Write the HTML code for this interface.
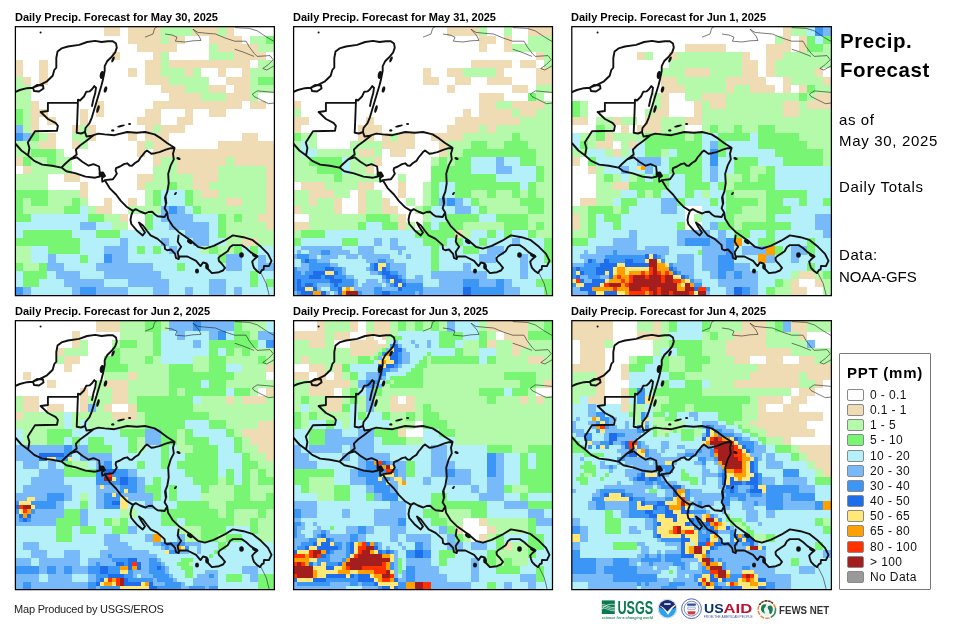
<!DOCTYPE html>
<html><head><meta charset="utf-8"><title>Precip. Forecast</title>
<style>
html,body{margin:0;padding:0;background:#fff}
body{width:970px;height:624px;position:relative;overflow:hidden;font-family:"Liberation Sans",sans-serif;color:#000}
.t{position:absolute;white-space:nowrap;line-height:1;will-change:transform;transform:translateZ(0);-webkit-font-smoothing:antialiased}
.pt{font-weight:bold;font-size:11px}
.sb{font-size:15px;left:839.2px}
.hd{font-weight:bold;font-size:20.5px;left:839.6px}
.lg{font-size:12px;left:870px;color:#111}
.sw{position:absolute;left:847px;width:15px;height:10px;border:1px solid #8a8a8a;border-radius:2px}
</style></head><body>
<svg width="970" height="624" viewBox="0 0 970 624" style="position:absolute;left:0;top:0" shape-rendering="crispEdges">
<defs><clipPath id="cp"><rect x="0" y="0" width="260" height="270"/></clipPath>
<g id="bd" shape-rendering="geometricPrecision"><path d="M0.0 66.0 L4.8 64.0 L12.0 62.2 L17.6 61.7 L24.0 59.3 L32.0 55.3 L37.7 49.7 L39.3 44.0 L41.3 41.7 L41.3 32.0 L42.5 25.6 L46.5 22.4 L52.9 20.5 L64.1 18.9 L72.1 16.0 L80.1 14.9 L86.5 16.0 L92.9 15.2 L97.8 15.2 L101.0 17.6 L101.8 21.6 L100.2 26.4 L96.2 31.3 L92.1 35.3 L89.7 40.1 L89.7 44.9 L88.1 52.9 L86.5 59.3 L84.1 67.3 L81.7 75.3 L79.3 83.3 L76.9 91.3 L74.5 97.2 L70.5 102.0 L70.0 106.0 L71.5 110.5 L76.9 109.6 M18.0 61.5 L22.0 59.0 L28.0 59.5 L28.5 62.5 L24.0 65.5 L19.0 65.0Z M63.0 73.7 L65.0 74.5 L69.0 70.5 L71.3 65.7 L74.5 65.4 L77.0 63.3 L79.3 60.1 L81.0 61.7 L80.2 67.3 L78.5 73.0 L77.0 80.0 M63.0 73.7 L62.4 90.0 L61.7 106.8 L66.0 107.5 L70.0 106.0 M63.0 76.9 L32.9 76.9 L32.9 85.0 L25.6 86.0 L33.0 93.0 L40.9 97.2 L42.9 99.9 L42.0 104.7 L20.0 105.2 L12.8 116.4 L14.4 122.0 L13.1 129.3 M0.0 117.2 L6.4 124.5 L12.8 129.3 L19.2 134.9 L27.2 138.6 L36.9 139.7 L46.5 141.6 L51.3 145.3 L60.9 147.4 L70.5 150.6 L80.1 151.7 L84.9 150.5 L84.5 147.0 L88.0 146.5 L90.0 150.0 L87.0 152.0 L87.3 155.7 L90.0 154.5 L94.6 162.1 L101.0 168.5 L105.8 174.9 L112.2 181.3 L118.0 184.9 L116.3 189.3 L115.5 194.0 L116.3 198.0 L121.5 204.2 L127.7 209.4 L130.0 206.5 L126.0 200.5 L124.0 196.5 L128.0 199.5 L132.1 205.0 L135.6 209.4 L142.6 212.9 L149.6 219.1 L150.0 223.0 L152.2 224.3 L156.0 223.5 L160.1 227.8 L161.0 232.0 L163.6 233.1 L164.5 230.5 L172.4 230.5 L181.1 234.8 L185.5 240.1 L188.0 236.5 L191.6 237.5 L193.0 243.0 L196.9 247.1 L203.9 246.2 L208.0 244.5 L210.0 241.9 L207.0 238.0 L203.9 234.8 L203.5 232.0 L204.8 230.5 L212.7 225.2 L215.0 221.0 L217.9 219.1 L226.7 219.1 L231.0 222.0 L235.5 226.1 L242.5 230.5 L239.5 233.0 L237.2 235.7 L238.0 239.0 L239.0 241.9 L242.0 245.0 L245.1 247.1 L247.0 244.0 L248.6 243.6 L249.0 240.0 L253.9 240.1 L256.5 234.8 L253.0 227.8 L246.0 220.8 L237.2 213.8 L228.5 211.2 L217.9 209.4 L209.2 214.7 L198.7 219.9 L189.9 222.6 L182.9 220.8 L175.9 214.7 L169.7 210.3 L163.6 205.9 L157.5 199.8 L153.1 192.8 L152.2 186.6 L149.6 182.3 L151.3 177.0 L150.5 170.0 M76.9 109.6 L83.3 107.6 L89.7 108.4 L99.4 109.2 L112.2 106.0 L121.8 106.8 L130.0 106.0 L139.6 108.4 L146.0 112.4 L152.4 117.2 L158.8 121.3 L159.6 122.0 L158.0 127.7 L158.8 133.3 L155.6 139.7 L153.2 147.7 L153.7 157.3 L152.4 165.3 L150.0 171.7 L150.8 177.3 M46.5 141.6 L50.0 138.0 L55.3 133.3 L58.5 131.0 L61.7 128.5 L60.9 123.7 L65.0 119.5 L70.5 115.6 L78.5 109.2 M55.3 133.3 L61.7 131.3 L67.3 135.7 L73.7 139.7 L78.5 138.1 L84.1 140.5 L84.9 147.7 M89.7 154.1 L97.8 153.3 L100.0 150.5 L101.8 147.7 L100.6 144.5 L101.0 142.1 L105.0 140.5 L109.0 138.1 L112.2 137.3 L114.5 139.5 L117.0 139.7 L120.0 137.0 L123.4 134.9 L125.5 131.5 L127.4 129.3 L130.0 126.1 L132.0 124.5 L136.4 127.7 L140.0 127.2 L144.4 126.1 L150.8 123.7 L155.0 122.3 L158.8 122.0 M118.0 184.9 L120.7 183.1 L125.0 185.5 L130.3 187.5 L133.5 186.0 L137.3 185.8 L140.0 188.5 L142.6 190.2 L149.6 191.0 L151.0 188.5 L152.2 186.6 M163.6 209.4 L162.7 215.6 L164.5 218.5 L166.2 220.8 L164.0 224.0 L162.7 226.1 L163.6 231.3" fill="none" stroke="#111" stroke-width="1.9" stroke-linejoin="round" stroke-linecap="round"/><g fill="#111"><ellipse cx="98" cy="33.5" rx="1.3" ry="3.2" transform="rotate(25 98 33.5)"/><ellipse cx="87" cy="49" rx="2.2" ry="4" transform="rotate(10 87 49)"/><ellipse cx="90.5" cy="63.5" rx="1.6" ry="3.2" transform="rotate(15 90.5 63.5)"/><ellipse cx="83" cy="83" rx="1.4" ry="4" transform="rotate(15 83 83)"/><ellipse cx="97.8" cy="104.4" rx="1.6" ry="1.2" transform="rotate(0 97.8 104.4)"/><ellipse cx="106" cy="100" rx="4" ry="1" transform="rotate(-15 106 100)"/><ellipse cx="114.6" cy="98" rx="1.6" ry="1.1" transform="rotate(0 114.6 98)"/><ellipse cx="163.5" cy="132.5" rx="2.2" ry="1.4" transform="rotate(20 163.5 132.5)"/><ellipse cx="160.5" cy="167.5" rx="1.8" ry="1" transform="rotate(-50 160.5 167.5)"/><ellipse cx="226.5" cy="229" rx="2.3" ry="2.7" transform="rotate(0 226.5 229)"/><ellipse cx="175" cy="215.5" rx="3.2" ry="2.2" transform="rotate(35 175 215.5)"/><ellipse cx="192" cy="240.5" rx="1.8" ry="3" transform="rotate(0 192 240.5)"/><ellipse cx="182" cy="245" rx="2" ry="2.6" transform="rotate(0 182 245)"/><ellipse cx="240" cy="229.5" rx="3.2" ry="1.6" transform="rotate(25 240 229.5)"/><ellipse cx="86.5" cy="149" rx="2.6" ry="2.2" transform="rotate(0 86.5 149)"/><ellipse cx="25.6" cy="6.6" rx="1" ry="1" transform="rotate(0 25.6 6.6)"/></g><path d="M130.0 11.2 L138.0 8.0 L139.6 2.4 L143.0 0.0 M150.0 8.0 L157.0 9.0 L162.0 11.2 L160.4 15.2 L170.0 16.0 L178.0 14.8 L186.0 14.4 L184.0 10.0 L178.0 3.2 L182.9 6.4 L190.9 7.2 L200.5 8.0 L210.1 12.0 L219.7 15.2 L231.0 15.2 L234.2 20.8 L239.0 27.2 L242.2 30.4 L255.0 29.6 L258.2 33.7 L253.4 38.5 L247.8 42.5 L251.8 44.0 L260.0 39.3 M219.7 23.2 L228.0 26.0 L239.0 30.4 M219.7 1.6 L234.2 2.4 L242.2 4.8 L251.8 11.2 L260.0 16.0 M237.4 68.1 L242.2 64.9 L251.8 65.7 L260.0 66.5 M237.4 68.1 L239.0 70.5 L245.4 73.7 L253.4 77.7 L260.0 76.9 M246.0 247.1 L251.2 257.6 L253.9 268.0 L254.0 270.0" fill="none" stroke="#222" stroke-width="0.6"/></g></defs>
<g transform="translate(15,26)"><g clip-path="url(#cp)">
<path fill="#f0dcb4" d="M89.14 0.00H105.38V2.05H89.14zM113.43 0.00H145.87V2.05H113.43zM178.22 0.00H202.56V2.05H178.22zM210.61 0.00H218.76V2.05H210.61zM89.14 2.00H105.38V6.09H89.14zM113.43 2.00H145.87V6.09H113.43zM178.22 2.00H202.56V6.09H178.22zM210.61 2.00H218.76V6.09H210.61zM89.14 6.04H105.38V10.14H89.14zM113.43 6.04H145.87V10.14H113.43zM178.22 6.04H202.56V10.14H178.22zM210.61 6.04H218.76V10.14H210.61zM113.43 10.09H145.87V14.18H113.43zM153.92 10.09H170.17V14.18H153.92zM194.41 10.09H226.85V14.18H194.41zM113.43 14.13H145.87V18.23H113.43zM153.92 14.13H170.17V18.23H153.92zM194.41 14.13H226.85V18.23H194.41zM121.53 18.18H162.07V22.27H121.53zM202.51 18.18H243.05V22.27H202.51zM121.53 22.22H162.07V26.31H121.53zM202.51 22.22H243.05V26.31H202.51zM97.24 26.26H105.38V30.36H97.24zM137.73 26.26H145.87V30.36H137.73zM218.71 26.26H251.15V30.36H218.71zM97.24 30.31H105.38V34.40H97.24zM137.73 30.31H145.87V34.40H137.73zM218.71 30.31H251.15V34.40H218.71zM0.00 34.35H8.21V38.45H0.00zM24.35 34.35H32.50V38.45H24.35zM129.63 34.35H145.87V38.45H129.63zM153.92 34.35H234.95V38.45H153.92zM0.00 38.40H8.21V42.49H0.00zM24.35 38.40H32.50V42.49H24.35zM129.63 38.40H145.87V42.49H129.63zM153.92 38.40H234.95V42.49H153.92zM0.00 42.44H8.21V46.53H0.00zM24.35 42.44H32.50V46.53H24.35zM113.43 42.44H121.58V46.53H113.43zM129.63 42.44H145.87V46.53H129.63zM170.12 42.44H178.27V46.53H170.12zM202.51 42.44H210.66V46.53H202.51zM226.80 42.44H234.95V46.53H226.80zM0.00 46.48H8.21V50.58H0.00zM24.35 46.48H32.50V50.58H24.35zM113.43 46.48H121.58V50.58H113.43zM129.63 46.48H145.87V50.58H129.63zM170.12 46.48H178.27V50.58H170.12zM202.51 46.48H210.66V50.58H202.51zM226.80 46.48H234.95V50.58H226.80zM8.16 50.53H16.31V54.62H8.16zM24.35 50.53H32.50V54.62H24.35zM129.63 50.53H153.97V54.62H129.63zM210.61 50.53H234.95V54.62H210.61zM8.16 54.57H16.31V58.67H8.16zM24.35 54.57H32.50V58.67H24.35zM129.63 54.57H153.97V58.67H129.63zM210.61 54.57H234.95V58.67H210.61zM145.82 58.62H170.17V62.71H145.82zM194.41 58.62H210.66V62.71H194.41zM218.71 58.62H234.95V62.71H218.71zM145.82 62.66H170.17V66.75H145.82zM194.41 62.66H210.66V66.75H194.41zM218.71 62.66H234.95V66.75H218.71zM153.92 66.70H186.36V70.80H153.92zM210.61 66.70H234.95V70.80H210.61zM153.92 70.75H186.36V74.84H153.92zM210.61 70.75H234.95V74.84H210.61zM16.26 74.79H24.40V78.89H16.26zM81.04 74.79H89.19V78.89H81.04zM137.73 74.79H226.85V78.89H137.73zM234.90 74.79H251.15V78.89H234.90zM16.26 78.84H24.40V82.93H16.26zM81.04 78.84H89.19V82.93H81.04zM137.73 78.84H226.85V82.93H137.73zM234.90 78.84H251.15V82.93H234.90zM16.26 82.88H32.50V86.97H16.26zM64.84 82.88H72.99V86.97H64.84zM81.04 82.88H89.19V86.97H81.04zM129.63 82.88H145.87V86.97H129.63zM170.12 82.88H178.27V86.97H170.12zM194.41 82.88H210.66V86.97H194.41zM16.26 86.92H32.50V91.02H16.26zM64.84 86.92H72.99V91.02H64.84zM81.04 86.92H89.19V91.02H81.04zM129.63 86.92H145.87V91.02H129.63zM170.12 86.92H178.27V91.02H170.12zM194.41 86.92H210.66V91.02H194.41zM16.26 90.97H24.40V95.06H16.26zM32.45 90.97H40.60V95.06H32.45zM64.84 90.97H72.99V95.06H64.84zM121.53 90.97H145.87V95.06H121.53zM162.02 90.97H178.27V95.06H162.02zM16.26 95.01H24.40V99.11H16.26zM32.45 95.01H40.60V99.11H32.45zM64.84 95.01H72.99V99.11H64.84zM121.53 95.01H145.87V99.11H121.53zM162.02 95.01H178.27V99.11H162.02zM16.26 99.06H24.40V103.15H16.26zM56.75 99.06H64.89V103.15H56.75zM72.94 99.06H81.09V103.15H72.94zM129.63 99.06H137.78V103.15H129.63zM145.82 99.06H170.17V103.15H145.82zM16.26 103.10H24.40V107.19H16.26zM56.75 103.10H64.89V107.19H56.75zM72.94 103.10H81.09V107.19H72.94zM129.63 103.10H137.78V107.19H129.63zM145.82 103.10H170.17V107.19H145.82zM32.45 107.14H40.60V111.24H32.45zM72.94 107.14H81.09V111.24H72.94zM113.43 107.14H121.58V111.24H113.43zM129.63 107.14H153.97V111.24H129.63zM226.80 107.14H243.05V111.24H226.80zM32.45 111.19H40.60V115.28H32.45zM72.94 111.19H81.09V115.28H72.94zM113.43 111.19H121.58V115.28H113.43zM129.63 111.19H153.97V115.28H129.63zM226.80 111.19H243.05V115.28H226.80zM24.35 115.23H40.60V119.33H24.35zM56.75 115.23H64.89V119.33H56.75zM121.53 115.23H129.68V119.33H121.53zM137.73 115.23H153.97V119.33H137.73zM202.51 115.23H260.05V119.33H202.51zM24.35 119.28H40.60V123.37H24.35zM56.75 119.28H64.89V123.37H56.75zM121.53 119.28H129.68V123.37H121.53zM137.73 119.28H153.97V123.37H137.73zM202.51 119.28H260.05V123.37H202.51zM121.53 123.32H129.68V127.41H121.53zM137.73 123.32H260.05V127.41H137.73zM121.53 127.36H129.68V131.46H121.53zM137.73 127.36H260.05V131.46H137.73zM0.00 131.41H8.21V135.50H0.00zM137.73 131.41H145.87V135.50H137.73zM162.02 131.41H210.66V135.50H162.02zM218.71 131.41H260.05V135.50H218.71zM0.00 135.45H8.21V139.55H0.00zM137.73 135.45H145.87V139.55H137.73zM162.02 135.45H210.66V139.55H162.02zM218.71 135.45H260.05V139.55H218.71zM8.16 139.50H16.31V143.59H8.16zM162.02 139.50H202.56V143.59H162.02zM251.10 139.50H260.05V143.59H251.10zM8.16 143.54H16.31V147.63H8.16zM162.02 143.54H202.56V147.63H162.02zM251.10 143.54H260.05V147.63H251.10zM48.65 147.58H64.89V151.68H48.65zM121.53 147.58H137.78V151.68H121.53zM178.22 147.58H202.56V151.68H178.22zM251.10 147.58H260.05V151.68H251.10zM48.65 151.63H64.89V155.72H48.65zM121.53 151.63H137.78V155.72H121.53zM178.22 151.63H202.56V155.72H178.22zM251.10 151.63H260.05V155.72H251.10zM64.84 155.67H72.99V159.77H64.84zM121.53 155.67H129.68V159.77H121.53zM178.22 155.67H194.46V159.77H178.22zM251.10 155.67H260.05V159.77H251.10zM64.84 159.72H72.99V163.81H64.84zM121.53 159.72H129.68V163.81H121.53zM178.22 159.72H194.46V163.81H178.22zM251.10 159.72H260.05V163.81H251.10zM64.84 163.76H72.99V167.85H64.84zM186.31 163.76H202.56V167.85H186.31zM251.10 163.76H260.05V167.85H251.10zM64.84 167.80H72.99V171.90H64.84zM186.31 167.80H202.56V171.90H186.31zM251.10 167.80H260.05V171.90H251.10zM89.14 171.85H97.29V175.94H89.14zM113.43 171.85H121.58V175.94H113.43zM210.61 171.85H226.85V175.94H210.61zM251.10 171.85H260.05V175.94H251.10zM89.14 175.89H97.29V179.99H89.14zM113.43 175.89H121.58V179.99H113.43zM210.61 175.89H226.85V179.99H210.61zM251.10 175.89H260.05V179.99H251.10zM81.04 179.94H97.29V184.03H81.04zM251.10 179.94H260.05V184.03H251.10zM81.04 183.98H97.29V188.07H81.04zM251.10 183.98H260.05V188.07H251.10zM105.33 188.02H113.48V192.12H105.33zM243.00 188.02H260.05V192.12H243.00zM105.33 192.07H113.48V196.16H105.33zM243.00 192.07H260.05V196.16H243.00zM251.10 196.11H260.05V200.21H251.10zM251.10 200.16H260.05V204.25H251.10zM226.80 212.29H243.05V216.38H226.80zM226.80 216.33H243.05V220.43H226.80z"/>
<path fill="#b4faaa" d="M145.82 0.00H178.27V2.05H145.82zM202.51 0.00H210.66V2.05H202.51zM145.82 2.00H178.27V6.09H145.82zM202.51 2.00H210.66V6.09H202.51zM145.82 6.04H178.27V10.14H145.82zM202.51 6.04H210.66V10.14H202.51zM145.82 10.09H153.97V14.18H145.82zM234.90 10.09H251.15V14.18H234.90zM145.82 14.13H153.97V18.23H145.82zM234.90 14.13H251.15V18.23H234.90zM194.41 18.18H202.56V22.27H194.41zM243.00 18.18H260.05V22.27H243.00zM194.41 22.22H202.56V26.31H194.41zM243.00 22.22H260.05V26.31H243.00zM145.82 26.26H153.97V30.36H145.82zM194.41 26.26H218.76V30.36H194.41zM145.82 30.31H153.97V34.40H145.82zM194.41 30.31H218.76V34.40H194.41zM145.82 34.35H153.97V38.45H145.82zM243.00 34.35H260.05V38.45H243.00zM145.82 38.40H153.97V42.49H145.82zM243.00 38.40H260.05V42.49H243.00zM145.82 42.44H170.17V46.53H145.82zM178.22 42.44H186.36V46.53H178.22zM234.90 42.44H260.05V46.53H234.90zM145.82 46.48H170.17V50.58H145.82zM178.22 46.48H186.36V50.58H178.22zM234.90 46.48H260.05V50.58H234.90zM0.00 50.53H8.21V54.62H0.00zM153.92 50.53H194.46V54.62H153.92zM234.90 50.53H243.05V54.62H234.90zM0.00 54.57H8.21V58.67H0.00zM153.92 54.57H194.46V58.67H153.92zM234.90 54.57H243.05V58.67H234.90zM0.00 58.62H16.31V62.71H0.00zM170.12 58.62H194.46V62.71H170.12zM234.90 58.62H260.05V62.71H234.90zM0.00 62.66H16.31V66.75H0.00zM170.12 62.66H194.46V66.75H170.12zM234.90 62.66H260.05V66.75H234.90zM0.00 66.70H16.31V70.80H0.00zM186.31 66.70H210.66V70.80H186.31zM234.90 66.70H243.05V70.80H234.90zM0.00 70.75H16.31V74.84H0.00zM186.31 70.75H210.66V74.84H186.31zM234.90 70.75H243.05V74.84H234.90zM0.00 74.79H16.31V78.89H0.00zM0.00 78.84H16.31V82.93H0.00zM8.16 82.88H16.31V86.97H8.16zM8.16 86.92H16.31V91.02H8.16zM8.16 90.97H16.31V95.06H8.16zM8.16 95.01H16.31V99.11H8.16zM8.16 99.06H16.31V103.15H8.16zM64.84 99.06H72.99V103.15H64.84zM137.73 99.06H145.87V103.15H137.73zM8.16 103.10H16.31V107.19H8.16zM64.84 103.10H72.99V107.19H64.84zM137.73 103.10H145.87V107.19H137.73zM24.35 107.14H32.50V111.24H24.35zM56.75 107.14H72.99V111.24H56.75zM24.35 111.19H32.50V115.28H24.35zM56.75 111.19H72.99V115.28H56.75zM0.00 115.23H24.40V119.33H0.00zM64.84 115.23H72.99V119.33H64.84zM129.63 115.23H137.78V119.33H129.63zM0.00 119.28H24.40V123.37H0.00zM64.84 119.28H72.99V123.37H64.84zM129.63 119.28H137.78V123.37H129.63zM0.00 123.32H16.31V127.41H0.00zM40.55 123.32H48.70V127.41H40.55zM0.00 127.36H16.31V131.46H0.00zM40.55 127.36H48.70V131.46H40.55zM16.26 131.41H32.50V135.50H16.26zM40.55 131.41H56.80V135.50H40.55zM145.82 131.41H162.07V135.50H145.82zM210.61 131.41H218.76V135.50H210.61zM16.26 135.45H32.50V139.55H16.26zM40.55 135.45H56.80V139.55H40.55zM145.82 135.45H162.07V139.55H145.82zM210.61 135.45H218.76V139.55H210.61zM16.26 139.50H56.80V143.59H16.26zM137.73 139.50H162.07V143.59H137.73zM202.51 139.50H251.15V143.59H202.51zM16.26 143.54H56.80V147.63H16.26zM137.73 143.54H162.07V147.63H137.73zM202.51 143.54H251.15V147.63H202.51zM0.00 147.58H32.50V151.68H0.00zM137.73 147.58H178.27V151.68H137.73zM202.51 147.58H251.15V151.68H202.51zM0.00 151.63H32.50V155.72H0.00zM137.73 151.63H178.27V155.72H137.73zM202.51 151.63H251.15V155.72H202.51zM0.00 155.67H32.50V159.77H0.00zM129.63 155.67H153.97V159.77H129.63zM162.02 155.67H178.27V159.77H162.02zM194.41 155.67H251.15V159.77H194.41zM0.00 159.72H32.50V163.81H0.00zM129.63 159.72H153.97V163.81H129.63zM162.02 159.72H178.27V163.81H162.02zM194.41 159.72H251.15V163.81H194.41zM32.45 163.76H64.89V167.85H32.45zM129.63 163.76H137.78V167.85H129.63zM178.22 163.76H186.36V167.85H178.22zM202.51 163.76H251.15V167.85H202.51zM32.45 167.80H64.89V171.90H32.45zM129.63 167.80H137.78V171.90H129.63zM178.22 167.80H186.36V171.90H178.22zM202.51 167.80H251.15V171.90H202.51zM8.16 171.85H16.31V175.94H8.16zM32.45 171.85H56.80V175.94H32.45zM64.84 171.85H72.99V175.94H64.84zM129.63 171.85H137.78V175.94H129.63zM178.22 171.85H210.66V175.94H178.22zM226.80 171.85H251.15V175.94H226.80zM8.16 175.89H16.31V179.99H8.16zM32.45 175.89H56.80V179.99H32.45zM64.84 175.89H72.99V179.99H64.84zM129.63 175.89H137.78V179.99H129.63zM178.22 175.89H210.66V179.99H178.22zM226.80 175.89H251.15V179.99H226.80zM8.16 179.94H48.70V184.03H8.16zM72.94 179.94H81.09V184.03H72.94zM113.43 179.94H145.87V184.03H113.43zM186.31 179.94H251.15V184.03H186.31zM8.16 183.98H48.70V188.07H8.16zM72.94 183.98H81.09V188.07H72.94zM113.43 183.98H145.87V188.07H113.43zM186.31 183.98H251.15V188.07H186.31zM89.14 188.02H105.38V192.12H89.14zM210.61 188.02H218.76V192.12H210.61zM226.80 188.02H243.05V192.12H226.80zM89.14 192.07H105.38V196.16H89.14zM210.61 192.07H218.76V196.16H210.61zM226.80 192.07H243.05V196.16H226.80zM97.24 196.11H113.48V200.21H97.24zM210.61 196.11H251.15V200.21H210.61zM97.24 200.16H113.48V204.25H97.24zM210.61 200.16H251.15V204.25H210.61zM210.61 204.20H260.05V208.29H210.61zM210.61 208.24H260.05V212.34H210.61zM210.61 212.29H226.85V216.38H210.61zM243.00 212.29H260.05V216.38H243.00zM210.61 216.33H226.85V220.43H210.61zM243.00 216.33H260.05V220.43H243.00zM0.00 220.38H16.31V224.47H0.00zM186.31 220.38H194.46V224.47H186.31zM202.51 220.38H218.76V224.47H202.51zM0.00 224.42H16.31V228.51H0.00zM186.31 224.42H194.46V228.51H186.31zM202.51 224.42H218.76V228.51H202.51zM0.00 228.46H16.31V232.56H0.00zM0.00 232.51H16.31V236.60H0.00zM8.16 236.55H24.40V240.65H8.16zM8.16 240.60H24.40V244.69H8.16z"/>
<path fill="#78f573" d="M251.10 10.09H260.05V14.18H251.10zM251.10 14.13H260.05V18.23H251.10zM243.00 50.53H260.05V54.62H243.00zM243.00 54.57H260.05V58.67H243.00zM0.00 82.88H8.21V86.97H0.00zM0.00 86.92H8.21V91.02H0.00zM0.00 90.97H8.21V95.06H0.00zM0.00 95.01H8.21V99.11H0.00zM16.26 107.14H24.40V111.24H16.26zM16.26 111.19H24.40V115.28H16.26zM16.26 123.32H40.60V127.41H16.26zM16.26 127.36H40.60V131.46H16.26zM8.16 131.41H16.31V135.50H8.16zM32.45 131.41H40.60V135.50H32.45zM8.16 135.45H16.31V139.55H8.16zM32.45 135.45H40.60V139.55H32.45zM153.92 155.67H162.07V159.77H153.92zM153.92 159.72H162.07V163.81H153.92zM0.00 163.76H32.50V167.85H0.00zM137.73 163.76H145.87V167.85H137.73zM170.12 163.76H178.27V167.85H170.12zM0.00 167.80H32.50V171.90H0.00zM137.73 167.80H145.87V171.90H137.73zM170.12 167.80H178.27V171.90H170.12zM0.00 171.85H8.21V175.94H0.00zM16.26 171.85H32.50V175.94H16.26zM56.75 171.85H64.89V175.94H56.75zM137.73 171.85H145.87V175.94H137.73zM170.12 171.85H178.27V175.94H170.12zM0.00 175.89H8.21V179.99H0.00zM16.26 175.89H32.50V179.99H16.26zM56.75 175.89H64.89V179.99H56.75zM137.73 175.89H145.87V179.99H137.73zM170.12 175.89H178.27V179.99H170.12zM0.00 179.94H8.21V184.03H0.00zM48.65 179.94H64.89V184.03H48.65zM178.22 179.94H186.36V184.03H178.22zM0.00 183.98H8.21V188.07H0.00zM48.65 183.98H64.89V188.07H48.65zM178.22 183.98H186.36V188.07H178.22zM0.00 188.02H16.31V192.12H0.00zM72.94 188.02H89.19V192.12H72.94zM129.63 188.02H137.78V192.12H129.63zM202.51 188.02H210.66V192.12H202.51zM218.71 188.02H226.85V192.12H218.71zM0.00 192.07H16.31V196.16H0.00zM72.94 192.07H89.19V196.16H72.94zM129.63 192.07H137.78V196.16H129.63zM202.51 192.07H210.66V196.16H202.51zM218.71 192.07H226.85V196.16H218.71zM129.63 196.11H137.78V200.21H129.63zM202.51 196.11H210.66V200.21H202.51zM129.63 200.16H137.78V204.25H129.63zM202.51 200.16H210.66V204.25H202.51zM8.16 204.20H56.80V208.29H8.16zM81.04 204.20H105.38V208.29H81.04zM202.51 204.20H210.66V208.29H202.51zM8.16 208.24H56.80V212.34H8.16zM81.04 208.24H105.38V212.34H81.04zM202.51 208.24H210.66V212.34H202.51zM0.00 212.29H64.89V216.38H0.00zM0.00 216.33H64.89V220.43H0.00zM32.45 220.38H64.89V224.47H32.45zM121.53 220.38H129.68V224.47H121.53zM137.73 220.38H145.87V224.47H137.73zM194.41 220.38H202.56V224.47H194.41zM218.71 220.38H226.85V224.47H218.71zM234.90 220.38H243.05V224.47H234.90zM32.45 224.42H64.89V228.51H32.45zM121.53 224.42H129.68V228.51H121.53zM137.73 224.42H145.87V228.51H137.73zM194.41 224.42H202.56V228.51H194.41zM218.71 224.42H226.85V228.51H218.71zM234.90 224.42H243.05V228.51H234.90zM64.84 228.46H72.99V232.56H64.84zM202.51 228.46H210.66V232.56H202.51zM64.84 232.51H72.99V236.60H64.84zM202.51 232.51H210.66V236.60H202.51zM0.00 236.55H8.21V240.65H0.00zM24.35 236.55H32.50V240.65H24.35zM162.02 236.55H170.17V240.65H162.02zM0.00 240.60H8.21V244.69H0.00zM24.35 240.60H32.50V244.69H24.35zM162.02 240.60H170.17V244.69H162.02zM8.16 244.64H32.50V248.73H8.16zM234.90 244.64H243.05V248.73H234.90zM8.16 248.68H32.50V252.78H8.16zM234.90 248.68H243.05V252.78H234.90zM8.16 252.73H24.40V256.82H8.16zM234.90 252.73H243.05V256.82H234.90zM251.10 252.73H260.05V256.82H251.10zM8.16 256.77H24.40V260.87H8.16zM234.90 256.77H243.05V260.87H234.90zM251.10 256.77H260.05V260.87H251.10z"/>
<path fill="#78b9fa" d="M0.00 99.06H8.21V103.15H0.00zM0.00 103.10H8.21V107.19H0.00zM8.16 107.14H16.31V111.24H8.16zM8.16 111.19H16.31V115.28H8.16zM145.82 179.94H153.97V184.03H145.82zM162.02 179.94H170.17V184.03H162.02zM145.82 183.98H153.97V188.07H145.82zM162.02 183.98H170.17V188.07H162.02zM145.82 188.02H178.27V192.12H145.82zM145.82 192.07H178.27V196.16H145.82zM64.84 196.11H81.09V200.21H64.84zM153.92 196.11H194.46V200.21H153.92zM64.84 200.16H81.09V204.25H64.84zM153.92 200.16H194.46V204.25H153.92zM170.12 204.20H194.46V208.29H170.12zM170.12 208.24H194.46V212.34H170.12zM105.33 212.29H113.48V216.38H105.33zM145.82 212.29H153.97V216.38H145.82zM178.22 212.29H194.46V216.38H178.22zM105.33 216.33H113.48V220.43H105.33zM145.82 216.33H153.97V220.43H145.82zM178.22 216.33H194.46V220.43H178.22zM89.14 220.38H113.48V224.47H89.14zM153.92 220.38H162.07V224.47H153.92zM89.14 224.42H113.48V228.51H89.14zM153.92 224.42H162.07V228.51H153.92zM32.45 228.46H40.60V232.56H32.45zM97.24 228.46H113.48V232.56H97.24zM210.61 228.46H226.85V232.56H210.61zM243.00 228.46H251.15V232.56H243.00zM32.45 232.51H40.60V236.60H32.45zM97.24 232.51H113.48V236.60H97.24zM210.61 232.51H226.85V236.60H210.61zM243.00 232.51H251.15V236.60H243.00zM32.45 236.55H48.70V240.65H32.45zM81.04 236.55H137.78V240.65H81.04zM210.61 236.55H226.85V240.65H210.61zM243.00 236.55H260.05V240.65H243.00zM32.45 240.60H48.70V244.69H32.45zM81.04 240.60H137.78V244.69H81.04zM210.61 240.60H226.85V244.69H210.61zM243.00 240.60H260.05V244.69H243.00zM40.55 244.64H64.89V248.73H40.55zM89.14 244.64H145.87V248.73H89.14zM40.55 248.68H64.89V252.78H40.55zM89.14 248.68H145.87V252.78H89.14zM48.65 252.73H89.19V256.82H48.65zM113.43 252.73H153.97V256.82H113.43zM194.41 252.73H210.66V256.82H194.41zM48.65 256.77H89.19V260.87H48.65zM113.43 256.77H153.97V260.87H113.43zM194.41 256.77H210.66V260.87H194.41zM8.16 260.82H16.31V264.91H8.16zM56.75 260.82H64.89V264.91H56.75zM81.04 260.82H113.48V264.91H81.04zM137.73 260.82H153.97V264.91H137.73zM170.12 260.82H178.27V264.91H170.12zM194.41 260.82H210.66V264.91H194.41zM218.71 260.82H226.85V264.91H218.71zM8.16 264.86H16.31V268.95H8.16zM56.75 264.86H64.89V268.95H56.75zM81.04 264.86H113.48V268.95H81.04zM137.73 264.86H153.97V268.95H137.73zM170.12 264.86H178.27V268.95H170.12zM194.41 264.86H210.66V268.95H194.41zM218.71 264.86H226.85V268.95H218.71z"/>
<path fill="#3c96f5" d="M0.00 107.14H8.21V111.24H0.00zM0.00 111.19H8.21V115.28H0.00zM153.92 179.94H162.07V184.03H153.92zM153.92 183.98H162.07V188.07H153.92zM89.14 228.46H97.29V232.56H89.14zM89.14 232.51H97.29V236.60H89.14zM0.00 260.82H8.21V264.91H0.00zM64.84 260.82H81.09V264.91H64.84zM0.00 264.86H8.21V268.95H0.00zM64.84 264.86H81.09V268.95H64.84z"/>
<path fill="#b4f0fa" d="M145.82 163.76H170.17V167.85H145.82zM145.82 167.80H170.17V171.90H145.82zM145.82 171.85H170.17V175.94H145.82zM145.82 175.89H170.17V179.99H145.82zM64.84 179.94H72.99V184.03H64.84zM170.12 179.94H178.27V184.03H170.12zM64.84 183.98H72.99V188.07H64.84zM170.12 183.98H178.27V188.07H170.12zM16.26 188.02H72.99V192.12H16.26zM137.73 188.02H145.87V192.12H137.73zM178.22 188.02H202.56V192.12H178.22zM16.26 192.07H72.99V196.16H16.26zM137.73 192.07H145.87V196.16H137.73zM178.22 192.07H202.56V196.16H178.22zM0.00 196.11H64.89V200.21H0.00zM81.04 196.11H97.29V200.21H81.04zM137.73 196.11H153.97V200.21H137.73zM194.41 196.11H202.56V200.21H194.41zM0.00 200.16H64.89V204.25H0.00zM81.04 200.16H97.29V204.25H81.04zM137.73 200.16H153.97V204.25H137.73zM194.41 200.16H202.56V204.25H194.41zM0.00 204.20H8.21V208.29H0.00zM56.75 204.20H81.09V208.29H56.75zM105.33 204.20H170.17V208.29H105.33zM194.41 204.20H202.56V208.29H194.41zM0.00 208.24H8.21V212.34H0.00zM56.75 208.24H81.09V212.34H56.75zM105.33 208.24H170.17V212.34H105.33zM194.41 208.24H202.56V212.34H194.41zM64.84 212.29H105.38V216.38H64.84zM113.43 212.29H145.87V216.38H113.43zM153.92 212.29H178.27V216.38H153.92zM194.41 212.29H210.66V216.38H194.41zM64.84 216.33H105.38V220.43H64.84zM113.43 216.33H145.87V220.43H113.43zM153.92 216.33H178.27V220.43H153.92zM194.41 216.33H210.66V220.43H194.41zM16.26 220.38H32.50V224.47H16.26zM64.84 220.38H89.19V224.47H64.84zM113.43 220.38H121.58V224.47H113.43zM129.63 220.38H137.78V224.47H129.63zM145.82 220.38H153.97V224.47H145.82zM162.02 220.38H186.36V224.47H162.02zM226.80 220.38H234.95V224.47H226.80zM243.00 220.38H260.05V224.47H243.00zM16.26 224.42H32.50V228.51H16.26zM64.84 224.42H89.19V228.51H64.84zM113.43 224.42H121.58V228.51H113.43zM129.63 224.42H137.78V228.51H129.63zM145.82 224.42H153.97V228.51H145.82zM162.02 224.42H186.36V228.51H162.02zM226.80 224.42H234.95V228.51H226.80zM243.00 224.42H260.05V228.51H243.00zM16.26 228.46H32.50V232.56H16.26zM40.55 228.46H64.89V232.56H40.55zM72.94 228.46H89.19V232.56H72.94zM113.43 228.46H202.56V232.56H113.43zM226.80 228.46H243.05V232.56H226.80zM251.10 228.46H260.05V232.56H251.10zM16.26 232.51H32.50V236.60H16.26zM40.55 232.51H64.89V236.60H40.55zM72.94 232.51H89.19V236.60H72.94zM113.43 232.51H202.56V236.60H113.43zM226.80 232.51H243.05V236.60H226.80zM251.10 232.51H260.05V236.60H251.10zM48.65 236.55H81.09V240.65H48.65zM137.73 236.55H162.07V240.65H137.73zM170.12 236.55H210.66V240.65H170.12zM226.80 236.55H243.05V240.65H226.80zM48.65 240.60H81.09V244.69H48.65zM137.73 240.60H162.07V244.69H137.73zM170.12 240.60H210.66V244.69H170.12zM226.80 240.60H243.05V244.69H226.80zM0.00 244.64H8.21V248.73H0.00zM32.45 244.64H40.60V248.73H32.45zM64.84 244.64H89.19V248.73H64.84zM145.82 244.64H234.95V248.73H145.82zM243.00 244.64H260.05V248.73H243.00zM0.00 248.68H8.21V252.78H0.00zM32.45 248.68H40.60V252.78H32.45zM64.84 248.68H89.19V252.78H64.84zM145.82 248.68H234.95V252.78H145.82zM243.00 248.68H260.05V252.78H243.00zM0.00 252.73H8.21V256.82H0.00zM24.35 252.73H48.70V256.82H24.35zM89.14 252.73H113.48V256.82H89.14zM153.92 252.73H194.46V256.82H153.92zM210.61 252.73H234.95V256.82H210.61zM243.00 252.73H251.15V256.82H243.00zM0.00 256.77H8.21V260.87H0.00zM24.35 256.77H48.70V260.87H24.35zM89.14 256.77H113.48V260.87H89.14zM153.92 256.77H194.46V260.87H153.92zM210.61 256.77H234.95V260.87H210.61zM243.00 256.77H251.15V260.87H243.00zM16.26 260.82H56.80V264.91H16.26zM113.43 260.82H137.78V264.91H113.43zM153.92 260.82H170.17V264.91H153.92zM178.22 260.82H194.46V264.91H178.22zM210.61 260.82H218.76V264.91H210.61zM226.80 260.82H260.05V264.91H226.80zM16.26 264.86H56.80V268.95H16.26zM113.43 264.86H137.78V268.95H113.43zM153.92 264.86H170.17V268.95H153.92zM178.22 264.86H194.46V268.95H178.22zM210.61 264.86H218.76V268.95H210.61zM226.80 264.86H260.05V268.95H226.80z"/>
<use href="#bd"/></g>
<rect x="0.4" y="0.68" width="259.0" height="268.95" fill="none" stroke="#000" stroke-width="1.25" shape-rendering="geometricPrecision"/></g>
<g transform="translate(293,26)"><g clip-path="url(#cp)">
<path fill="#f0dcb4" d="M153.92 0.00H186.36V2.05H153.92zM234.90 0.00H260.05V2.05H234.90zM153.92 2.00H186.36V6.09H153.92zM234.90 2.00H260.05V6.09H234.90zM153.92 6.04H186.36V10.14H153.92zM234.90 6.04H260.05V10.14H234.90zM186.31 10.09H202.56V14.18H186.31zM210.61 10.09H218.76V14.18H210.61zM186.31 14.13H202.56V18.23H186.31zM210.61 14.13H218.76V18.23H210.61zM186.31 18.18H194.46V22.27H186.31zM210.61 18.18H218.76V22.27H210.61zM186.31 22.22H194.46V26.31H186.31zM210.61 22.22H218.76V26.31H210.61zM243.00 26.26H251.15V30.36H243.00zM243.00 30.31H251.15V34.40H243.00zM178.22 34.35H218.76V38.45H178.22zM226.80 34.35H243.05V38.45H226.80zM178.22 38.40H218.76V42.49H178.22zM226.80 38.40H243.05V42.49H226.80zM129.63 42.44H137.78V46.53H129.63zM153.92 42.44H170.17V46.53H153.92zM202.51 42.44H210.66V46.53H202.51zM243.00 42.44H260.05V46.53H243.00zM129.63 46.48H137.78V50.58H129.63zM153.92 46.48H170.17V50.58H153.92zM202.51 46.48H210.66V50.58H202.51zM243.00 46.48H260.05V50.58H243.00zM129.63 50.53H145.87V54.62H129.63zM162.02 50.53H178.27V54.62H162.02zM194.41 50.53H218.76V54.62H194.41zM243.00 50.53H260.05V54.62H243.00zM129.63 54.57H145.87V58.67H129.63zM162.02 54.57H178.27V58.67H162.02zM194.41 54.57H218.76V58.67H194.41zM243.00 54.57H260.05V58.67H243.00zM153.92 58.62H162.07V62.71H153.92zM218.71 58.62H234.95V62.71H218.71zM153.92 62.66H162.07V66.75H153.92zM218.71 62.66H234.95V66.75H218.71zM186.31 66.70H210.66V70.80H186.31zM186.31 70.75H210.66V74.84H186.31zM0.00 74.79H8.21V78.89H0.00zM186.31 74.79H202.56V78.89H186.31zM218.71 74.79H251.15V78.89H218.71zM0.00 78.84H8.21V82.93H0.00zM186.31 78.84H202.56V82.93H186.31zM218.71 78.84H251.15V82.93H218.71zM170.12 82.88H178.27V86.97H170.12zM186.31 82.88H218.76V86.97H186.31zM226.80 82.88H243.05V86.97H226.80zM170.12 86.92H178.27V91.02H170.12zM186.31 86.92H218.76V91.02H186.31zM226.80 86.92H243.05V91.02H226.80zM0.00 90.97H16.31V95.06H0.00zM72.94 90.97H81.09V95.06H72.94zM162.02 90.97H226.85V95.06H162.02zM0.00 95.01H16.31V99.11H0.00zM72.94 95.01H81.09V99.11H72.94zM162.02 95.01H226.85V99.11H162.02zM0.00 99.06H8.21V103.15H0.00zM64.84 99.06H89.19V103.15H64.84zM153.92 99.06H186.36V103.15H153.92zM194.41 99.06H202.56V103.15H194.41zM0.00 103.10H8.21V107.19H0.00zM64.84 103.10H89.19V107.19H64.84zM153.92 103.10H186.36V107.19H153.92zM194.41 103.10H202.56V107.19H194.41zM64.84 107.14H81.09V111.24H64.84zM89.14 107.14H97.29V111.24H89.14zM105.33 107.14H121.58V111.24H105.33zM137.73 107.14H170.17V111.24H137.73zM64.84 111.19H81.09V115.28H64.84zM89.14 111.19H97.29V115.28H89.14zM105.33 111.19H121.58V115.28H105.33zM137.73 111.19H170.17V115.28H137.73zM89.14 115.23H121.58V119.33H89.14zM145.82 115.23H153.97V119.33H145.82zM89.14 119.28H121.58V123.37H89.14zM145.82 119.28H153.97V123.37H145.82zM64.84 123.32H81.09V127.41H64.84zM97.24 123.32H113.48V127.41H97.24zM145.82 123.32H153.97V127.41H145.82zM64.84 127.36H81.09V131.46H64.84zM97.24 127.36H113.48V131.46H97.24zM145.82 127.36H153.97V131.46H145.82zM81.04 131.41H89.19V135.50H81.04zM81.04 135.45H89.19V139.55H81.04zM72.94 139.50H81.09V143.59H72.94zM72.94 143.54H81.09V147.63H72.94zM8.16 155.67H32.50V159.77H8.16zM64.84 155.67H81.09V159.77H64.84zM105.33 155.67H113.48V159.77H105.33zM8.16 159.72H32.50V163.81H8.16zM64.84 159.72H81.09V163.81H64.84zM105.33 159.72H113.48V163.81H105.33zM16.26 163.76H40.60V167.85H16.26zM64.84 163.76H72.99V167.85H64.84zM105.33 163.76H113.48V167.85H105.33zM16.26 167.80H40.60V171.90H16.26zM64.84 167.80H72.99V171.90H64.84zM105.33 167.80H113.48V171.90H105.33zM16.26 171.85H24.40V175.94H16.26zM40.55 171.85H48.70V175.94H40.55zM64.84 171.85H72.99V175.94H64.84zM89.14 171.85H97.29V175.94H89.14zM16.26 175.89H24.40V179.99H16.26zM40.55 175.89H48.70V179.99H40.55zM64.84 175.89H72.99V179.99H64.84zM89.14 175.89H97.29V179.99H89.14zM0.00 179.94H8.21V184.03H0.00zM40.55 179.94H48.70V184.03H40.55zM64.84 179.94H72.99V184.03H64.84zM89.14 179.94H105.38V184.03H89.14zM0.00 183.98H8.21V188.07H0.00zM40.55 183.98H48.70V188.07H40.55zM64.84 183.98H72.99V188.07H64.84zM89.14 183.98H105.38V188.07H89.14zM105.33 188.02H113.48V192.12H105.33zM105.33 192.07H113.48V196.16H105.33zM0.00 196.11H16.31V200.21H0.00zM105.33 196.11H113.48V200.21H105.33zM0.00 200.16H16.31V204.25H0.00zM105.33 200.16H113.48V204.25H105.33zM162.02 204.20H170.17V208.29H162.02zM162.02 208.24H170.17V212.34H162.02z"/>
<path fill="#b4faaa" d="M186.31 0.00H194.46V2.05H186.31zM210.61 0.00H218.76V2.05H210.61zM186.31 2.00H194.46V6.09H186.31zM210.61 2.00H218.76V6.09H210.61zM186.31 6.04H194.46V10.14H186.31zM210.61 6.04H218.76V10.14H210.61zM234.90 10.09H260.05V14.18H234.90zM234.90 14.13H260.05V18.23H234.90zM218.71 18.18H260.05V22.27H218.71zM218.71 22.22H260.05V26.31H218.71zM251.10 26.26H260.05V30.36H251.10zM251.10 30.31H260.05V34.40H251.10zM251.10 34.35H260.05V38.45H251.10zM251.10 38.40H260.05V42.49H251.10zM170.12 42.44H202.56V46.53H170.12zM170.12 46.48H202.56V50.58H170.12zM243.00 58.62H260.05V62.71H243.00zM243.00 62.66H260.05V66.75H243.00zM243.00 66.70H251.15V70.80H243.00zM243.00 70.75H251.15V74.84H243.00zM202.51 74.79H218.76V78.89H202.51zM251.10 74.79H260.05V78.89H251.10zM202.51 78.84H218.76V82.93H202.51zM251.10 78.84H260.05V82.93H251.10zM0.00 82.88H8.21V86.97H0.00zM218.71 82.88H226.85V86.97H218.71zM243.00 82.88H260.05V86.97H243.00zM0.00 86.92H8.21V91.02H0.00zM218.71 86.92H226.85V91.02H218.71zM243.00 86.92H260.05V91.02H243.00zM226.80 90.97H260.05V95.06H226.80zM226.80 95.01H260.05V99.11H226.80zM186.31 99.06H194.46V103.15H186.31zM202.51 99.06H260.05V103.15H202.51zM186.31 103.10H194.46V107.19H186.31zM202.51 103.10H260.05V107.19H202.51zM8.16 107.14H24.40V111.24H8.16zM97.24 107.14H105.38V111.24H97.24zM170.12 107.14H218.76V111.24H170.12zM226.80 107.14H260.05V111.24H226.80zM8.16 111.19H24.40V115.28H8.16zM97.24 111.19H105.38V115.28H97.24zM170.12 111.19H218.76V115.28H170.12zM226.80 111.19H260.05V115.28H226.80zM0.00 115.23H8.21V119.33H0.00zM16.26 115.23H24.40V119.33H16.26zM56.75 115.23H89.19V119.33H56.75zM153.92 115.23H178.27V119.33H153.92zM194.41 115.23H210.66V119.33H194.41zM234.90 115.23H260.05V119.33H234.90zM0.00 119.28H8.21V123.37H0.00zM16.26 119.28H24.40V123.37H16.26zM56.75 119.28H89.19V123.37H56.75zM153.92 119.28H178.27V123.37H153.92zM194.41 119.28H210.66V123.37H194.41zM234.90 119.28H260.05V123.37H234.90zM0.00 123.32H8.21V127.41H0.00zM24.35 123.32H64.89V127.41H24.35zM81.04 123.32H89.19V127.41H81.04zM153.92 123.32H170.17V127.41H153.92zM243.00 123.32H260.05V127.41H243.00zM0.00 127.36H8.21V131.46H0.00zM24.35 127.36H64.89V131.46H24.35zM81.04 127.36H89.19V131.46H81.04zM153.92 127.36H170.17V131.46H153.92zM243.00 127.36H260.05V131.46H243.00zM0.00 131.41H16.31V135.50H0.00zM56.75 131.41H81.09V135.50H56.75zM137.73 131.41H145.87V135.50H137.73zM153.92 131.41H162.07V135.50H153.92zM243.00 131.41H260.05V135.50H243.00zM0.00 135.45H16.31V139.55H0.00zM56.75 135.45H81.09V139.55H56.75zM137.73 135.45H145.87V139.55H137.73zM153.92 135.45H162.07V139.55H153.92zM243.00 135.45H260.05V139.55H243.00zM0.00 139.50H24.40V143.59H0.00zM56.75 139.50H72.99V143.59H56.75zM251.10 139.50H260.05V143.59H251.10zM0.00 143.54H24.40V147.63H0.00zM56.75 143.54H72.99V147.63H56.75zM251.10 143.54H260.05V147.63H251.10zM0.00 147.58H40.60V151.68H0.00zM48.65 147.58H89.19V151.68H48.65zM105.33 147.58H113.48V151.68H105.33zM251.10 147.58H260.05V151.68H251.10zM0.00 151.63H40.60V155.72H0.00zM48.65 151.63H89.19V155.72H48.65zM105.33 151.63H113.48V155.72H105.33zM251.10 151.63H260.05V155.72H251.10zM32.45 155.67H64.89V159.77H32.45zM129.63 155.67H137.78V159.77H129.63zM243.00 155.67H260.05V159.77H243.00zM32.45 159.72H64.89V163.81H32.45zM129.63 159.72H137.78V163.81H129.63zM243.00 159.72H260.05V163.81H243.00zM0.00 163.76H16.31V167.85H0.00zM40.55 163.76H56.80V167.85H40.55zM72.94 163.76H89.19V167.85H72.94zM129.63 163.76H137.78V167.85H129.63zM178.22 163.76H194.46V167.85H178.22zM202.51 163.76H218.76V167.85H202.51zM226.80 163.76H234.95V167.85H226.80zM243.00 163.76H260.05V167.85H243.00zM0.00 167.80H16.31V171.90H0.00zM40.55 167.80H56.80V171.90H40.55zM72.94 167.80H89.19V171.90H72.94zM129.63 167.80H137.78V171.90H129.63zM178.22 167.80H194.46V171.90H178.22zM202.51 167.80H218.76V171.90H202.51zM226.80 167.80H234.95V171.90H226.80zM243.00 167.80H260.05V171.90H243.00zM0.00 171.85H16.31V175.94H0.00zM24.35 171.85H40.60V175.94H24.35zM72.94 171.85H89.19V175.94H72.94zM113.43 171.85H121.58V175.94H113.43zM129.63 171.85H137.78V175.94H129.63zM186.31 171.85H226.85V175.94H186.31zM251.10 171.85H260.05V175.94H251.10zM0.00 175.89H16.31V179.99H0.00zM24.35 175.89H40.60V179.99H24.35zM72.94 175.89H89.19V179.99H72.94zM113.43 175.89H121.58V179.99H113.43zM129.63 175.89H137.78V179.99H129.63zM186.31 175.89H226.85V179.99H186.31zM251.10 175.89H260.05V179.99H251.10zM8.16 179.94H40.60V184.03H8.16zM72.94 179.94H89.19V184.03H72.94zM121.53 179.94H129.68V184.03H121.53zM194.41 179.94H234.95V184.03H194.41zM251.10 179.94H260.05V184.03H251.10zM8.16 183.98H40.60V188.07H8.16zM72.94 183.98H89.19V188.07H72.94zM121.53 183.98H129.68V188.07H121.53zM194.41 183.98H234.95V188.07H194.41zM251.10 183.98H260.05V188.07H251.10zM16.26 188.02H72.99V192.12H16.26zM97.24 188.02H105.38V192.12H97.24zM129.63 188.02H137.78V192.12H129.63zM234.90 188.02H260.05V192.12H234.90zM16.26 192.07H72.99V196.16H16.26zM97.24 192.07H105.38V196.16H97.24zM129.63 192.07H137.78V196.16H129.63zM234.90 192.07H260.05V196.16H234.90zM16.26 196.11H64.89V200.21H16.26zM113.43 196.11H121.58V200.21H113.43zM170.12 196.11H210.66V200.21H170.12zM234.90 196.11H243.05V200.21H234.90zM251.10 196.11H260.05V200.21H251.10zM16.26 200.16H64.89V204.25H16.26zM113.43 200.16H121.58V204.25H113.43zM170.12 200.16H210.66V204.25H170.12zM234.90 200.16H243.05V204.25H234.90zM251.10 200.16H260.05V204.25H251.10zM0.00 204.20H8.21V208.29H0.00zM170.12 204.20H178.27V208.29H170.12zM243.00 204.20H260.05V208.29H243.00zM0.00 208.24H8.21V212.34H0.00zM170.12 208.24H178.27V212.34H170.12zM243.00 208.24H260.05V212.34H243.00z"/>
<path fill="#78f573" d="M234.90 66.70H243.05V70.80H234.90zM234.90 70.75H243.05V74.84H234.90zM0.00 107.14H8.21V111.24H0.00zM218.71 107.14H226.85V111.24H218.71zM0.00 111.19H8.21V115.28H0.00zM218.71 111.19H226.85V115.28H218.71zM178.22 115.23H194.46V119.33H178.22zM210.61 115.23H234.95V119.33H210.61zM178.22 119.28H194.46V123.37H178.22zM210.61 119.28H234.95V123.37H210.61zM170.12 123.32H243.05V127.41H170.12zM170.12 127.36H243.05V131.46H170.12zM16.26 131.41H48.70V135.50H16.26zM145.82 131.41H153.97V135.50H145.82zM162.02 131.41H178.27V135.50H162.02zM226.80 131.41H243.05V135.50H226.80zM16.26 135.45H48.70V139.55H16.26zM145.82 135.45H153.97V139.55H145.82zM162.02 135.45H178.27V139.55H162.02zM226.80 135.45H243.05V139.55H226.80zM24.35 139.50H48.70V143.59H24.35zM137.73 139.50H178.27V143.59H137.73zM243.00 139.50H251.15V143.59H243.00zM24.35 143.54H48.70V147.63H24.35zM137.73 143.54H178.27V147.63H137.73zM243.00 143.54H251.15V147.63H243.00zM40.55 147.58H48.70V151.68H40.55zM137.73 147.58H202.56V151.68H137.73zM243.00 147.58H251.15V151.68H243.00zM40.55 151.63H48.70V155.72H40.55zM137.73 151.63H202.56V155.72H137.73zM243.00 151.63H251.15V155.72H243.00zM137.73 155.67H145.87V159.77H137.73zM162.02 155.67H226.85V159.77H162.02zM234.90 155.67H243.05V159.77H234.90zM137.73 159.72H145.87V163.81H137.73zM162.02 159.72H226.85V163.81H162.02zM234.90 159.72H243.05V163.81H234.90zM137.73 163.76H145.87V167.85H137.73zM162.02 163.76H178.27V167.85H162.02zM194.41 163.76H202.56V167.85H194.41zM218.71 163.76H226.85V167.85H218.71zM234.90 163.76H243.05V167.85H234.90zM137.73 167.80H145.87V171.90H137.73zM162.02 167.80H178.27V171.90H162.02zM194.41 167.80H202.56V171.90H194.41zM218.71 167.80H226.85V171.90H218.71zM234.90 167.80H243.05V171.90H234.90zM137.73 171.85H145.87V175.94H137.73zM178.22 171.85H186.36V175.94H178.22zM226.80 171.85H251.15V175.94H226.80zM137.73 175.89H145.87V179.99H137.73zM178.22 175.89H186.36V179.99H178.22zM226.80 175.89H251.15V179.99H226.80zM129.63 179.94H137.78V184.03H129.63zM186.31 179.94H194.46V184.03H186.31zM234.90 179.94H251.15V184.03H234.90zM129.63 183.98H137.78V188.07H129.63zM186.31 183.98H194.46V188.07H186.31zM234.90 183.98H251.15V188.07H234.90zM72.94 188.02H97.29V192.12H72.94zM153.92 188.02H186.36V192.12H153.92zM202.51 188.02H234.95V192.12H202.51zM72.94 192.07H97.29V196.16H72.94zM153.92 192.07H186.36V196.16H153.92zM202.51 192.07H234.95V196.16H202.51zM64.84 196.11H72.99V200.21H64.84zM89.14 196.11H105.38V200.21H89.14zM129.63 196.11H137.78V200.21H129.63zM145.82 196.11H170.17V200.21H145.82zM210.61 196.11H234.95V200.21H210.61zM243.00 196.11H251.15V200.21H243.00zM64.84 200.16H72.99V204.25H64.84zM89.14 200.16H105.38V204.25H89.14zM129.63 200.16H137.78V204.25H129.63zM145.82 200.16H170.17V204.25H145.82zM210.61 200.16H234.95V204.25H210.61zM243.00 200.16H251.15V204.25H243.00zM8.16 204.20H32.50V208.29H8.16zM121.53 204.20H162.07V208.29H121.53zM194.41 204.20H202.56V208.29H194.41zM210.61 204.20H218.76V208.29H210.61zM234.90 204.20H243.05V208.29H234.90zM8.16 208.24H32.50V212.34H8.16zM121.53 208.24H162.07V212.34H121.53zM194.41 208.24H202.56V212.34H194.41zM210.61 208.24H218.76V212.34H210.61zM234.90 208.24H243.05V212.34H234.90zM0.00 212.29H8.21V216.38H0.00zM48.65 212.29H64.89V216.38H48.65zM129.63 212.29H153.97V216.38H129.63zM162.02 212.29H170.17V216.38H162.02zM186.31 212.29H194.46V216.38H186.31zM251.10 212.29H260.05V216.38H251.10zM0.00 216.33H8.21V220.43H0.00zM48.65 216.33H64.89V220.43H48.65zM129.63 216.33H153.97V220.43H129.63zM162.02 216.33H170.17V220.43H162.02zM186.31 216.33H194.46V220.43H186.31zM251.10 216.33H260.05V220.43H251.10zM137.73 220.38H145.87V224.47H137.73zM170.12 220.38H186.36V224.47H170.12zM251.10 220.38H260.05V224.47H251.10zM137.73 224.42H145.87V228.51H137.73zM170.12 224.42H186.36V228.51H170.12zM251.10 224.42H260.05V228.51H251.10zM137.73 228.46H145.87V232.56H137.73zM251.10 228.46H260.05V232.56H251.10zM137.73 232.51H145.87V236.60H137.73zM251.10 232.51H260.05V236.60H251.10zM137.73 236.55H145.87V240.65H137.73zM137.73 240.60H145.87V244.69H137.73zM243.00 252.73H260.05V256.82H243.00zM243.00 256.77H260.05V260.87H243.00zM251.10 260.82H260.05V264.91H251.10zM251.10 264.86H260.05V268.95H251.10z"/>
<path fill="#b4f0fa" d="M8.16 115.23H16.31V119.33H8.16zM8.16 119.28H16.31V123.37H8.16zM8.16 123.32H24.40V127.41H8.16zM8.16 127.36H24.40V131.46H8.16zM48.65 131.41H56.80V135.50H48.65zM178.22 131.41H202.56V135.50H178.22zM210.61 131.41H226.85V135.50H210.61zM48.65 135.45H56.80V139.55H48.65zM178.22 135.45H202.56V139.55H178.22zM210.61 135.45H226.85V139.55H210.61zM48.65 139.50H56.80V143.59H48.65zM178.22 139.50H202.56V143.59H178.22zM218.71 139.50H243.05V143.59H218.71zM48.65 143.54H56.80V147.63H48.65zM178.22 143.54H202.56V147.63H178.22zM218.71 143.54H243.05V147.63H218.71zM202.51 147.58H243.05V151.68H202.51zM202.51 151.63H243.05V155.72H202.51zM145.82 155.67H162.07V159.77H145.82zM226.80 155.67H234.95V159.77H226.80zM145.82 159.72H162.07V163.81H145.82zM226.80 159.72H234.95V163.81H226.80zM145.82 163.76H162.07V167.85H145.82zM145.82 167.80H162.07V171.90H145.82zM170.12 171.85H178.27V175.94H170.12zM170.12 175.89H178.27V179.99H170.12zM137.73 179.94H162.07V184.03H137.73zM178.22 179.94H186.36V184.03H178.22zM137.73 183.98H162.07V188.07H137.73zM178.22 183.98H186.36V188.07H178.22zM137.73 188.02H153.97V192.12H137.73zM186.31 188.02H202.56V192.12H186.31zM137.73 192.07H153.97V196.16H137.73zM186.31 192.07H202.56V196.16H186.31zM72.94 196.11H89.19V200.21H72.94zM137.73 196.11H145.87V200.21H137.73zM72.94 200.16H89.19V204.25H72.94zM137.73 200.16H145.87V204.25H137.73zM32.45 204.20H121.58V208.29H32.45zM178.22 204.20H194.46V208.29H178.22zM202.51 204.20H210.66V208.29H202.51zM218.71 204.20H234.95V208.29H218.71zM32.45 208.24H121.58V212.34H32.45zM178.22 208.24H194.46V212.34H178.22zM202.51 208.24H210.66V212.34H202.51zM218.71 208.24H234.95V212.34H218.71zM8.16 212.29H48.70V216.38H8.16zM64.84 212.29H81.09V216.38H64.84zM89.14 212.29H97.29V216.38H89.14zM105.33 212.29H129.68V216.38H105.33zM153.92 212.29H162.07V216.38H153.92zM170.12 212.29H186.36V216.38H170.12zM194.41 212.29H218.76V216.38H194.41zM226.80 212.29H251.15V216.38H226.80zM8.16 216.33H48.70V220.43H8.16zM64.84 216.33H81.09V220.43H64.84zM89.14 216.33H97.29V220.43H89.14zM105.33 216.33H129.68V220.43H105.33zM153.92 216.33H162.07V220.43H153.92zM170.12 216.33H186.36V220.43H170.12zM194.41 216.33H218.76V220.43H194.41zM226.80 216.33H251.15V220.43H226.80zM0.00 220.38H8.21V224.47H0.00zM48.65 220.38H64.89V224.47H48.65zM81.04 220.38H97.29V224.47H81.04zM113.43 220.38H137.78V224.47H113.43zM145.82 220.38H170.17V224.47H145.82zM186.31 220.38H194.46V224.47H186.31zM210.61 220.38H251.15V224.47H210.61zM0.00 224.42H4.16V228.51H0.00zM8.16 224.42H16.31V228.51H8.16zM56.75 224.42H64.89V228.51H56.75zM81.04 224.42H105.38V228.51H81.04zM109.38 224.42H137.78V228.51H109.38zM145.82 224.42H170.17V228.51H145.82zM186.31 224.42H194.46V228.51H186.31zM210.61 224.42H251.15V228.51H210.61zM24.35 228.46H28.45V232.56H24.35zM44.60 228.46H52.75V232.56H44.60zM64.84 228.46H68.94V232.56H64.84zM97.24 228.46H113.48V232.56H97.24zM117.48 228.46H137.78V232.56H117.48zM145.82 228.46H186.36V232.56H145.82zM202.51 228.46H226.85V232.56H202.51zM234.90 228.46H251.15V232.56H234.90zM0.00 232.51H8.21V236.60H0.00zM36.50 232.51H72.99V236.60H36.50zM101.29 232.51H137.78V236.60H101.29zM145.82 232.51H186.36V236.60H145.82zM202.51 232.51H226.85V236.60H202.51zM234.90 232.51H251.15V236.60H234.90zM0.00 236.55H8.21V240.65H0.00zM44.60 236.55H77.04V240.65H44.60zM113.43 236.55H137.78V240.65H113.43zM145.82 236.55H170.17V240.65H145.82zM178.22 236.55H226.85V240.65H178.22zM234.90 236.55H260.05V240.65H234.90zM52.70 240.60H72.99V244.69H52.70zM113.43 240.60H137.78V244.69H113.43zM145.82 240.60H170.17V244.69H145.82zM178.22 240.60H226.85V244.69H178.22zM234.90 240.60H260.05V244.69H234.90zM52.70 244.64H77.04V248.73H52.70zM113.43 244.64H137.78V248.73H113.43zM194.41 244.64H226.85V248.73H194.41zM234.90 244.64H260.05V248.73H234.90zM60.80 248.68H89.19V252.78H60.80zM113.43 248.68H121.58V252.78H113.43zM129.63 248.68H137.78V252.78H129.63zM194.41 248.68H226.85V252.78H194.41zM234.90 248.68H260.05V252.78H234.90zM64.84 252.73H72.99V256.82H64.84zM85.09 252.73H89.19V256.82H85.09zM129.63 252.73H145.87V256.82H129.63zM218.71 252.73H243.05V256.82H218.71zM64.84 256.77H68.94V260.87H64.84zM89.14 256.77H93.24V260.87H89.14zM129.63 256.77H145.87V260.87H129.63zM218.71 256.77H243.05V260.87H218.71zM28.40 260.82H36.55V264.91H28.40zM226.80 260.82H251.15V264.91H226.80zM36.50 264.86H40.60V268.95H36.50zM226.80 264.86H251.15V268.95H226.80z"/>
<path fill="#78b9fa" d="M202.51 131.41H210.66V135.50H202.51zM202.51 135.45H210.66V139.55H202.51zM202.51 139.50H218.76V143.59H202.51zM202.51 143.54H218.76V147.63H202.51zM145.82 171.85H153.97V175.94H145.82zM162.02 171.85H170.17V175.94H162.02zM145.82 175.89H153.97V179.99H145.82zM162.02 175.89H170.17V179.99H162.02zM162.02 179.94H178.27V184.03H162.02zM162.02 183.98H178.27V188.07H162.02zM81.04 212.29H89.19V216.38H81.04zM97.24 212.29H105.38V216.38H97.24zM218.71 212.29H226.85V216.38H218.71zM81.04 216.33H89.19V220.43H81.04zM97.24 216.33H105.38V220.43H97.24zM218.71 216.33H226.85V220.43H218.71zM8.16 220.38H48.70V224.47H8.16zM64.84 220.38H81.09V224.47H64.84zM97.24 220.38H113.48V224.47H97.24zM194.41 220.38H210.66V224.47H194.41zM4.11 224.42H8.21V228.51H4.11zM16.26 224.42H28.45V228.51H16.26zM36.50 224.42H56.80V228.51H36.50zM64.84 224.42H81.09V228.51H64.84zM105.33 224.42H109.43V228.51H105.33zM194.41 224.42H210.66V228.51H194.41zM0.00 228.46H4.16V232.56H0.00zM16.26 228.46H24.40V232.56H16.26zM28.40 228.46H44.65V232.56H28.40zM52.70 228.46H64.89V232.56H52.70zM68.89 228.46H97.29V232.56H68.89zM113.43 228.46H117.53V232.56H113.43zM186.31 228.46H202.56V232.56H186.31zM226.80 228.46H234.95V232.56H226.80zM24.35 232.51H36.55V236.60H24.35zM72.94 232.51H85.14V236.60H72.94zM93.19 232.51H101.34V236.60H93.19zM186.31 232.51H202.56V236.60H186.31zM226.80 232.51H234.95V236.60H226.80zM8.16 236.55H16.31V240.65H8.16zM36.50 236.55H44.65V240.65H36.50zM97.24 236.55H113.48V240.65H97.24zM170.12 236.55H178.27V240.65H170.12zM226.80 236.55H234.95V240.65H226.80zM4.11 240.60H16.31V244.69H4.11zM48.65 240.60H52.75V244.69H48.65zM72.94 240.60H77.04V244.69H72.94zM97.24 240.60H113.48V244.69H97.24zM170.12 240.60H178.27V244.69H170.12zM226.80 240.60H234.95V244.69H226.80zM8.16 244.64H12.26V248.73H8.16zM48.65 244.64H52.75V248.73H48.65zM76.99 244.64H85.14V248.73H76.99zM105.33 244.64H113.48V248.73H105.33zM137.73 244.64H194.46V248.73H137.73zM226.80 244.64H234.95V248.73H226.80zM52.70 248.68H60.85V252.78H52.70zM109.38 248.68H113.48V252.78H109.38zM121.53 248.68H129.68V252.78H121.53zM137.73 248.68H194.46V252.78H137.73zM226.80 248.68H234.95V252.78H226.80zM60.80 252.73H64.89V256.82H60.80zM72.94 252.73H85.14V256.82H72.94zM89.14 252.73H93.24V256.82H89.14zM113.43 252.73H129.68V256.82H113.43zM145.82 252.73H170.17V256.82H145.82zM186.31 252.73H202.56V256.82H186.31zM210.61 252.73H218.76V256.82H210.61zM24.35 256.77H36.55V260.87H24.35zM60.80 256.77H64.89V260.87H60.80zM68.89 256.77H89.19V260.87H68.89zM93.19 256.77H97.29V260.87H93.19zM145.82 256.77H170.17V260.87H145.82zM186.31 256.77H202.56V260.87H186.31zM210.61 256.77H218.76V260.87H210.61zM24.35 260.82H28.45V264.91H24.35zM60.80 260.82H81.09V264.91H60.80zM89.14 260.82H105.38V264.91H89.14zM129.63 260.82H170.17V264.91H129.63zM210.61 260.82H226.85V264.91H210.61zM0.00 264.86H4.16V268.95H0.00zM32.45 264.86H36.55V268.95H32.45zM40.55 264.86H44.65V268.95H40.55zM68.89 264.86H81.09V268.95H68.89zM121.53 264.86H125.63V268.95H121.53zM129.63 264.86H170.17V268.95H129.63zM210.61 264.86H226.85V268.95H210.61z"/>
<path fill="#3c96f5" d="M153.92 171.85H162.07V175.94H153.92zM153.92 175.89H162.07V179.99H153.92zM28.40 224.42H36.55V228.51H28.40zM4.11 228.46H16.31V232.56H4.11zM8.16 232.51H12.26V236.60H8.16zM16.26 232.51H24.40V236.60H16.26zM85.09 232.51H93.24V236.60H85.09zM16.26 236.55H36.55V240.65H16.26zM76.99 236.55H81.09V240.65H76.99zM93.19 236.55H97.29V240.65H93.19zM0.00 240.60H4.16V244.69H0.00zM16.26 240.60H32.50V244.69H16.26zM40.55 240.60H48.70V244.69H40.55zM76.99 240.60H81.09V244.69H76.99zM93.19 240.60H97.29V244.69H93.19zM0.00 244.64H8.21V248.73H0.00zM12.21 244.64H20.36V248.73H12.21zM44.60 244.64H48.70V248.73H44.60zM85.09 244.64H89.19V248.73H85.09zM97.24 244.64H105.38V248.73H97.24zM0.00 248.68H16.31V252.78H0.00zM28.40 248.68H32.50V252.78H28.40zM40.55 248.68H52.75V252.78H40.55zM89.14 248.68H93.24V252.78H89.14zM105.33 248.68H109.43V252.78H105.33zM0.00 252.73H4.16V256.82H0.00zM8.16 252.73H36.55V256.82H8.16zM48.65 252.73H60.85V256.82H48.65zM93.19 252.73H97.29V256.82H93.19zM109.38 252.73H113.48V256.82H109.38zM170.12 252.73H186.36V256.82H170.12zM202.51 252.73H210.66V256.82H202.51zM0.00 256.77H4.16V260.87H0.00zM8.16 256.77H12.26V260.87H8.16zM20.30 256.77H24.40V260.87H20.30zM36.50 256.77H40.60V260.87H36.50zM44.60 256.77H60.85V260.87H44.60zM97.24 256.77H101.34V260.87H97.24zM113.43 256.77H129.68V260.87H113.43zM170.12 256.77H186.36V260.87H170.12zM202.51 256.77H210.66V260.87H202.51zM0.00 260.82H4.16V264.91H0.00zM36.50 260.82H44.65V264.91H36.50zM81.04 260.82H89.19V264.91H81.04zM109.38 260.82H129.68V264.91H109.38zM178.22 260.82H210.66V264.91H178.22zM4.11 264.86H8.21V268.95H4.11zM64.84 264.86H68.94V268.95H64.84zM81.04 264.86H89.19V268.95H81.04zM97.24 264.86H121.58V268.95H97.24zM125.58 264.86H129.68V268.95H125.58zM178.22 264.86H210.66V268.95H178.22z"/>
<path fill="#1e6eeb" d="M12.21 232.51H16.31V236.60H12.21zM81.04 236.55H85.14V240.65H81.04zM32.45 240.60H40.60V244.69H32.45zM81.04 240.60H85.14V244.69H81.04zM89.14 240.60H93.24V244.69H89.14zM20.30 244.64H32.50V248.73H20.30zM40.55 244.64H44.65V248.73H40.55zM89.14 244.64H97.29V248.73H89.14zM16.26 248.68H28.45V252.78H16.26zM32.45 248.68H40.60V252.78H32.45zM93.19 248.68H105.38V252.78H93.19zM4.11 252.73H8.21V256.82H4.11zM36.50 252.73H48.70V256.82H36.50zM101.29 252.73H109.43V256.82H101.29zM4.11 256.77H8.21V260.87H4.11zM12.21 256.77H20.36V260.87H12.21zM40.55 256.77H44.65V260.87H40.55zM101.29 256.77H105.38V260.87H101.29zM109.38 256.77H113.48V260.87H109.38zM4.11 260.82H12.26V264.91H4.11zM20.30 260.82H24.40V264.91H20.30zM44.60 260.82H48.70V264.91H44.60zM105.33 260.82H109.43V264.91H105.33zM170.12 260.82H178.27V264.91H170.12zM8.16 264.86H20.36V268.95H8.16zM28.40 264.86H32.50V268.95H28.40zM44.60 264.86H48.70V268.95H44.60zM89.14 264.86H97.29V268.95H89.14zM170.12 264.86H178.27V268.95H170.12z"/>
<path fill="#ffe878" d="M85.09 236.55H93.24V240.65H85.09zM85.09 240.60H89.19V244.69H85.09zM32.45 244.64H40.60V248.73H32.45zM97.24 252.73H101.34V256.82H97.24zM105.33 256.77H109.43V260.87H105.33zM12.21 260.82H20.36V264.91H12.21zM48.65 260.82H52.75V264.91H48.65zM56.75 260.82H60.85V264.91H56.75z"/>
<path fill="#ffa000" d="M52.70 260.82H56.80V264.91H52.70zM20.30 264.86H28.45V268.95H20.30zM48.65 264.86H52.75V268.95H48.65z"/>
<path fill="#a51e1e" d="M52.70 264.86H64.89V268.95H52.70z"/>
<use href="#bd"/></g>
<rect x="0.6" y="0.68" width="258.9" height="268.95" fill="none" stroke="#000" stroke-width="1.25" shape-rendering="geometricPrecision"/></g>
<g transform="translate(572,26)"><g clip-path="url(#cp)">
<path fill="#f0dcb4" d="M210.61 0.00H218.76V2.05H210.61zM210.61 2.00H218.76V6.09H210.61zM210.61 6.04H218.76V10.14H210.61zM210.61 10.09H218.76V14.18H210.61zM226.80 10.09H234.95V14.18H226.80zM210.61 14.13H218.76V18.23H210.61zM226.80 14.13H234.95V18.23H226.80zM113.43 18.18H153.97V22.27H113.43zM194.41 18.18H218.76V22.27H194.41zM226.80 18.18H234.95V22.27H226.80zM113.43 22.22H153.97V26.31H113.43zM194.41 22.22H218.76V26.31H194.41zM226.80 22.22H234.95V26.31H226.80zM64.84 26.26H72.99V30.36H64.84zM97.24 26.26H105.38V30.36H97.24zM170.12 26.26H178.27V30.36H170.12zM194.41 26.26H210.66V30.36H194.41zM64.84 30.31H72.99V34.40H64.84zM97.24 30.31H105.38V34.40H97.24zM170.12 30.31H178.27V34.40H170.12zM194.41 30.31H210.66V34.40H194.41zM170.12 34.35H186.36V38.45H170.12zM194.41 34.35H202.56V38.45H194.41zM170.12 38.40H186.36V42.49H170.12zM194.41 38.40H202.56V42.49H194.41zM113.43 42.44H137.78V46.53H113.43zM170.12 42.44H186.36V46.53H170.12zM194.41 42.44H202.56V46.53H194.41zM243.00 42.44H251.15V46.53H243.00zM113.43 46.48H137.78V50.58H113.43zM170.12 46.48H186.36V50.58H170.12zM194.41 46.48H202.56V50.58H194.41zM243.00 46.48H251.15V50.58H243.00zM89.14 50.53H105.38V54.62H89.14zM153.92 50.53H194.46V54.62H153.92zM210.61 50.53H218.76V54.62H210.61zM251.10 50.53H260.05V54.62H251.10zM89.14 54.57H105.38V58.67H89.14zM153.92 54.57H194.46V58.67H153.92zM210.61 54.57H218.76V58.67H210.61zM251.10 54.57H260.05V58.67H251.10zM89.14 58.62H113.48V62.71H89.14zM153.92 58.62H162.07V62.71H153.92zM178.22 58.62H202.56V62.71H178.22zM210.61 58.62H218.76V62.71H210.61zM226.80 58.62H234.95V62.71H226.80zM89.14 62.66H113.48V66.75H89.14zM153.92 62.66H162.07V66.75H153.92zM178.22 62.66H202.56V66.75H178.22zM210.61 62.66H218.76V66.75H210.61zM226.80 62.66H234.95V66.75H226.80zM89.14 66.70H97.29V70.80H89.14zM129.63 66.70H153.97V70.80H129.63zM243.00 66.70H260.05V70.80H243.00zM89.14 70.75H97.29V74.84H89.14zM129.63 70.75H153.97V74.84H129.63zM243.00 70.75H260.05V74.84H243.00zM89.14 74.79H97.29V78.89H89.14zM121.53 74.79H129.68V78.89H121.53zM137.73 74.79H153.97V78.89H137.73zM210.61 74.79H226.85V78.89H210.61zM234.90 74.79H260.05V78.89H234.90zM89.14 78.84H97.29V82.93H89.14zM121.53 78.84H129.68V82.93H121.53zM137.73 78.84H153.97V82.93H137.73zM210.61 78.84H226.85V82.93H210.61zM234.90 78.84H260.05V82.93H234.90zM81.04 82.88H97.29V86.97H81.04zM121.53 82.88H129.68V86.97H121.53zM210.61 82.88H226.85V86.97H210.61zM81.04 86.92H97.29V91.02H81.04zM121.53 86.92H129.68V91.02H121.53zM210.61 86.92H226.85V91.02H210.61zM0.00 90.97H16.31V95.06H0.00zM40.55 90.97H48.70V95.06H40.55zM72.94 90.97H89.19V95.06H72.94zM113.43 90.97H129.68V95.06H113.43zM0.00 95.01H16.31V99.11H0.00zM40.55 95.01H48.70V99.11H40.55zM72.94 95.01H89.19V99.11H72.94zM113.43 95.01H129.68V99.11H113.43zM48.65 99.06H56.80V103.15H48.65zM64.84 99.06H89.19V103.15H64.84zM48.65 103.10H56.80V107.19H48.65zM64.84 103.10H89.19V107.19H64.84zM32.45 107.14H40.60V111.24H32.45zM32.45 111.19H40.60V115.28H32.45zM24.35 115.23H40.60V119.33H24.35zM56.75 115.23H64.89V119.33H56.75zM24.35 119.28H40.60V123.37H24.35zM56.75 119.28H64.89V123.37H56.75zM40.55 123.32H48.70V127.41H40.55zM40.55 127.36H48.70V131.46H40.55zM0.00 131.41H8.21V135.50H0.00zM0.00 135.45H8.21V139.55H0.00zM16.26 139.50H24.40V143.59H16.26zM16.26 143.54H24.40V147.63H16.26zM40.55 155.67H56.80V159.77H40.55zM40.55 159.72H56.80V163.81H40.55zM8.16 171.85H24.40V175.94H8.16zM8.16 175.89H24.40V179.99H8.16zM0.00 188.02H8.21V192.12H0.00zM0.00 192.07H8.21V196.16H0.00zM0.00 196.11H8.21V200.21H0.00zM0.00 200.16H8.21V204.25H0.00zM226.80 244.64H243.05V248.73H226.80zM226.80 248.68H243.05V252.78H226.80zM218.71 252.73H226.85V256.82H218.71zM243.00 252.73H251.15V256.82H243.00zM218.71 256.77H226.85V260.87H218.71zM243.00 256.77H251.15V260.87H243.00zM218.71 260.82H234.95V264.91H218.71zM218.71 264.86H234.95V268.95H218.71z"/>
<path fill="#b4faaa" d="M218.71 0.00H234.95V2.05H218.71zM218.71 2.00H234.95V6.09H218.71zM218.71 6.04H234.95V10.14H218.71zM202.51 10.09H210.66V14.18H202.51zM202.51 14.13H210.66V18.23H202.51zM251.10 18.18H260.05V22.27H251.10zM251.10 22.22H260.05V26.31H251.10zM72.94 26.26H81.09V30.36H72.94zM105.33 26.26H170.17V30.36H105.33zM210.61 26.26H260.05V30.36H210.61zM72.94 30.31H81.09V34.40H72.94zM105.33 30.31H170.17V34.40H105.33zM210.61 30.31H260.05V34.40H210.61zM97.24 34.35H170.17V38.45H97.24zM202.51 34.35H260.05V38.45H202.51zM97.24 38.40H170.17V42.49H97.24zM202.51 38.40H260.05V42.49H202.51zM89.14 42.44H113.48V46.53H89.14zM137.73 42.44H170.17V46.53H137.73zM202.51 42.44H243.05V46.53H202.51zM89.14 46.48H113.48V50.58H89.14zM137.73 46.48H170.17V50.58H137.73zM202.51 46.48H243.05V50.58H202.51zM105.33 50.53H153.97V54.62H105.33zM218.71 50.53H251.15V54.62H218.71zM105.33 54.57H153.97V58.67H105.33zM218.71 54.57H251.15V58.67H218.71zM113.43 58.62H153.97V62.71H113.43zM162.02 58.62H178.27V62.71H162.02zM243.00 58.62H260.05V62.71H243.00zM113.43 62.66H153.97V66.75H113.43zM162.02 62.66H178.27V66.75H162.02zM243.00 62.66H260.05V66.75H243.00zM81.04 66.70H89.19V70.80H81.04zM113.43 66.70H129.68V70.80H113.43zM153.92 66.70H226.85V70.80H153.92zM234.90 66.70H243.05V70.80H234.90zM81.04 70.75H89.19V74.84H81.04zM113.43 70.75H129.68V74.84H113.43zM153.92 70.75H226.85V74.84H153.92zM234.90 70.75H243.05V74.84H234.90zM8.16 74.79H16.31V78.89H8.16zM81.04 74.79H89.19V78.89H81.04zM129.63 74.79H137.78V78.89H129.63zM153.92 74.79H210.66V78.89H153.92zM226.80 74.79H234.95V78.89H226.80zM8.16 78.84H16.31V82.93H8.16zM81.04 78.84H89.19V82.93H81.04zM129.63 78.84H137.78V82.93H129.63zM153.92 78.84H210.66V82.93H153.92zM226.80 78.84H234.95V82.93H226.80zM8.16 82.88H16.31V86.97H8.16zM72.94 82.88H81.09V86.97H72.94zM129.63 82.88H210.66V86.97H129.63zM226.80 82.88H260.05V86.97H226.80zM8.16 86.92H16.31V91.02H8.16zM72.94 86.92H81.09V91.02H72.94zM129.63 86.92H210.66V91.02H129.63zM226.80 86.92H260.05V91.02H226.80zM24.35 90.97H40.60V95.06H24.35zM48.65 90.97H64.89V95.06H48.65zM89.14 90.97H113.48V95.06H89.14zM129.63 90.97H260.05V95.06H129.63zM24.35 95.01H40.60V99.11H24.35zM48.65 95.01H64.89V99.11H48.65zM89.14 95.01H113.48V99.11H89.14zM129.63 95.01H260.05V99.11H129.63zM32.45 99.06H40.60V103.15H32.45zM89.14 99.06H113.48V103.15H89.14zM129.63 99.06H137.78V103.15H129.63zM145.82 99.06H162.07V103.15H145.82zM170.12 99.06H186.36V103.15H170.12zM202.51 99.06H260.05V103.15H202.51zM32.45 103.10H40.60V107.19H32.45zM89.14 103.10H113.48V107.19H89.14zM129.63 103.10H137.78V107.19H129.63zM145.82 103.10H162.07V107.19H145.82zM170.12 103.10H186.36V107.19H170.12zM202.51 103.10H260.05V107.19H202.51zM8.16 107.14H24.40V111.24H8.16zM40.55 107.14H72.99V111.24H40.55zM113.43 107.14H121.58V111.24H113.43zM226.80 107.14H260.05V111.24H226.80zM8.16 111.19H24.40V115.28H8.16zM40.55 111.19H72.99V115.28H40.55zM113.43 111.19H121.58V115.28H113.43zM226.80 111.19H260.05V115.28H226.80zM16.26 115.23H24.40V119.33H16.26zM48.65 115.23H56.80V119.33H48.65zM234.90 115.23H260.05V119.33H234.90zM16.26 119.28H24.40V123.37H16.26zM48.65 119.28H56.80V123.37H48.65zM234.90 119.28H260.05V123.37H234.90zM0.00 123.32H16.31V127.41H0.00zM32.45 123.32H40.60V127.41H32.45zM48.65 123.32H56.80V127.41H48.65zM89.14 123.32H97.29V127.41H89.14zM251.10 123.32H260.05V127.41H251.10zM0.00 127.36H16.31V131.46H0.00zM32.45 127.36H40.60V131.46H32.45zM48.65 127.36H56.80V131.46H48.65zM89.14 127.36H97.29V131.46H89.14zM251.10 127.36H260.05V131.46H251.10zM251.10 131.41H260.05V135.50H251.10zM251.10 135.45H260.05V139.55H251.10zM24.35 139.50H32.50V143.59H24.35zM178.22 139.50H194.46V143.59H178.22zM24.35 143.54H32.50V147.63H24.35zM178.22 143.54H194.46V147.63H178.22zM24.35 147.58H32.50V151.68H24.35zM40.55 147.58H48.70V151.68H40.55zM56.75 147.58H64.89V151.68H56.75zM153.92 147.58H170.17V151.68H153.92zM178.22 147.58H186.36V151.68H178.22zM24.35 151.63H32.50V155.72H24.35zM40.55 151.63H48.70V155.72H40.55zM56.75 151.63H64.89V155.72H56.75zM153.92 151.63H170.17V155.72H153.92zM178.22 151.63H186.36V155.72H178.22zM24.35 155.67H40.60V159.77H24.35zM153.92 155.67H162.07V159.77H153.92zM24.35 159.72H40.60V163.81H24.35zM153.92 159.72H162.07V163.81H153.92zM24.35 163.76H48.70V167.85H24.35zM72.94 163.76H81.09V167.85H72.94zM129.63 163.76H137.78V167.85H129.63zM162.02 163.76H194.46V167.85H162.02zM24.35 167.80H48.70V171.90H24.35zM72.94 167.80H81.09V171.90H72.94zM129.63 167.80H137.78V171.90H129.63zM162.02 167.80H194.46V171.90H162.02zM24.35 171.85H40.60V175.94H24.35zM186.31 171.85H194.46V175.94H186.31zM24.35 175.89H40.60V179.99H24.35zM186.31 175.89H194.46V179.99H186.31zM0.00 179.94H16.31V184.03H0.00zM40.55 179.94H48.70V184.03H40.55zM170.12 179.94H194.46V184.03H170.12zM0.00 183.98H16.31V188.07H0.00zM40.55 183.98H48.70V188.07H40.55zM170.12 183.98H194.46V188.07H170.12zM8.16 188.02H16.31V192.12H8.16zM121.53 188.02H129.68V192.12H121.53zM162.02 188.02H194.46V192.12H162.02zM8.16 192.07H16.31V196.16H8.16zM121.53 192.07H129.68V196.16H121.53zM162.02 192.07H194.46V196.16H162.02zM8.16 196.11H16.31V200.21H8.16zM162.02 196.11H170.17V200.21H162.02zM8.16 200.16H16.31V204.25H8.16zM162.02 200.16H170.17V204.25H162.02zM0.00 204.20H16.31V208.29H0.00zM0.00 208.24H16.31V212.34H0.00zM218.71 244.64H226.85V248.73H218.71zM243.00 244.64H251.15V248.73H243.00zM218.71 248.68H226.85V252.78H218.71zM243.00 248.68H251.15V252.78H243.00zM210.61 252.73H218.76V256.82H210.61zM251.10 252.73H260.05V256.82H251.10zM210.61 256.77H218.76V260.87H210.61zM251.10 256.77H260.05V260.87H251.10zM202.51 260.82H218.76V264.91H202.51zM251.10 260.82H260.05V264.91H251.10zM202.51 264.86H218.76V268.95H202.51zM251.10 264.86H260.05V268.95H251.10z"/>
<path fill="#b4f0fa" d="M234.90 0.00H243.05V2.05H234.90zM234.90 2.00H243.05V6.09H234.90zM234.90 6.04H243.05V10.14H234.90zM243.00 10.09H251.15V14.18H243.00zM243.00 14.13H251.15V18.23H243.00zM0.00 107.14H8.21V111.24H0.00zM129.63 107.14H145.87V111.24H129.63zM178.22 107.14H186.36V111.24H178.22zM0.00 111.19H8.21V115.28H0.00zM129.63 111.19H145.87V115.28H129.63zM178.22 111.19H186.36V115.28H178.22zM0.00 115.23H8.21V119.33H0.00zM64.84 115.23H72.99V119.33H64.84zM129.63 115.23H137.78V119.33H129.63zM153.92 115.23H186.36V119.33H153.92zM0.00 119.28H8.21V123.37H0.00zM64.84 119.28H72.99V123.37H64.84zM129.63 119.28H137.78V123.37H129.63zM153.92 119.28H186.36V123.37H153.92zM16.26 123.32H32.50V127.41H16.26zM56.75 123.32H72.99V127.41H56.75zM97.24 123.32H105.38V127.41H97.24zM129.63 123.32H137.78V127.41H129.63zM153.92 123.32H202.56V127.41H153.92zM16.26 127.36H32.50V131.46H16.26zM56.75 127.36H72.99V131.46H56.75zM97.24 127.36H105.38V131.46H97.24zM129.63 127.36H137.78V131.46H129.63zM153.92 127.36H202.56V131.46H153.92zM24.35 131.41H64.89V135.50H24.35zM89.14 131.41H97.29V135.50H89.14zM129.63 131.41H137.78V135.50H129.63zM145.82 131.41H162.07V135.50H145.82zM186.31 131.41H210.66V135.50H186.31zM24.35 135.45H64.89V139.55H24.35zM89.14 135.45H97.29V139.55H89.14zM129.63 135.45H137.78V139.55H129.63zM145.82 135.45H162.07V139.55H145.82zM186.31 135.45H210.66V139.55H186.31zM32.45 139.50H48.70V143.59H32.45zM56.75 139.50H64.89V143.59H56.75zM81.04 139.50H97.29V143.59H81.04zM129.63 139.50H137.78V143.59H129.63zM145.82 139.50H162.07V143.59H145.82zM202.51 139.50H260.05V143.59H202.51zM32.45 143.54H48.70V147.63H32.45zM56.75 143.54H72.99V147.63H56.75zM81.04 143.54H97.29V147.63H81.04zM129.63 143.54H137.78V147.63H129.63zM145.82 143.54H162.07V147.63H145.82zM202.51 143.54H260.05V147.63H202.51zM48.65 147.58H56.80V151.68H48.65zM72.94 147.58H81.09V151.68H72.94zM97.24 147.58H113.48V151.68H97.24zM129.63 147.58H137.78V151.68H129.63zM145.82 147.58H153.97V151.68H145.82zM202.51 147.58H260.05V151.68H202.51zM48.65 151.63H56.80V155.72H48.65zM72.94 151.63H81.09V155.72H72.94zM97.24 151.63H113.48V155.72H97.24zM129.63 151.63H137.78V155.72H129.63zM145.82 151.63H153.97V155.72H145.82zM202.51 151.63H260.05V155.72H202.51zM97.24 155.67H113.48V159.77H97.24zM137.73 155.67H145.87V159.77H137.73zM202.51 155.67H260.05V159.77H202.51zM97.24 159.72H113.48V163.81H97.24zM137.73 159.72H145.87V163.81H137.73zM202.51 159.72H260.05V163.81H202.51zM48.65 163.76H64.89V167.85H48.65zM89.14 163.76H113.48V167.85H89.14zM121.53 163.76H129.68V167.85H121.53zM137.73 163.76H153.97V167.85H137.73zM234.90 163.76H260.05V167.85H234.90zM48.65 167.80H64.89V171.90H48.65zM89.14 167.80H113.48V171.90H89.14zM121.53 167.80H129.68V171.90H121.53zM137.73 167.80H153.97V171.90H137.73zM234.90 167.80H260.05V171.90H234.90zM40.55 171.85H48.70V175.94H40.55zM64.84 171.85H89.19V175.94H64.84zM113.43 171.85H137.78V175.94H113.43zM145.82 171.85H153.97V175.94H145.82zM210.61 171.85H226.85V175.94H210.61zM234.90 171.85H251.15V175.94H234.90zM40.55 175.89H48.70V179.99H40.55zM64.84 175.89H89.19V179.99H64.84zM113.43 175.89H137.78V179.99H113.43zM145.82 175.89H153.97V179.99H145.82zM210.61 175.89H226.85V179.99H210.61zM234.90 175.89H251.15V179.99H234.90zM56.75 179.94H89.19V184.03H56.75zM105.33 179.94H113.48V184.03H105.33zM129.63 179.94H153.97V184.03H129.63zM218.71 179.94H260.05V184.03H218.71zM56.75 183.98H89.19V188.07H56.75zM105.33 183.98H113.48V188.07H105.33zM129.63 183.98H153.97V188.07H129.63zM218.71 183.98H260.05V188.07H218.71zM24.35 188.02H32.50V192.12H24.35zM48.65 188.02H113.48V192.12H48.65zM129.63 188.02H153.97V192.12H129.63zM202.51 188.02H243.05V192.12H202.51zM24.35 192.07H32.50V196.16H24.35zM48.65 192.07H113.48V196.16H48.65zM129.63 192.07H153.97V196.16H129.63zM202.51 192.07H243.05V196.16H202.51zM24.35 196.11H40.60V200.21H24.35zM48.65 196.11H105.38V200.21H48.65zM129.63 196.11H137.78V200.21H129.63zM218.71 196.11H243.05V200.21H218.71zM24.35 200.16H40.60V204.25H24.35zM48.65 200.16H105.38V204.25H48.65zM129.63 200.16H137.78V204.25H129.63zM218.71 200.16H243.05V204.25H218.71zM24.35 204.20H56.80V208.29H24.35zM64.84 204.20H105.38V208.29H64.84zM137.73 204.20H145.87V208.29H137.73zM153.92 204.20H162.07V208.29H153.92zM178.22 204.20H194.46V208.29H178.22zM202.51 204.20H251.15V208.29H202.51zM24.35 208.24H56.80V212.34H24.35zM64.84 208.24H105.38V212.34H64.84zM137.73 208.24H145.87V212.34H137.73zM153.92 208.24H162.07V212.34H153.92zM178.22 208.24H194.46V212.34H178.22zM202.51 208.24H251.15V212.34H202.51zM16.26 212.29H40.60V216.38H16.26zM64.84 212.29H105.38V216.38H64.84zM170.12 212.29H186.36V216.38H170.12zM202.51 212.29H234.95V216.38H202.51zM243.00 212.29H260.05V216.38H243.00zM16.26 216.33H40.60V220.43H16.26zM64.84 216.33H105.38V220.43H64.84zM170.12 216.33H186.36V220.43H170.12zM202.51 216.33H234.95V220.43H202.51zM243.00 216.33H260.05V220.43H243.00zM0.00 220.38H24.40V224.47H0.00zM64.84 220.38H72.99V224.47H64.84zM97.24 220.38H129.68V224.47H97.24zM162.02 220.38H170.17V224.47H162.02zM210.61 220.38H218.76V224.47H210.61zM243.00 220.38H260.05V224.47H243.00zM0.00 224.42H12.26V228.51H0.00zM16.26 224.42H24.40V228.51H16.26zM97.24 224.42H125.63V228.51H97.24zM162.02 224.42H170.17V228.51H162.02zM210.61 224.42H218.76V228.51H210.61zM243.00 224.42H260.05V228.51H243.00zM0.00 228.46H8.21V232.56H0.00zM93.19 228.46H105.38V232.56H93.19zM121.53 228.46H129.68V232.56H121.53zM162.02 228.46H186.36V232.56H162.02zM202.51 228.46H218.76V232.56H202.51zM226.80 228.46H260.05V232.56H226.80zM0.00 232.51H12.26V236.60H0.00zM93.19 232.51H105.38V236.60H93.19zM121.53 232.51H129.68V236.60H121.53zM162.02 232.51H186.36V236.60H162.02zM202.51 232.51H218.76V236.60H202.51zM226.80 232.51H260.05V236.60H226.80zM121.53 236.55H129.68V240.65H121.53zM178.22 236.55H234.95V240.65H178.22zM243.00 236.55H260.05V240.65H243.00zM121.53 240.60H129.68V244.69H121.53zM178.22 240.60H234.95V244.69H178.22zM243.00 240.60H260.05V244.69H243.00zM121.53 244.64H137.78V248.73H121.53zM186.31 244.64H218.76V248.73H186.31zM121.53 248.68H137.78V252.78H121.53zM186.31 248.68H218.76V252.78H186.31zM129.63 252.73H145.87V256.82H129.63zM186.31 252.73H202.56V256.82H186.31zM129.63 256.77H145.87V260.87H129.63zM186.31 256.77H202.56V260.87H186.31zM137.73 260.82H153.97V264.91H137.73zM186.31 260.82H194.46V264.91H186.31zM137.73 264.86H153.97V268.95H137.73zM186.31 264.86H194.46V268.95H186.31z"/>
<path fill="#3c96f5" d="M243.00 0.00H251.15V2.05H243.00zM243.00 2.00H251.15V6.09H243.00zM243.00 6.04H251.15V10.14H243.00zM137.73 123.32H145.87V127.41H137.73zM137.73 127.36H145.87V131.46H137.73zM137.73 131.41H145.87V135.50H137.73zM137.73 135.45H145.87V139.55H137.73zM113.43 212.29H137.78V216.38H113.43zM153.92 212.29H162.07V216.38H153.92zM113.43 216.33H137.78V220.43H113.43zM153.92 216.33H162.07V220.43H153.92zM153.92 220.38H162.07V224.47H153.92zM40.55 224.42H44.65V228.51H40.55zM153.92 224.42H162.07V228.51H153.92zM32.45 228.46H72.99V232.56H32.45zM85.09 228.46H89.19V232.56H85.09zM145.82 228.46H162.07V232.56H145.82zM20.30 232.51H24.40V236.60H20.30zM36.50 232.51H52.75V236.60H36.50zM60.80 232.51H72.99V236.60H60.80zM89.14 232.51H93.24V236.60H89.14zM145.82 232.51H162.07V236.60H145.82zM12.21 236.55H28.45V240.65H12.21zM97.24 236.55H101.34V240.65H97.24zM145.82 236.55H162.07V240.65H145.82zM0.00 240.60H4.16V244.69H0.00zM8.16 240.60H24.40V244.69H8.16zM101.29 240.60H105.38V244.69H101.29zM145.82 240.60H162.07V244.69H145.82zM0.00 244.64H4.16V248.73H0.00zM12.21 244.64H24.40V248.73H12.21zM105.33 244.64H109.43V248.73H105.33zM145.82 244.64H153.97V248.73H145.82zM162.02 244.64H170.17V248.73H162.02zM0.00 248.68H4.16V252.78H0.00zM16.26 248.68H28.45V252.78H16.26zM113.43 248.68H117.53V252.78H113.43zM145.82 248.68H153.97V252.78H145.82zM162.02 248.68H170.17V252.78H162.02zM117.48 252.73H121.58V256.82H117.48zM0.00 256.77H4.16V260.87H0.00zM121.53 256.77H129.68V260.87H121.53zM133.68 260.82H137.78V264.91H133.68zM170.12 260.82H178.27V264.91H170.12zM170.12 264.86H178.27V268.95H170.12z"/>
<path fill="#78b9fa" d="M251.10 0.00H260.05V2.05H251.10zM251.10 2.00H260.05V6.09H251.10zM251.10 6.04H260.05V10.14H251.10zM137.73 115.23H145.87V119.33H137.73zM137.73 119.28H145.87V123.37H137.73zM64.84 131.41H89.19V135.50H64.84zM64.84 135.45H89.19V139.55H64.84zM48.65 139.50H56.80V143.59H48.65zM72.94 139.50H81.09V143.59H72.94zM137.73 139.50H145.87V143.59H137.73zM48.65 143.54H56.80V147.63H48.65zM72.94 143.54H81.09V147.63H72.94zM137.73 143.54H145.87V147.63H137.73zM137.73 147.58H145.87V151.68H137.73zM137.73 151.63H145.87V155.72H137.73zM89.14 171.85H105.38V175.94H89.14zM89.14 175.89H105.38V179.99H89.14zM89.14 179.94H105.38V184.03H89.14zM89.14 183.98H105.38V188.07H89.14zM243.00 188.02H260.05V192.12H243.00zM243.00 192.07H260.05V196.16H243.00zM137.73 196.11H145.87V200.21H137.73zM243.00 196.11H260.05V200.21H243.00zM137.73 200.16H145.87V204.25H137.73zM243.00 200.16H260.05V204.25H243.00zM56.75 204.20H64.89V208.29H56.75zM105.33 204.20H137.78V208.29H105.33zM145.82 204.20H153.97V208.29H145.82zM251.10 204.20H260.05V208.29H251.10zM56.75 208.24H64.89V212.34H56.75zM105.33 208.24H137.78V212.34H105.33zM145.82 208.24H153.97V212.34H145.82zM251.10 208.24H260.05V212.34H251.10zM40.55 212.29H64.89V216.38H40.55zM105.33 212.29H113.48V216.38H105.33zM137.73 212.29H153.97V216.38H137.73zM40.55 216.33H64.89V220.43H40.55zM105.33 216.33H113.48V220.43H105.33zM137.73 216.33H153.97V220.43H137.73zM24.35 220.38H64.89V224.47H24.35zM72.94 220.38H97.29V224.47H72.94zM129.63 220.38H153.97V224.47H129.63zM170.12 220.38H194.46V224.47H170.12zM218.71 220.38H234.95V224.47H218.71zM12.21 224.42H16.31V228.51H12.21zM24.35 224.42H40.60V228.51H24.35zM44.60 224.42H97.29V228.51H44.60zM129.63 224.42H153.97V228.51H129.63zM170.12 224.42H194.46V228.51H170.12zM218.71 224.42H234.95V228.51H218.71zM8.16 228.46H32.50V232.56H8.16zM89.14 228.46H93.24V232.56H89.14zM105.33 228.46H121.58V232.56H105.33zM129.63 228.46H145.87V232.56H129.63zM194.41 228.46H202.56V232.56H194.41zM218.71 228.46H226.85V232.56H218.71zM12.21 232.51H16.31V236.60H12.21zM24.35 232.51H32.50V236.60H24.35zM105.33 232.51H121.58V236.60H105.33zM129.63 232.51H145.87V236.60H129.63zM194.41 232.51H202.56V236.60H194.41zM218.71 232.51H226.85V236.60H218.71zM0.00 236.55H12.26V240.65H0.00zM101.29 236.55H121.58V240.65H101.29zM129.63 236.55H145.87V240.65H129.63zM162.02 236.55H178.27V240.65H162.02zM105.33 240.60H121.58V244.69H105.33zM129.63 240.60H145.87V244.69H129.63zM162.02 240.60H178.27V244.69H162.02zM109.38 244.64H121.58V248.73H109.38zM137.73 244.64H145.87V248.73H137.73zM153.92 244.64H162.07V248.73H153.92zM170.12 244.64H186.36V248.73H170.12zM8.16 248.68H16.31V252.78H8.16zM28.40 248.68H36.55V252.78H28.40zM117.48 248.68H121.58V252.78H117.48zM137.73 248.68H145.87V252.78H137.73zM153.92 248.68H162.07V252.78H153.92zM170.12 248.68H186.36V252.78H170.12zM12.21 252.73H20.36V256.82H12.21zM121.53 252.73H129.68V256.82H121.53zM145.82 252.73H186.36V256.82H145.82zM145.82 256.77H186.36V260.87H145.82zM0.00 260.82H8.21V264.91H0.00zM153.92 260.82H162.07V264.91H153.92zM178.22 260.82H186.36V264.91H178.22zM0.00 264.86H16.31V268.95H0.00zM133.68 264.86H137.78V268.95H133.68zM153.92 264.86H162.07V268.95H153.92zM178.22 264.86H186.36V268.95H178.22z"/>
<path fill="#78f573" d="M234.90 10.09H243.05V14.18H234.90zM251.10 10.09H260.05V14.18H251.10zM234.90 14.13H243.05V18.23H234.90zM251.10 14.13H260.05V18.23H251.10zM234.90 18.18H251.15V22.27H234.90zM234.90 22.22H251.15V26.31H234.90zM234.90 58.62H243.05V62.71H234.90zM234.90 62.66H243.05V66.75H234.90zM226.80 66.70H234.95V70.80H226.80zM226.80 70.75H234.95V74.84H226.80zM0.00 74.79H8.21V78.89H0.00zM0.00 78.84H8.21V82.93H0.00zM0.00 82.88H8.21V86.97H0.00zM0.00 86.92H8.21V91.02H0.00zM24.35 99.06H32.50V103.15H24.35zM137.73 99.06H145.87V103.15H137.73zM162.02 99.06H170.17V103.15H162.02zM186.31 99.06H202.56V103.15H186.31zM24.35 103.10H32.50V107.19H24.35zM137.73 103.10H145.87V107.19H137.73zM162.02 103.10H170.17V107.19H162.02zM186.31 103.10H202.56V107.19H186.31zM24.35 107.14H32.50V111.24H24.35zM72.94 107.14H113.48V111.24H72.94zM121.53 107.14H129.68V111.24H121.53zM145.82 107.14H178.27V111.24H145.82zM186.31 107.14H226.85V111.24H186.31zM24.35 111.19H32.50V115.28H24.35zM72.94 111.19H113.48V115.28H72.94zM121.53 111.19H129.68V115.28H121.53zM145.82 111.19H178.27V115.28H145.82zM186.31 111.19H226.85V115.28H186.31zM8.16 115.23H16.31V119.33H8.16zM72.94 115.23H129.68V119.33H72.94zM145.82 115.23H153.97V119.33H145.82zM186.31 115.23H234.95V119.33H186.31zM8.16 119.28H16.31V123.37H8.16zM72.94 119.28H129.68V123.37H72.94zM145.82 119.28H153.97V123.37H145.82zM186.31 119.28H234.95V123.37H186.31zM72.94 123.32H89.19V127.41H72.94zM105.33 123.32H129.68V127.41H105.33zM145.82 123.32H153.97V127.41H145.82zM202.51 123.32H251.15V127.41H202.51zM72.94 127.36H89.19V131.46H72.94zM105.33 127.36H129.68V131.46H105.33zM145.82 127.36H153.97V131.46H145.82zM202.51 127.36H251.15V131.46H202.51zM16.26 131.41H24.40V135.50H16.26zM97.24 131.41H129.68V135.50H97.24zM162.02 131.41H186.36V135.50H162.02zM210.61 131.41H251.15V135.50H210.61zM16.26 135.45H24.40V139.55H16.26zM97.24 135.45H129.68V139.55H97.24zM162.02 135.45H186.36V139.55H162.02zM210.61 135.45H251.15V139.55H210.61zM97.24 139.50H129.68V143.59H97.24zM162.02 139.50H178.27V143.59H162.02zM194.41 139.50H202.56V143.59H194.41zM97.24 143.54H129.68V147.63H97.24zM162.02 143.54H178.27V147.63H162.02zM194.41 143.54H202.56V147.63H194.41zM32.45 147.58H40.60V151.68H32.45zM64.84 147.58H72.99V151.68H64.84zM81.04 147.58H97.29V151.68H81.04zM113.43 147.58H129.68V151.68H113.43zM170.12 147.58H178.27V151.68H170.12zM186.31 147.58H202.56V151.68H186.31zM32.45 151.63H40.60V155.72H32.45zM64.84 151.63H72.99V155.72H64.84zM81.04 151.63H97.29V155.72H81.04zM113.43 151.63H129.68V155.72H113.43zM170.12 151.63H178.27V155.72H170.12zM186.31 151.63H202.56V155.72H186.31zM56.75 155.67H97.29V159.77H56.75zM113.43 155.67H137.78V159.77H113.43zM145.82 155.67H153.97V159.77H145.82zM162.02 155.67H202.56V159.77H162.02zM56.75 159.72H97.29V163.81H56.75zM113.43 159.72H137.78V163.81H113.43zM145.82 159.72H153.97V163.81H145.82zM162.02 159.72H202.56V163.81H162.02zM64.84 163.76H72.99V167.85H64.84zM81.04 163.76H89.19V167.85H81.04zM113.43 163.76H121.58V167.85H113.43zM153.92 163.76H162.07V167.85H153.92zM194.41 163.76H234.95V167.85H194.41zM64.84 167.80H72.99V171.90H64.84zM81.04 167.80H89.19V171.90H81.04zM113.43 167.80H121.58V171.90H113.43zM153.92 167.80H162.07V171.90H153.92zM194.41 167.80H234.95V171.90H194.41zM48.65 171.85H64.89V175.94H48.65zM105.33 171.85H113.48V175.94H105.33zM137.73 171.85H145.87V175.94H137.73zM153.92 171.85H186.36V175.94H153.92zM194.41 171.85H210.66V175.94H194.41zM226.80 171.85H234.95V175.94H226.80zM251.10 171.85H260.05V175.94H251.10zM48.65 175.89H64.89V179.99H48.65zM105.33 175.89H113.48V179.99H105.33zM137.73 175.89H145.87V179.99H137.73zM153.92 175.89H186.36V179.99H153.92zM194.41 175.89H210.66V179.99H194.41zM226.80 175.89H234.95V179.99H226.80zM251.10 175.89H260.05V179.99H251.10zM16.26 179.94H40.60V184.03H16.26zM48.65 179.94H56.80V184.03H48.65zM153.92 179.94H170.17V184.03H153.92zM194.41 179.94H218.76V184.03H194.41zM16.26 183.98H40.60V188.07H16.26zM48.65 183.98H56.80V188.07H48.65zM153.92 183.98H170.17V188.07H153.92zM194.41 183.98H218.76V188.07H194.41zM16.26 188.02H24.40V192.12H16.26zM32.45 188.02H48.70V192.12H32.45zM153.92 188.02H162.07V192.12H153.92zM194.41 188.02H202.56V192.12H194.41zM16.26 192.07H24.40V196.16H16.26zM32.45 192.07H48.70V196.16H32.45zM153.92 192.07H162.07V196.16H153.92zM194.41 192.07H202.56V196.16H194.41zM16.26 196.11H24.40V200.21H16.26zM40.55 196.11H48.70V200.21H40.55zM105.33 196.11H113.48V200.21H105.33zM145.82 196.11H162.07V200.21H145.82zM170.12 196.11H218.76V200.21H170.12zM16.26 200.16H24.40V204.25H16.26zM40.55 200.16H48.70V204.25H40.55zM105.33 200.16H113.48V204.25H105.33zM145.82 200.16H162.07V204.25H145.82zM170.12 200.16H218.76V204.25H170.12zM16.26 204.20H24.40V208.29H16.26zM162.02 204.20H178.27V208.29H162.02zM194.41 204.20H202.56V208.29H194.41zM16.26 208.24H24.40V212.34H16.26zM162.02 208.24H178.27V212.34H162.02zM194.41 208.24H202.56V212.34H194.41zM0.00 212.29H16.31V216.38H0.00zM186.31 212.29H202.56V216.38H186.31zM234.90 212.29H243.05V216.38H234.90zM0.00 216.33H16.31V220.43H0.00zM186.31 216.33H202.56V220.43H186.31zM234.90 216.33H243.05V220.43H234.90zM202.51 220.38H210.66V224.47H202.51zM234.90 220.38H243.05V224.47H234.90zM125.58 224.42H129.68V228.51H125.58zM202.51 224.42H210.66V228.51H202.51zM234.90 224.42H243.05V228.51H234.90zM234.90 236.55H243.05V240.65H234.90zM234.90 240.60H243.05V244.69H234.90zM251.10 244.64H260.05V248.73H251.10zM251.10 248.68H260.05V252.78H251.10zM202.51 252.73H210.66V256.82H202.51zM202.51 256.77H210.66V260.87H202.51zM194.41 260.82H202.56V264.91H194.41zM194.41 264.86H202.56V268.95H194.41z"/>
<path fill="#ffe878" d="M64.84 139.50H68.94V143.59H64.84zM76.99 228.46H81.09V232.56H76.99zM72.94 232.51H77.04V236.60H72.94zM85.09 232.51H89.19V236.60H85.09zM44.60 236.55H52.75V240.65H44.60zM93.19 236.55H97.29V240.65H93.19zM40.55 240.60H44.65V244.69H40.55zM52.70 240.60H77.04V244.69H52.70zM4.11 244.64H8.21V248.73H4.11zM32.45 244.64H36.55V248.73H32.45zM40.55 244.64H44.65V248.73H40.55zM52.70 244.64H56.80V248.73H52.70zM101.29 248.68H109.43V252.78H101.29zM0.00 252.73H4.16V256.82H0.00zM32.45 252.73H36.55V256.82H32.45zM113.43 252.73H117.53V256.82H113.43zM4.11 256.77H12.26V260.87H4.11zM28.40 256.77H32.50V260.87H28.40zM109.38 256.77H113.48V260.87H109.38zM24.35 264.86H32.50V268.95H24.35zM44.60 264.86H52.75V268.95H44.60zM121.53 264.86H125.63V268.95H121.53z"/>
<path fill="#ffa000" d="M68.89 139.50H72.99V143.59H68.89zM162.02 212.29H170.17V216.38H162.02zM162.02 216.33H170.17V220.43H162.02zM194.41 220.38H202.56V224.47H194.41zM194.41 224.42H202.56V228.51H194.41zM186.31 228.46H194.46V232.56H186.31zM186.31 232.51H194.46V236.60H186.31zM85.09 236.55H93.24V240.65H85.09zM44.60 240.60H52.75V244.69H44.60zM85.09 240.60H97.29V244.69H85.09zM44.60 244.64H52.75V248.73H44.60zM56.75 244.64H68.94V248.73H56.75zM72.94 244.64H77.04V248.73H72.94zM89.14 244.64H93.24V248.73H89.14zM97.24 244.64H101.34V248.73H97.24zM40.55 248.68H44.65V252.78H40.55zM48.65 248.68H56.80V252.78H48.65zM36.50 252.73H48.70V256.82H36.50zM52.70 252.73H56.80V256.82H52.70zM109.38 252.73H113.48V256.82H109.38zM48.65 256.77H52.75V260.87H48.65zM105.33 256.77H109.43V260.87H105.33zM117.48 256.77H121.58V260.87H117.48zM20.30 260.82H40.60V264.91H20.30zM44.60 260.82H56.80V264.91H44.60zM105.33 260.82H113.48V264.91H105.33zM52.70 264.86H56.80V268.95H52.70zM72.94 264.86H77.04V268.95H72.94z"/>
<path fill="#1e6eeb" d="M72.94 228.46H77.04V232.56H72.94zM81.04 228.46H85.14V232.56H81.04zM16.26 232.51H20.36V236.60H16.26zM32.45 232.51H36.55V236.60H32.45zM52.70 232.51H60.85V236.60H52.70zM28.40 236.55H44.65V240.65H28.40zM52.70 236.55H77.04V240.65H52.70zM4.11 240.60H8.21V244.69H4.11zM24.35 240.60H40.60V244.69H24.35zM97.24 240.60H101.34V244.69H97.24zM8.16 244.64H12.26V248.73H8.16zM24.35 244.64H32.50V248.73H24.35zM36.50 244.64H40.60V248.73H36.50zM101.29 244.64H105.38V248.73H101.29zM4.11 248.68H8.21V252.78H4.11zM36.50 248.68H40.60V252.78H36.50zM109.38 248.68H113.48V252.78H109.38zM8.16 252.73H12.26V256.82H8.16zM20.30 252.73H32.50V256.82H20.30zM12.21 256.77H28.45V260.87H12.21zM8.16 260.82H20.36V264.91H8.16zM121.53 260.82H125.63V264.91H121.53zM162.02 260.82H170.17V264.91H162.02zM16.26 264.86H24.40V268.95H16.26zM32.45 264.86H44.65V268.95H32.45zM162.02 264.86H170.17V268.95H162.02z"/>
<path fill="#a51e1e" d="M76.99 232.51H85.14V236.60H76.99zM76.99 236.55H85.14V240.65H76.99zM81.04 240.60H85.14V244.69H81.04zM81.04 244.64H85.14V248.73H81.04zM60.80 248.68H72.99V252.78H60.80zM76.99 248.68H89.19V252.78H76.99zM93.19 248.68H101.34V252.78H93.19zM60.80 252.73H89.19V256.82H60.80zM93.19 252.73H101.34V256.82H93.19zM36.50 256.77H48.70V260.87H36.50zM56.75 256.77H105.38V260.87H56.75zM113.43 256.77H117.53V260.87H113.43zM56.75 260.82H68.94V264.91H56.75zM76.99 260.82H85.14V264.91H76.99zM89.14 260.82H105.38V264.91H89.14zM113.43 260.82H121.58V264.91H113.43zM81.04 264.86H85.14V268.95H81.04zM89.14 264.86H97.29V268.95H89.14zM101.29 264.86H117.53V268.95H101.29zM125.58 264.86H133.73V268.95H125.58z"/>
<path fill="#ff3200" d="M76.99 240.60H81.09V244.69H76.99zM68.89 244.64H72.99V248.73H68.89zM76.99 244.64H81.09V248.73H76.99zM85.09 244.64H89.19V248.73H85.09zM93.19 244.64H97.29V248.73H93.19zM44.60 248.68H48.70V252.78H44.60zM56.75 248.68H60.85V252.78H56.75zM72.94 248.68H77.04V252.78H72.94zM89.14 248.68H93.24V252.78H89.14zM4.11 252.73H8.21V256.82H4.11zM48.65 252.73H52.75V256.82H48.65zM56.75 252.73H60.85V256.82H56.75zM89.14 252.73H93.24V256.82H89.14zM101.29 252.73H109.43V256.82H101.29zM32.45 256.77H36.55V260.87H32.45zM52.70 256.77H56.80V260.87H52.70zM40.55 260.82H44.65V264.91H40.55zM68.89 260.82H77.04V264.91H68.89zM85.09 260.82H89.19V264.91H85.09zM125.58 260.82H133.73V264.91H125.58zM56.75 264.86H72.99V268.95H56.75zM76.99 264.86H81.09V268.95H76.99zM85.09 264.86H89.19V268.95H85.09zM97.24 264.86H101.34V268.95H97.24zM117.48 264.86H121.58V268.95H117.48z"/>
<use href="#bd"/></g>
<rect x="-0.2" y="0.68" width="259.6" height="268.95" fill="none" stroke="#000" stroke-width="1.25" shape-rendering="geometricPrecision"/></g>
<g transform="translate(15,320)"><g clip-path="url(#cp)">
<path fill="#f0dcb4" d="M81.04 0.00H105.38V3.45H81.04zM81.04 3.40H105.38V7.49H81.04zM81.04 7.44H105.38V11.54H81.04zM56.75 11.49H64.89V15.58H56.75zM56.75 15.53H64.89V19.63H56.75zM56.75 19.58H64.89V23.67H56.75zM56.75 23.62H64.89V27.71H56.75zM40.55 27.66H48.70V31.76H40.55zM40.55 31.71H48.70V35.80H40.55zM48.65 35.75H64.89V39.85H48.65zM48.65 39.80H64.89V43.89H48.65zM48.65 43.84H56.80V47.93H48.65zM251.10 43.84H260.05V47.93H251.10zM48.65 47.88H56.80V51.98H48.65zM251.10 47.88H260.05V51.98H251.10zM8.16 51.93H16.31V56.02H8.16zM113.43 51.93H121.58V56.02H113.43zM8.16 55.97H16.31V60.07H8.16zM113.43 55.97H121.58V60.07H113.43zM32.45 60.02H40.60V64.11H32.45zM89.14 60.02H113.48V64.11H89.14zM32.45 64.06H40.60V68.15H32.45zM89.14 64.06H113.48V68.15H89.14zM64.84 68.10H72.99V72.20H64.84zM97.24 68.10H113.48V72.20H97.24zM251.10 68.10H260.05V72.20H251.10zM64.84 72.15H72.99V76.24H64.84zM97.24 72.15H113.48V76.24H97.24zM251.10 72.15H260.05V76.24H251.10zM8.16 76.19H24.40V80.29H8.16zM64.84 76.19H72.99V80.29H64.84zM97.24 76.19H113.48V80.29H97.24zM210.61 76.19H218.76V80.29H210.61zM226.80 76.19H251.15V80.29H226.80zM8.16 80.24H24.40V84.33H8.16zM64.84 80.24H72.99V84.33H64.84zM97.24 80.24H113.48V84.33H97.24zM210.61 80.24H218.76V84.33H210.61zM226.80 80.24H251.15V84.33H226.80zM8.16 84.28H24.40V88.37H8.16zM32.45 84.28H48.70V88.37H32.45zM64.84 84.28H72.99V88.37H64.84zM89.14 84.28H97.29V88.37H89.14zM113.43 84.28H121.58V88.37H113.43zM8.16 88.32H24.40V92.42H8.16zM32.45 88.32H48.70V92.42H32.45zM64.84 88.32H72.99V92.42H64.84zM89.14 88.32H97.29V92.42H89.14zM113.43 88.32H121.58V92.42H113.43zM0.00 92.37H8.21V96.46H0.00zM97.24 92.37H121.58V96.46H97.24zM0.00 96.41H8.21V100.51H0.00zM97.24 96.41H121.58V100.51H97.24zM243.00 100.46H260.05V104.55H243.00zM243.00 104.50H260.05V108.59H243.00zM226.80 108.54H260.05V112.64H226.80zM226.80 112.59H260.05V116.68H226.80zM234.90 116.63H260.05V120.73H234.90zM234.90 120.68H260.05V124.77H234.90zM243.00 124.72H260.05V128.81H243.00zM243.00 128.76H260.05V132.86H243.00zM251.10 132.81H260.05V136.90H251.10zM251.10 136.85H260.05V140.95H251.10z"/>
<path fill="#b4faaa" d="M105.33 0.00H129.68V3.45H105.33zM145.82 0.00H153.97V3.45H145.82zM226.80 0.00H251.15V3.45H226.80zM105.33 3.40H129.68V7.49H105.33zM145.82 3.40H153.97V7.49H145.82zM226.80 3.40H251.15V7.49H226.80zM105.33 7.44H129.68V11.54H105.33zM145.82 7.44H153.97V11.54H145.82zM226.80 7.44H251.15V11.54H226.80zM105.33 11.49H137.78V15.58H105.33zM234.90 11.49H243.05V15.58H234.90zM105.33 15.53H137.78V19.63H105.33zM234.90 15.53H243.05V19.63H234.90zM64.84 19.58H72.99V23.67H64.84zM97.24 19.58H105.38V23.67H97.24zM121.53 19.58H137.78V23.67H121.53zM64.84 23.62H72.99V27.71H64.84zM97.24 23.62H105.38V27.71H97.24zM121.53 23.62H137.78V27.71H121.53zM48.65 27.66H72.99V31.76H48.65zM105.33 27.66H137.78V31.76H105.33zM218.71 27.66H226.85V31.76H218.71zM234.90 27.66H260.05V31.76H234.90zM48.65 31.71H72.99V35.80H48.65zM105.33 31.71H137.78V35.80H105.33zM218.71 31.71H226.85V35.80H218.71zM234.90 31.71H260.05V35.80H234.90zM40.55 35.75H48.70V39.85H40.55zM105.33 35.75H129.68V39.85H105.33zM137.73 35.75H145.87V39.85H137.73zM178.22 35.75H194.46V39.85H178.22zM210.61 35.75H243.05V39.85H210.61zM251.10 35.75H260.05V39.85H251.10zM40.55 39.80H48.70V43.89H40.55zM105.33 39.80H129.68V43.89H105.33zM137.73 39.80H145.87V43.89H137.73zM178.22 39.80H194.46V43.89H178.22zM210.61 39.80H243.05V43.89H210.61zM251.10 39.80H260.05V43.89H251.10zM113.43 43.84H153.97V47.93H113.43zM178.22 43.84H194.46V47.93H178.22zM226.80 43.84H251.15V47.93H226.80zM113.43 47.88H153.97V51.98H113.43zM178.22 47.88H194.46V51.98H178.22zM226.80 47.88H251.15V51.98H226.80zM89.14 51.93H113.48V56.02H89.14zM121.53 51.93H153.97V56.02H121.53zM218.71 51.93H251.15V56.02H218.71zM89.14 55.97H113.48V60.07H89.14zM121.53 55.97H153.97V60.07H121.53zM218.71 55.97H251.15V60.07H218.71zM81.04 60.02H89.19V64.11H81.04zM113.43 60.02H153.97V64.11H113.43zM210.61 60.02H260.05V64.11H210.61zM81.04 64.06H89.19V68.15H81.04zM113.43 64.06H153.97V68.15H113.43zM210.61 64.06H260.05V68.15H210.61zM81.04 68.10H97.29V72.20H81.04zM113.43 68.10H153.97V72.20H113.43zM162.02 68.10H170.17V72.20H162.02zM234.90 68.10H243.05V72.20H234.90zM81.04 72.15H97.29V76.24H81.04zM113.43 72.15H153.97V76.24H113.43zM162.02 72.15H170.17V76.24H162.02zM234.90 72.15H243.05V76.24H234.90zM0.00 76.19H8.21V80.29H0.00zM72.94 76.19H97.29V80.29H72.94zM113.43 76.19H121.58V80.29H113.43zM186.31 76.19H210.66V80.29H186.31zM218.71 76.19H226.85V80.29H218.71zM251.10 76.19H260.05V80.29H251.10zM0.00 80.24H8.21V84.33H0.00zM72.94 80.24H97.29V84.33H72.94zM113.43 80.24H121.58V84.33H113.43zM186.31 80.24H210.66V84.33H186.31zM218.71 80.24H226.85V84.33H218.71zM251.10 80.24H260.05V84.33H251.10zM0.00 84.28H8.21V88.37H0.00zM81.04 84.28H89.19V88.37H81.04zM178.22 84.28H260.05V88.37H178.22zM0.00 88.32H8.21V92.42H0.00zM81.04 88.32H89.19V92.42H81.04zM178.22 88.32H260.05V92.42H178.22zM8.16 92.37H48.70V96.46H8.16zM56.75 92.37H97.29V96.46H56.75zM121.53 92.37H129.68V96.46H121.53zM194.41 92.37H260.05V96.46H194.41zM8.16 96.41H48.70V100.51H8.16zM56.75 96.41H97.29V100.51H56.75zM121.53 96.41H129.68V100.51H121.53zM194.41 96.41H260.05V100.51H194.41zM0.00 100.46H48.70V104.55H0.00zM56.75 100.46H64.89V104.55H56.75zM72.94 100.46H129.68V104.55H72.94zM210.61 100.46H243.05V104.55H210.61zM0.00 104.50H48.70V108.59H0.00zM56.75 104.50H64.89V108.59H56.75zM72.94 104.50H129.68V108.59H72.94zM210.61 104.50H243.05V108.59H210.61zM8.16 108.54H32.50V112.64H8.16zM162.02 108.54H170.17V112.64H162.02zM218.71 108.54H226.85V112.64H218.71zM8.16 112.59H32.50V116.68H8.16zM162.02 112.59H170.17V116.68H162.02zM218.71 112.59H226.85V116.68H218.71zM8.16 116.63H32.50V120.73H8.16zM121.53 116.63H129.68V120.73H121.53zM162.02 116.63H170.17V120.73H162.02zM226.80 116.63H234.95V120.73H226.80zM8.16 120.68H32.50V124.77H8.16zM121.53 120.68H129.68V124.77H121.53zM162.02 120.68H170.17V124.77H162.02zM226.80 120.68H234.95V124.77H226.80zM121.53 124.72H129.68V128.81H121.53zM162.02 124.72H178.27V128.81H162.02zM226.80 124.72H243.05V128.81H226.80zM121.53 128.76H129.68V132.86H121.53zM162.02 128.76H178.27V132.86H162.02zM226.80 128.76H243.05V132.86H226.80zM234.90 132.81H251.15V136.90H234.90zM234.90 136.85H251.15V140.95H234.90zM56.75 140.90H72.99V144.99H56.75zM243.00 140.90H260.05V144.99H243.00zM56.75 144.94H72.99V149.03H56.75zM243.00 144.94H260.05V149.03H243.00zM234.90 148.98H243.05V153.08H234.90zM251.10 148.98H260.05V153.08H251.10zM234.90 153.03H243.05V157.12H234.90zM251.10 153.03H260.05V157.12H251.10zM202.51 157.07H210.66V161.17H202.51zM234.90 157.07H243.05V161.17H234.90zM202.51 161.12H210.66V165.21H202.51zM234.90 161.12H243.05V165.21H234.90zM194.41 165.16H218.76V169.25H194.41zM234.90 165.16H260.05V169.25H234.90zM194.41 169.20H218.76V173.30H194.41zM234.90 169.20H260.05V173.30H234.90zM64.84 173.25H72.99V177.34H64.84zM186.31 173.25H218.76V177.34H186.31zM234.90 173.25H251.15V177.34H234.90zM64.84 177.29H72.99V181.39H64.84zM186.31 177.29H218.76V181.39H186.31zM234.90 177.29H251.15V181.39H234.90zM194.41 181.34H210.66V185.43H194.41zM194.41 185.38H210.66V189.47H194.41zM105.33 189.42H121.58V193.52H105.33zM202.51 189.42H210.66V193.52H202.51zM218.71 189.42H243.05V193.52H218.71zM251.10 189.42H260.05V193.52H251.10zM105.33 193.47H121.58V197.56H105.33zM202.51 193.47H210.66V197.56H202.51zM218.71 193.47H243.05V197.56H218.71zM251.10 193.47H260.05V197.56H251.10zM97.24 197.51H105.38V201.61H97.24zM218.71 197.51H234.95V201.61H218.71zM243.00 197.51H260.05V201.61H243.00zM97.24 201.56H105.38V205.65H97.24zM218.71 201.56H234.95V205.65H218.71zM243.00 201.56H260.05V205.65H243.00zM162.02 205.60H186.36V209.69H162.02zM243.00 205.60H260.05V209.69H243.00zM162.02 209.64H186.36V213.74H162.02zM243.00 209.64H260.05V213.74H243.00zM170.12 213.69H186.36V217.78H170.12zM202.51 213.69H210.66V217.78H202.51zM243.00 213.69H260.05V217.78H243.00zM170.12 217.73H186.36V221.83H170.12zM202.51 217.73H210.66V221.83H202.51zM243.00 217.73H260.05V221.83H243.00zM174.17 242.00H178.27V246.09H174.17z"/>
<path fill="#78f573" d="M129.63 0.00H145.87V3.45H129.63zM218.71 0.00H226.85V3.45H218.71zM129.63 3.40H145.87V7.49H129.63zM218.71 3.40H226.85V7.49H218.71zM129.63 7.44H145.87V11.54H129.63zM218.71 7.44H226.85V11.54H218.71zM137.73 11.49H145.87V15.58H137.73zM218.71 11.49H234.95V15.58H218.71zM137.73 15.53H145.87V19.63H137.73zM218.71 15.53H234.95V19.63H218.71zM105.33 19.58H121.58V23.67H105.33zM137.73 19.58H145.87V23.67H137.73zM194.41 19.58H243.05V23.67H194.41zM105.33 23.62H121.58V27.71H105.33zM137.73 23.62H145.87V27.71H137.73zM194.41 23.62H243.05V27.71H194.41zM97.24 27.66H105.38V31.76H97.24zM137.73 27.66H145.87V31.76H137.73zM194.41 27.66H202.56V31.76H194.41zM210.61 27.66H218.76V31.76H210.61zM226.80 27.66H234.95V31.76H226.80zM97.24 31.71H105.38V35.80H97.24zM137.73 31.71H145.87V35.80H137.73zM194.41 31.71H202.56V35.80H194.41zM210.61 31.71H218.76V35.80H210.61zM226.80 31.71H234.95V35.80H226.80zM89.14 35.75H105.38V39.85H89.14zM129.63 35.75H137.78V39.85H129.63zM194.41 35.75H210.66V39.85H194.41zM243.00 35.75H251.15V39.85H243.00zM89.14 39.80H105.38V43.89H89.14zM129.63 39.80H137.78V43.89H129.63zM194.41 39.80H210.66V43.89H194.41zM243.00 39.80H251.15V43.89H243.00zM89.14 43.84H113.48V47.93H89.14zM153.92 43.84H178.27V47.93H153.92zM194.41 43.84H210.66V47.93H194.41zM89.14 47.88H113.48V51.98H89.14zM153.92 47.88H178.27V51.98H153.92zM194.41 47.88H210.66V51.98H194.41zM153.92 51.93H218.76V56.02H153.92zM153.92 55.97H218.76V60.07H153.92zM153.92 60.02H186.36V64.11H153.92zM194.41 60.02H210.66V64.11H194.41zM153.92 64.06H186.36V68.15H153.92zM194.41 64.06H210.66V68.15H194.41zM153.92 68.10H162.07V72.20H153.92zM170.12 68.10H210.66V72.20H170.12zM218.71 68.10H234.95V72.20H218.71zM153.92 72.15H162.07V76.24H153.92zM170.12 72.15H210.66V76.24H170.12zM218.71 72.15H234.95V76.24H218.71zM121.53 76.19H178.27V80.29H121.53zM121.53 80.24H178.27V84.33H121.53zM121.53 84.28H178.27V88.37H121.53zM121.53 88.32H178.27V92.42H121.53zM129.63 92.37H194.46V96.46H129.63zM129.63 96.41H194.46V100.51H129.63zM129.63 100.46H170.17V104.55H129.63zM194.41 100.46H210.66V104.55H194.41zM129.63 104.50H170.17V108.59H129.63zM194.41 104.50H210.66V108.59H194.41zM32.45 108.54H56.80V112.64H32.45zM105.33 108.54H129.68V112.64H105.33zM145.82 108.54H162.07V112.64H145.82zM170.12 108.54H178.27V112.64H170.12zM210.61 108.54H218.76V112.64H210.61zM32.45 112.59H56.80V116.68H32.45zM105.33 112.59H129.68V116.68H105.33zM145.82 112.59H162.07V116.68H145.82zM170.12 112.59H178.27V116.68H170.12zM210.61 112.59H218.76V116.68H210.61zM32.45 116.63H48.70V120.73H32.45zM56.75 116.63H64.89V120.73H56.75zM72.94 116.63H89.19V120.73H72.94zM113.43 116.63H121.58V120.73H113.43zM145.82 116.63H162.07V120.73H145.82zM170.12 116.63H194.46V120.73H170.12zM218.71 116.63H226.85V120.73H218.71zM32.45 120.68H48.70V124.77H32.45zM56.75 120.68H64.89V124.77H56.75zM72.94 120.68H89.19V124.77H72.94zM113.43 120.68H121.58V124.77H113.43zM145.82 120.68H162.07V124.77H145.82zM170.12 120.68H194.46V124.77H170.12zM218.71 120.68H226.85V124.77H218.71zM72.94 124.72H97.29V128.81H72.94zM113.43 124.72H121.58V128.81H113.43zM145.82 124.72H153.97V128.81H145.82zM178.22 124.72H202.56V128.81H178.22zM218.71 124.72H226.85V128.81H218.71zM72.94 128.76H97.29V132.86H72.94zM113.43 128.76H121.58V132.86H113.43zM145.82 128.76H153.97V132.86H145.82zM178.22 128.76H202.56V132.86H178.22zM218.71 128.76H226.85V132.86H218.71zM145.82 132.81H153.97V136.90H145.82zM170.12 132.81H202.56V136.90H170.12zM226.80 132.81H234.95V136.90H226.80zM145.82 136.85H153.97V140.95H145.82zM170.12 136.85H202.56V140.95H170.12zM226.80 136.85H234.95V140.95H226.80zM48.65 140.90H56.80V144.99H48.65zM121.53 140.90H129.68V144.99H121.53zM145.82 140.90H153.97V144.99H145.82zM162.02 140.90H202.56V144.99H162.02zM226.80 140.90H243.05V144.99H226.80zM48.65 144.94H56.80V149.03H48.65zM121.53 144.94H129.68V149.03H121.53zM145.82 144.94H153.97V149.03H145.82zM162.02 144.94H202.56V149.03H162.02zM226.80 144.94H243.05V149.03H226.80zM48.65 148.98H81.09V153.08H48.65zM170.12 148.98H202.56V153.08H170.12zM210.61 148.98H218.76V153.08H210.61zM226.80 148.98H234.95V153.08H226.80zM243.00 148.98H251.15V153.08H243.00zM48.65 153.03H81.09V157.12H48.65zM170.12 153.03H202.56V157.12H170.12zM210.61 153.03H218.76V157.12H210.61zM226.80 153.03H234.95V157.12H226.80zM243.00 153.03H251.15V157.12H243.00zM137.73 157.07H145.87V161.17H137.73zM178.22 157.07H202.56V161.17H178.22zM210.61 157.07H218.76V161.17H210.61zM226.80 157.07H234.95V161.17H226.80zM243.00 157.07H260.05V161.17H243.00zM137.73 161.12H145.87V165.21H137.73zM178.22 161.12H202.56V165.21H178.22zM210.61 161.12H218.76V165.21H210.61zM226.80 161.12H234.95V165.21H226.80zM243.00 161.12H260.05V165.21H243.00zM129.63 165.16H145.87V169.25H129.63zM153.92 165.16H162.07V169.25H153.92zM186.31 165.16H194.46V169.25H186.31zM218.71 165.16H234.95V169.25H218.71zM129.63 169.20H145.87V173.30H129.63zM153.92 169.20H162.07V173.30H153.92zM186.31 169.20H194.46V173.30H186.31zM218.71 169.20H234.95V173.30H218.71zM137.73 173.25H145.87V177.34H137.73zM153.92 173.25H162.07V177.34H153.92zM218.71 173.25H234.95V177.34H218.71zM251.10 173.25H260.05V177.34H251.10zM137.73 177.29H145.87V181.39H137.73zM153.92 177.29H162.07V181.39H153.92zM218.71 177.29H234.95V181.39H218.71zM251.10 177.29H260.05V181.39H251.10zM64.84 181.34H72.99V185.43H64.84zM162.02 181.34H194.46V185.43H162.02zM210.61 181.34H260.05V185.43H210.61zM64.84 185.38H72.99V189.47H64.84zM162.02 185.38H194.46V189.47H162.02zM210.61 185.38H260.05V189.47H210.61zM48.65 189.42H64.89V193.52H48.65zM145.82 189.42H202.56V193.52H145.82zM210.61 189.42H218.76V193.52H210.61zM243.00 189.42H251.15V193.52H243.00zM48.65 193.47H64.89V197.56H48.65zM145.82 193.47H202.56V197.56H145.82zM210.61 193.47H218.76V197.56H210.61zM243.00 193.47H251.15V197.56H243.00zM40.55 197.51H64.89V201.61H40.55zM89.14 197.51H97.29V201.61H89.14zM105.33 197.51H113.48V201.61H105.33zM145.82 197.51H162.07V201.61H145.82zM170.12 197.51H218.76V201.61H170.12zM234.90 197.51H243.05V201.61H234.90zM40.55 201.56H64.89V205.65H40.55zM89.14 201.56H97.29V205.65H89.14zM105.33 201.56H113.48V205.65H105.33zM145.82 201.56H162.07V205.65H145.82zM170.12 201.56H218.76V205.65H170.12zM234.90 201.56H243.05V205.65H234.90zM40.55 205.60H56.80V209.69H40.55zM64.84 205.60H81.09V209.69H64.84zM97.24 205.60H113.48V209.69H97.24zM186.31 205.60H210.66V209.69H186.31zM234.90 205.60H243.05V209.69H234.90zM40.55 209.64H56.80V213.74H40.55zM64.84 209.64H81.09V213.74H64.84zM97.24 209.64H113.48V213.74H97.24zM186.31 209.64H210.66V213.74H186.31zM234.90 209.64H243.05V213.74H234.90zM40.55 213.69H56.80V217.78H40.55zM186.31 213.69H202.56V217.78H186.31zM210.61 213.69H226.85V217.78H210.61zM40.55 217.73H56.80V221.83H40.55zM186.31 217.73H202.56V221.83H186.31zM210.61 217.73H226.85V221.83H210.61zM202.51 221.78H210.66V225.87H202.51zM202.51 225.82H210.66V229.91H202.51zM198.46 229.86H202.56V233.96H198.46zM194.41 233.91H198.51V238.00H194.41zM166.07 237.95H178.27V242.05H166.07zM162.02 242.00H174.22V246.09H162.02zM166.07 246.04H178.27V250.13H166.07zM170.12 250.08H178.27V254.18H170.12zM170.12 254.13H178.27V258.22H170.12zM210.61 254.13H226.85V258.22H210.61zM243.00 254.13H260.05V258.22H243.00zM210.61 258.17H226.85V262.27H210.61zM243.00 258.17H260.05V262.27H243.00zM243.00 262.22H260.05V266.31H243.00zM243.00 266.26H260.05V270.05H243.00z"/>
<path fill="#78b9fa" d="M153.92 0.00H178.27V3.45H153.92zM186.31 0.00H218.76V3.45H186.31zM153.92 3.40H178.27V7.49H153.92zM186.31 3.40H218.76V7.49H186.31zM153.92 7.44H178.27V11.54H153.92zM186.31 7.44H218.76V11.54H186.31zM162.02 11.49H170.17V15.58H162.02zM194.41 11.49H202.56V15.58H194.41zM243.00 11.49H260.05V15.58H243.00zM162.02 15.53H170.17V19.63H162.02zM194.41 15.53H202.56V19.63H194.41zM243.00 15.53H260.05V19.63H243.00zM178.22 19.58H186.36V23.67H178.22zM178.22 23.62H186.36V27.71H178.22zM72.94 84.28H81.09V88.37H72.94zM72.94 88.32H81.09V92.42H72.94zM129.63 108.54H145.87V112.64H129.63zM129.63 112.59H145.87V116.68H129.63zM129.63 116.63H145.87V120.73H129.63zM129.63 120.68H145.87V124.77H129.63zM0.00 124.72H48.70V128.81H0.00zM56.75 124.72H72.99V128.81H56.75zM0.00 128.76H48.70V132.86H0.00zM56.75 128.76H72.99V132.86H56.75zM0.00 132.81H24.40V136.90H0.00zM64.84 132.81H97.29V136.90H64.84zM0.00 136.85H24.40V140.95H0.00zM64.84 136.85H97.29V140.95H64.84zM8.16 140.90H24.40V144.99H8.16zM32.45 140.90H40.60V144.99H32.45zM81.04 140.90H89.19V144.99H81.04zM8.16 144.94H24.40V149.03H8.16zM32.45 144.94H40.60V149.03H32.45zM81.04 144.94H89.19V149.03H81.04zM24.35 148.98H48.70V153.08H24.35zM113.43 148.98H121.58V153.08H113.43zM24.35 153.03H48.70V157.12H24.35zM113.43 153.03H121.58V157.12H113.43zM16.26 157.07H48.70V161.17H16.26zM121.53 157.07H129.68V161.17H121.53zM16.26 161.12H48.70V165.21H16.26zM121.53 161.12H129.68V165.21H121.53zM8.16 165.16H56.80V169.25H8.16zM81.04 165.16H85.14V169.25H81.04zM89.14 165.16H105.38V169.25H89.14zM121.53 165.16H129.68V169.25H121.53zM8.16 169.20H56.80V173.30H8.16zM81.04 169.20H105.38V173.30H81.04zM121.53 169.20H129.68V173.30H121.53zM0.00 173.25H32.50V177.34H0.00zM48.65 173.25H56.80V177.34H48.65zM81.04 173.25H89.19V177.34H81.04zM105.33 173.25H137.78V177.34H105.33zM0.00 177.29H12.26V181.39H0.00zM20.30 177.29H32.50V181.39H20.30zM48.65 177.29H56.80V181.39H48.65zM81.04 177.29H89.19V181.39H81.04zM113.43 177.29H137.78V181.39H113.43zM40.55 181.34H48.70V185.43H40.55zM81.04 181.34H89.19V185.43H81.04zM129.63 181.34H137.78V185.43H129.63zM40.55 185.38H48.70V189.47H40.55zM81.04 185.38H89.19V189.47H81.04zM129.63 185.38H137.78V189.47H129.63zM20.30 189.42H48.70V193.52H20.30zM64.84 189.42H72.99V193.52H64.84zM0.00 193.47H4.16V197.56H0.00zM16.26 193.47H48.70V197.56H16.26zM64.84 193.47H72.99V197.56H64.84zM0.00 197.51H4.16V201.61H0.00zM16.26 197.51H40.60V201.61H16.26zM64.84 197.51H72.99V201.61H64.84zM0.00 201.56H40.60V205.65H0.00zM64.84 201.56H72.99V205.65H64.84zM113.43 205.60H121.58V209.69H113.43zM113.43 209.64H121.58V213.74H113.43zM89.14 213.69H105.38V217.78H89.14zM129.63 213.69H137.78V217.78H129.63zM162.02 213.69H170.17V217.78H162.02zM89.14 217.73H105.38V221.83H89.14zM129.63 217.73H137.78V221.83H129.63zM162.02 217.73H170.17V221.83H162.02zM8.16 221.78H24.40V225.87H8.16zM89.14 221.78H113.48V225.87H89.14zM137.73 221.78H145.87V225.87H137.73zM170.12 221.78H186.36V225.87H170.12zM8.16 225.82H24.40V229.91H8.16zM93.19 225.82H117.53V229.91H93.19zM145.82 225.82H149.92V229.91H145.82zM153.92 225.82H162.07V229.91H153.92zM182.27 225.82H186.36V229.91H182.27zM16.26 229.86H32.50V233.96H16.26zM48.65 229.86H64.89V233.96H48.65zM85.09 229.86H133.73V233.96H85.09zM162.02 229.86H174.22V233.96H162.02zM182.27 229.86H186.36V233.96H182.27zM16.26 233.91H32.50V238.00H16.26zM48.65 233.91H64.89V238.00H48.65zM85.09 233.91H93.24V238.00H85.09zM97.24 233.91H141.83V238.00H97.24zM0.00 237.95H16.31V242.05H0.00zM24.35 237.95H64.89V242.05H24.35zM72.94 237.95H97.29V242.05H72.94zM121.53 237.95H133.73V242.05H121.53zM141.78 237.95H145.87V242.05H141.78zM0.00 242.00H16.31V246.09H0.00zM24.35 242.00H64.89V246.09H24.35zM72.94 242.00H81.09V246.09H72.94zM85.09 242.00H101.34V246.09H85.09zM125.58 242.00H133.73V246.09H125.58zM145.82 242.00H149.92V246.09H145.82zM24.35 246.04H32.50V250.13H24.35zM40.55 246.04H48.70V250.13H40.55zM56.75 246.04H72.99V250.13H56.75zM125.58 246.04H133.73V250.13H125.58zM149.87 246.04H153.97V250.13H149.87zM226.80 246.04H243.05V250.13H226.80zM24.35 250.08H32.50V254.18H24.35zM40.55 250.08H48.70V254.18H40.55zM56.75 250.08H72.99V254.18H56.75zM117.48 250.08H133.73V254.18H117.48zM149.87 250.08H153.97V254.18H149.87zM190.36 250.08H202.56V254.18H190.36zM226.80 250.08H243.05V254.18H226.80zM0.00 254.13H24.40V258.22H0.00zM32.45 254.13H56.80V258.22H32.45zM72.94 254.13H81.09V258.22H72.94zM117.48 254.13H121.58V258.22H117.48zM125.58 254.13H137.78V258.22H125.58zM153.92 254.13H158.02V258.22H153.92zM182.27 254.13H194.46V258.22H182.27zM198.46 254.13H202.56V258.22H198.46zM234.90 254.13H243.05V258.22H234.90zM0.00 258.17H24.40V262.27H0.00zM32.45 258.17H56.80V262.27H32.45zM72.94 258.17H81.09V262.27H72.94zM137.73 258.17H141.83V262.27H137.73zM157.97 258.17H162.07V262.27H157.97zM178.22 258.17H202.56V262.27H178.22zM234.90 258.17H243.05V262.27H234.90zM0.00 262.22H8.21V266.31H0.00zM16.26 262.22H72.99V266.31H16.26zM137.73 262.22H149.92V266.31H137.73zM166.07 262.22H170.17V266.31H166.07zM178.22 262.22H202.56V266.31H178.22zM0.00 266.26H8.21V270.05H0.00zM16.26 266.26H72.99V270.05H16.26zM81.04 266.26H85.14V270.05H81.04zM166.07 266.26H174.22V270.05H166.07zM190.36 266.26H194.46V270.05H190.36z"/>
<path fill="#3c96f5" d="M178.22 0.00H186.36V3.45H178.22zM178.22 3.40H186.36V7.49H178.22zM178.22 7.44H186.36V11.54H178.22zM202.51 11.49H210.66V15.58H202.51zM202.51 15.53H210.66V19.63H202.51zM251.10 19.58H260.05V23.67H251.10zM251.10 23.62H260.05V27.71H251.10zM48.65 124.72H56.80V128.81H48.65zM48.65 128.76H56.80V132.86H48.65zM48.65 132.81H56.80V136.90H48.65zM40.55 136.85H52.75V140.95H40.55zM89.14 140.90H97.29V144.99H89.14zM89.14 144.94H97.29V149.03H89.14zM81.04 148.98H89.19V153.08H81.04zM101.29 148.98H113.48V153.08H101.29zM81.04 153.03H89.19V157.12H81.04zM97.24 153.03H113.48V157.12H97.24zM81.04 157.07H89.19V161.17H81.04zM101.29 157.07H105.38V161.17H101.29zM113.43 157.07H121.58V161.17H113.43zM81.04 161.12H105.38V165.21H81.04zM113.43 161.12H121.58V165.21H113.43zM105.33 165.16H121.58V169.25H105.33zM105.33 169.20H109.43V173.30H105.33zM113.43 169.20H121.58V173.30H113.43zM32.45 173.25H48.70V177.34H32.45zM89.14 173.25H97.29V177.34H89.14zM101.29 173.25H105.38V177.34H101.29zM32.45 177.29H48.70V181.39H32.45zM89.14 177.29H105.38V181.39H89.14zM0.00 181.34H4.16V185.43H0.00zM16.26 181.34H40.60V185.43H16.26zM89.14 181.34H97.29V185.43H89.14zM20.30 185.38H40.60V189.47H20.30zM89.14 185.38H105.38V189.47H89.14zM0.00 189.42H4.16V193.52H0.00zM16.26 189.42H20.36V193.52H16.26zM4.11 197.51H8.21V201.61H4.11zM12.21 197.51H16.31V201.61H12.21zM145.82 221.78H170.17V225.87H145.82zM149.87 225.82H153.97V229.91H149.87zM170.12 225.82H174.22V229.91H170.12zM153.92 229.86H162.07V233.96H153.92zM93.19 233.91H97.29V238.00H93.19zM97.24 237.95H113.48V242.05H97.24zM133.68 237.95H141.83V242.05H133.68zM81.04 242.00H85.14V246.09H81.04zM109.38 242.00H113.48V246.09H109.38zM133.68 242.00H145.87V246.09H133.68zM0.00 246.04H24.40V250.13H0.00zM32.45 246.04H40.60V250.13H32.45zM48.65 246.04H56.80V250.13H48.65zM72.94 246.04H85.14V250.13H72.94zM93.19 246.04H105.38V250.13H93.19zM133.68 246.04H141.83V250.13H133.68zM145.82 246.04H149.92V250.13H145.82zM0.00 250.08H24.40V254.18H0.00zM32.45 250.08H40.60V254.18H32.45zM48.65 250.08H56.80V254.18H48.65zM72.94 250.08H85.14V254.18H72.94zM93.19 250.08H105.38V254.18H93.19zM113.43 250.08H117.53V254.18H113.43zM133.68 250.08H149.92V254.18H133.68zM81.04 254.13H93.24V258.22H81.04zM109.38 254.13H117.53V258.22H109.38zM137.73 254.13H153.97V258.22H137.73zM194.41 254.13H198.51V258.22H194.41zM81.04 258.17H85.14V262.27H81.04zM113.43 258.17H137.78V262.27H113.43zM141.78 258.17H158.02V262.27H141.78zM8.16 262.22H16.31V266.31H8.16zM72.94 262.22H81.09V266.31H72.94zM149.87 262.22H166.12V266.31H149.87zM8.16 266.26H16.31V270.05H8.16zM72.94 266.26H81.09V270.05H72.94zM85.09 266.26H105.38V270.05H85.09zM141.78 266.26H166.12V270.05H141.78zM174.17 266.26H190.41V270.05H174.17zM194.41 266.26H202.56V270.05H194.41z"/>
<path fill="#b4f0fa" d="M251.10 0.00H260.05V3.45H251.10zM251.10 3.40H260.05V7.49H251.10zM251.10 7.44H260.05V11.54H251.10zM145.82 11.49H162.07V15.58H145.82zM170.12 11.49H194.46V15.58H170.12zM210.61 11.49H218.76V15.58H210.61zM145.82 15.53H162.07V19.63H145.82zM170.12 15.53H194.46V19.63H170.12zM210.61 15.53H218.76V19.63H210.61zM145.82 19.58H178.27V23.67H145.82zM186.31 19.58H194.46V23.67H186.31zM243.00 19.58H251.15V23.67H243.00zM145.82 23.62H178.27V27.71H145.82zM186.31 23.62H194.46V27.71H186.31zM243.00 23.62H251.15V27.71H243.00zM145.82 27.66H194.46V31.76H145.82zM202.51 27.66H210.66V31.76H202.51zM145.82 31.71H194.46V35.80H145.82zM202.51 31.71H210.66V35.80H202.51zM145.82 35.75H178.27V39.85H145.82zM145.82 39.80H178.27V43.89H145.82zM210.61 43.84H226.85V47.93H210.61zM210.61 47.88H226.85V51.98H210.61zM186.31 60.02H194.46V64.11H186.31zM186.31 64.06H194.46V68.15H186.31zM210.61 68.10H218.76V72.20H210.61zM210.61 72.15H218.76V76.24H210.61zM178.22 76.19H186.36V80.29H178.22zM178.22 80.24H186.36V84.33H178.22zM48.65 92.37H56.80V96.46H48.65zM48.65 96.41H56.80V100.51H48.65zM48.65 100.46H56.80V104.55H48.65zM64.84 100.46H72.99V104.55H64.84zM170.12 100.46H194.46V104.55H170.12zM48.65 104.50H56.80V108.59H48.65zM64.84 104.50H72.99V108.59H64.84zM170.12 104.50H194.46V108.59H170.12zM0.00 108.54H8.21V112.64H0.00zM56.75 108.54H105.38V112.64H56.75zM178.22 108.54H210.66V112.64H178.22zM0.00 112.59H8.21V116.68H0.00zM56.75 112.59H105.38V116.68H56.75zM178.22 112.59H210.66V116.68H178.22zM0.00 116.63H8.21V120.73H0.00zM48.65 116.63H56.80V120.73H48.65zM64.84 116.63H72.99V120.73H64.84zM89.14 116.63H113.48V120.73H89.14zM194.41 116.63H218.76V120.73H194.41zM0.00 120.68H8.21V124.77H0.00zM48.65 120.68H56.80V124.77H48.65zM64.84 120.68H72.99V124.77H64.84zM89.14 120.68H113.48V124.77H89.14zM194.41 120.68H218.76V124.77H194.41zM97.24 124.72H113.48V128.81H97.24zM129.63 124.72H145.87V128.81H129.63zM153.92 124.72H162.07V128.81H153.92zM202.51 124.72H218.76V128.81H202.51zM97.24 128.76H113.48V132.86H97.24zM129.63 128.76H145.87V132.86H129.63zM153.92 128.76H162.07V132.86H153.92zM202.51 128.76H218.76V132.86H202.51zM56.75 132.81H64.89V136.90H56.75zM97.24 132.81H145.87V136.90H97.24zM153.92 132.81H170.17V136.90H153.92zM202.51 132.81H226.85V136.90H202.51zM56.75 136.85H64.89V140.95H56.75zM97.24 136.85H145.87V140.95H97.24zM153.92 136.85H170.17V140.95H153.92zM202.51 136.85H226.85V140.95H202.51zM0.00 140.90H8.21V144.99H0.00zM24.35 140.90H32.50V144.99H24.35zM40.55 140.90H48.70V144.99H40.55zM72.94 140.90H81.09V144.99H72.94zM97.24 140.90H121.58V144.99H97.24zM129.63 140.90H145.87V144.99H129.63zM153.92 140.90H162.07V144.99H153.92zM202.51 140.90H226.85V144.99H202.51zM0.00 144.94H8.21V149.03H0.00zM24.35 144.94H32.50V149.03H24.35zM40.55 144.94H48.70V149.03H40.55zM72.94 144.94H81.09V149.03H72.94zM97.24 144.94H121.58V149.03H97.24zM129.63 144.94H145.87V149.03H129.63zM153.92 144.94H162.07V149.03H153.92zM202.51 144.94H226.85V149.03H202.51zM0.00 148.98H24.40V153.08H0.00zM121.53 148.98H170.17V153.08H121.53zM202.51 148.98H210.66V153.08H202.51zM218.71 148.98H226.85V153.08H218.71zM0.00 153.03H24.40V157.12H0.00zM121.53 153.03H170.17V157.12H121.53zM202.51 153.03H210.66V157.12H202.51zM218.71 153.03H226.85V157.12H218.71zM0.00 157.07H16.31V161.17H0.00zM48.65 157.07H81.09V161.17H48.65zM129.63 157.07H137.78V161.17H129.63zM145.82 157.07H178.27V161.17H145.82zM218.71 157.07H226.85V161.17H218.71zM0.00 161.12H16.31V165.21H0.00zM48.65 161.12H81.09V165.21H48.65zM129.63 161.12H137.78V165.21H129.63zM145.82 161.12H178.27V165.21H145.82zM218.71 161.12H226.85V165.21H218.71zM0.00 165.16H8.21V169.25H0.00zM56.75 165.16H81.09V169.25H56.75zM145.82 165.16H153.97V169.25H145.82zM162.02 165.16H186.36V169.25H162.02zM0.00 169.20H8.21V173.30H0.00zM56.75 169.20H81.09V173.30H56.75zM145.82 169.20H153.97V173.30H145.82zM162.02 169.20H186.36V173.30H162.02zM56.75 173.25H64.89V177.34H56.75zM72.94 173.25H81.09V177.34H72.94zM145.82 173.25H153.97V177.34H145.82zM162.02 173.25H186.36V177.34H162.02zM56.75 177.29H64.89V181.39H56.75zM72.94 177.29H81.09V181.39H72.94zM145.82 177.29H153.97V181.39H145.82zM162.02 177.29H186.36V181.39H162.02zM48.65 181.34H64.89V185.43H48.65zM72.94 181.34H81.09V185.43H72.94zM113.43 181.34H129.68V185.43H113.43zM137.73 181.34H162.07V185.43H137.73zM48.65 185.38H64.89V189.47H48.65zM72.94 185.38H81.09V189.47H72.94zM113.43 185.38H129.68V189.47H113.43zM137.73 185.38H162.07V189.47H137.73zM72.94 189.42H105.38V193.52H72.94zM121.53 189.42H145.87V193.52H121.53zM72.94 193.47H105.38V197.56H72.94zM121.53 193.47H145.87V197.56H121.53zM72.94 197.51H89.19V201.61H72.94zM113.43 197.51H145.87V201.61H113.43zM162.02 197.51H170.17V201.61H162.02zM72.94 201.56H89.19V205.65H72.94zM113.43 201.56H145.87V205.65H113.43zM162.02 201.56H170.17V205.65H162.02zM0.00 205.60H40.60V209.69H0.00zM56.75 205.60H64.89V209.69H56.75zM81.04 205.60H97.29V209.69H81.04zM121.53 205.60H162.07V209.69H121.53zM210.61 205.60H234.95V209.69H210.61zM0.00 209.64H40.60V213.74H0.00zM56.75 209.64H64.89V213.74H56.75zM81.04 209.64H97.29V213.74H81.04zM121.53 209.64H162.07V213.74H121.53zM210.61 209.64H234.95V213.74H210.61zM0.00 213.69H40.60V217.78H0.00zM56.75 213.69H89.19V217.78H56.75zM105.33 213.69H129.68V217.78H105.33zM145.82 213.69H162.07V217.78H145.82zM226.80 213.69H243.05V217.78H226.80zM0.00 217.73H40.60V221.83H0.00zM56.75 217.73H89.19V221.83H56.75zM105.33 217.73H129.68V221.83H105.33zM145.82 217.73H162.07V221.83H145.82zM226.80 217.73H243.05V221.83H226.80zM0.00 221.78H8.21V225.87H0.00zM24.35 221.78H89.19V225.87H24.35zM113.43 221.78H137.78V225.87H113.43zM186.31 221.78H202.56V225.87H186.31zM210.61 221.78H260.05V225.87H210.61zM0.00 225.82H8.21V229.91H0.00zM24.35 225.82H93.24V229.91H24.35zM117.48 225.82H145.87V229.91H117.48zM174.17 225.82H182.32V229.91H174.17zM186.31 225.82H202.56V229.91H186.31zM210.61 225.82H260.05V229.91H210.61zM0.00 229.86H16.31V233.96H0.00zM32.45 229.86H48.70V233.96H32.45zM64.84 229.86H85.14V233.96H64.84zM133.68 229.86H149.92V233.96H133.68zM174.17 229.86H182.32V233.96H174.17zM186.31 229.86H198.51V233.96H186.31zM202.51 229.86H260.05V233.96H202.51zM0.00 233.91H16.31V238.00H0.00zM32.45 233.91H48.70V238.00H32.45zM64.84 233.91H85.14V238.00H64.84zM141.78 233.91H194.46V238.00H141.78zM198.46 233.91H260.05V238.00H198.46zM16.26 237.95H24.40V242.05H16.26zM64.84 237.95H72.99V242.05H64.84zM145.82 237.95H166.12V242.05H145.82zM178.22 237.95H260.05V242.05H178.22zM16.26 242.00H24.40V246.09H16.26zM64.84 242.00H72.99V246.09H64.84zM149.87 242.00H162.07V246.09H149.87zM178.22 242.00H260.05V246.09H178.22zM153.92 246.04H166.12V250.13H153.92zM178.22 246.04H226.85V250.13H178.22zM243.00 246.04H260.05V250.13H243.00zM153.92 250.08H170.17V254.18H153.92zM178.22 250.08H190.41V254.18H178.22zM202.51 250.08H226.85V254.18H202.51zM243.00 250.08H260.05V254.18H243.00zM24.35 254.13H32.50V258.22H24.35zM56.75 254.13H72.99V258.22H56.75zM121.53 254.13H125.63V258.22H121.53zM157.97 254.13H170.17V258.22H157.97zM178.22 254.13H182.32V258.22H178.22zM202.51 254.13H210.66V258.22H202.51zM226.80 254.13H234.95V258.22H226.80zM24.35 258.17H32.50V262.27H24.35zM56.75 258.17H72.99V262.27H56.75zM162.02 258.17H178.27V262.27H162.02zM202.51 258.17H210.66V262.27H202.51zM226.80 258.17H234.95V262.27H226.80zM170.12 262.22H178.27V266.31H170.12zM202.51 262.22H243.05V266.31H202.51zM202.51 266.26H243.05V270.05H202.51z"/>
<path fill="#1e6eeb" d="M24.35 132.81H48.70V136.90H24.35zM24.35 136.85H32.50V140.95H24.35zM89.14 148.98H101.34V153.08H89.14zM89.14 153.03H93.24V157.12H89.14zM105.33 157.07H113.48V161.17H105.33zM105.33 161.12H113.48V165.21H105.33zM97.24 181.34H105.38V185.43H97.24zM0.00 185.38H4.16V189.47H0.00zM4.11 193.47H8.21V197.56H4.11zM12.21 193.47H16.31V197.56H12.21zM8.16 197.51H12.26V201.61H8.16zM113.43 237.95H121.58V242.05H113.43zM101.29 242.00H109.43V246.09H101.29zM113.43 242.00H117.53V246.09H113.43zM121.53 242.00H125.63V246.09H121.53zM85.09 246.04H93.24V250.13H85.09zM113.43 246.04H117.53V250.13H113.43zM121.53 246.04H125.63V250.13H121.53zM141.78 246.04H145.87V250.13H141.78zM85.09 250.08H93.24V254.18H85.09zM93.19 254.13H109.43V258.22H93.19zM85.09 258.17H89.19V262.27H85.09zM109.38 258.17H113.48V262.27H109.38zM81.04 262.22H85.14V266.31H81.04zM109.38 262.22H125.63V266.31H109.38zM133.68 262.22H137.78V266.31H133.68zM133.68 266.26H141.83V270.05H133.68z"/>
<path fill="#ffe878" d="M32.45 136.85H40.60V140.95H32.45zM52.70 136.85H56.80V140.95H52.70zM97.24 157.07H101.34V161.17H97.24zM85.09 165.16H89.19V169.25H85.09zM109.38 169.20H113.48V173.30H109.38zM97.24 173.25H101.34V177.34H97.24zM12.21 177.29H20.36V181.39H12.21zM105.33 177.29H113.48V181.39H105.33zM4.11 181.34H16.31V185.43H4.11zM105.33 181.34H113.48V185.43H105.33zM16.26 185.38H20.36V189.47H16.26zM105.33 185.38H113.48V189.47H105.33zM4.11 189.42H8.21V193.52H4.11zM166.07 225.82H170.17V229.91H166.07zM149.87 229.86H153.97V233.96H149.87zM105.33 250.08H113.48V254.18H105.33zM89.14 258.17H93.24V262.27H89.14zM85.09 262.22H89.19V266.31H85.09zM97.24 262.22H101.34V266.31H97.24zM125.58 262.22H129.68V266.31H125.58zM105.33 266.26H133.73V270.05H105.33z"/>
<path fill="#ff3200" d="M93.19 153.03H97.29V157.12H93.19zM4.11 185.38H8.21V189.47H4.11zM8.16 189.42H12.26V193.52H8.16zM117.48 242.00H121.58V246.09H117.48zM93.19 258.17H97.29V262.27H93.19zM101.29 258.17H105.38V262.27H101.29zM101.29 262.22H105.38V266.31H101.29z"/>
<path fill="#a51e1e" d="M89.14 157.07H97.29V161.17H89.14zM8.16 185.38H16.31V189.47H8.16zM105.33 258.17H109.43V262.27H105.33zM105.33 262.22H109.43V266.31H105.33z"/>
<path fill="#ffa000" d="M12.21 189.42H16.31V193.52H12.21zM8.16 193.47H12.26V197.56H8.16zM137.73 213.69H145.87V217.78H137.73zM137.73 217.73H145.87V221.83H137.73zM162.02 225.82H166.12V229.91H162.02zM105.33 246.04H113.48V250.13H105.33zM117.48 246.04H121.58V250.13H117.48zM97.24 258.17H101.34V262.27H97.24zM89.14 262.22H97.29V266.31H89.14zM129.63 262.22H133.73V266.31H129.63z"/>
<use href="#bd"/></g>
<rect x="0.4" y="0.68" width="259.0" height="268.95" fill="none" stroke="#000" stroke-width="1.25" shape-rendering="geometricPrecision"/></g>
<g transform="translate(293,320)"><g clip-path="url(#cp)">
<path fill="#f0dcb4" d="M24.35 0.00H32.50V3.45H24.35zM56.75 0.00H64.89V3.45H56.75zM81.04 0.00H97.29V3.45H81.04zM194.41 0.00H234.95V3.45H194.41zM24.35 3.40H32.50V7.49H24.35zM56.75 3.40H64.89V7.49H56.75zM81.04 3.40H97.29V7.49H81.04zM194.41 3.40H234.95V7.49H194.41zM24.35 7.44H32.50V11.54H24.35zM56.75 7.44H64.89V11.54H56.75zM81.04 7.44H97.29V11.54H81.04zM194.41 7.44H234.95V11.54H194.41zM0.00 11.49H32.50V15.58H0.00zM40.55 11.49H56.80V15.58H40.55zM72.94 11.49H97.29V15.58H72.94zM210.61 11.49H234.95V15.58H210.61zM0.00 15.53H32.50V19.63H0.00zM40.55 15.53H56.80V19.63H40.55zM72.94 15.53H81.09V19.63H72.94zM89.14 15.53H93.24V19.63H89.14zM210.61 15.53H234.95V19.63H210.61zM16.26 19.58H32.50V23.67H16.26zM56.75 19.58H85.14V23.67H56.75zM194.41 19.58H202.56V23.67H194.41zM218.71 19.58H234.95V23.67H218.71zM16.26 23.62H32.50V27.71H16.26zM56.75 23.62H93.24V27.71H56.75zM194.41 23.62H202.56V27.71H194.41zM218.71 23.62H234.95V27.71H218.71zM56.75 27.66H85.14V31.76H56.75zM218.71 27.66H226.85V31.76H218.71zM56.75 31.71H81.09V35.80H56.75zM218.71 31.71H226.85V35.80H218.71zM8.16 35.75H16.31V39.85H8.16zM234.90 35.75H251.15V39.85H234.90zM8.16 39.80H16.31V43.89H8.16zM234.90 39.80H251.15V43.89H234.90zM16.26 43.84H32.50V47.93H16.26zM40.55 43.84H48.70V47.93H40.55zM16.26 47.88H32.50V51.98H16.26zM40.55 47.88H48.70V51.98H40.55zM0.00 51.93H16.31V56.02H0.00zM24.35 51.93H32.50V56.02H24.35zM40.55 51.93H48.70V56.02H40.55zM0.00 55.97H16.31V60.07H0.00zM24.35 55.97H32.50V60.07H24.35zM40.55 55.97H48.70V60.07H40.55zM16.26 60.02H56.80V64.11H16.26zM251.10 60.02H260.05V64.11H251.10zM16.26 64.06H56.80V68.15H16.26zM251.10 64.06H260.05V68.15H251.10zM16.26 68.10H40.60V72.20H16.26zM16.26 72.15H40.60V76.24H16.26zM32.45 76.19H48.70V80.29H32.45zM97.24 76.19H105.38V80.29H97.24zM113.43 76.19H121.58V80.29H113.43zM226.80 76.19H234.95V80.29H226.80zM243.00 76.19H251.15V80.29H243.00zM32.45 80.24H48.70V84.33H32.45zM97.24 80.24H105.38V84.33H97.24zM113.43 80.24H121.58V84.33H113.43zM226.80 80.24H234.95V84.33H226.80zM243.00 80.24H251.15V84.33H243.00zM32.45 84.28H48.70V88.37H32.45zM97.24 84.28H121.58V88.37H97.24zM32.45 88.32H48.70V92.42H32.45zM97.24 88.32H121.58V92.42H97.24zM105.33 108.54H113.48V112.64H105.33zM105.33 112.59H113.48V116.68H105.33zM186.31 197.51H194.46V201.61H186.31zM186.31 201.56H194.46V205.65H186.31zM162.02 205.60H170.17V209.69H162.02zM194.41 205.60H202.56V209.69H194.41zM162.02 209.64H170.17V213.74H162.02zM194.41 209.64H202.56V213.74H194.41zM186.31 213.69H194.46V217.78H186.31zM186.31 217.73H194.46V221.83H186.31zM210.61 221.78H218.76V225.87H210.61zM210.61 225.82H218.76V229.91H210.61z"/>
<path fill="#b4faaa" d="M32.45 0.00H56.80V3.45H32.45zM72.94 0.00H81.09V3.45H72.94zM97.24 0.00H105.38V3.45H97.24zM113.43 0.00H121.58V3.45H113.43zM129.63 0.00H137.78V3.45H129.63zM145.82 0.00H153.97V3.45H145.82zM186.31 0.00H194.46V3.45H186.31zM234.90 0.00H251.15V3.45H234.90zM32.45 3.40H56.80V7.49H32.45zM72.94 3.40H81.09V7.49H72.94zM97.24 3.40H105.38V7.49H97.24zM113.43 3.40H121.58V7.49H113.43zM129.63 3.40H137.78V7.49H129.63zM145.82 3.40H153.97V7.49H145.82zM186.31 3.40H194.46V7.49H186.31zM234.90 3.40H251.15V7.49H234.90zM32.45 7.44H56.80V11.54H32.45zM72.94 7.44H81.09V11.54H72.94zM97.24 7.44H105.38V11.54H97.24zM113.43 7.44H121.58V11.54H113.43zM129.63 7.44H137.78V11.54H129.63zM145.82 7.44H153.97V11.54H145.82zM186.31 7.44H194.46V11.54H186.31zM234.90 7.44H251.15V11.54H234.90zM32.45 11.49H40.60V15.58H32.45zM97.24 11.49H105.38V15.58H97.24zM194.41 11.49H202.56V15.58H194.41zM32.45 15.53H40.60V19.63H32.45zM93.19 15.53H101.34V19.63H93.19zM194.41 15.53H202.56V19.63H194.41zM0.00 19.58H16.31V23.67H0.00zM32.45 19.58H40.60V23.67H32.45zM93.19 19.58H97.29V23.67H93.19zM170.12 19.58H186.36V23.67H170.12zM202.51 19.58H218.76V23.67H202.51zM234.90 19.58H260.05V23.67H234.90zM0.00 23.62H16.31V27.71H0.00zM32.45 23.62H40.60V27.71H32.45zM93.19 23.62H97.29V27.71H93.19zM170.12 23.62H186.36V27.71H170.12zM202.51 23.62H218.76V27.71H202.51zM234.90 23.62H260.05V27.71H234.90zM0.00 27.66H56.80V31.76H0.00zM85.09 27.66H89.19V31.76H85.09zM170.12 27.66H186.36V31.76H170.12zM202.51 27.66H218.76V31.76H202.51zM226.80 27.66H260.05V31.76H226.80zM0.00 31.71H56.80V35.80H0.00zM81.04 31.71H85.14V35.80H81.04zM170.12 31.71H186.36V35.80H170.12zM202.51 31.71H218.76V35.80H202.51zM226.80 31.71H260.05V35.80H226.80zM0.00 35.75H8.21V39.85H0.00zM16.26 35.75H64.89V39.85H16.26zM76.99 35.75H81.09V39.85H76.99zM133.68 35.75H137.78V39.85H133.68zM202.51 35.75H234.95V39.85H202.51zM251.10 35.75H260.05V39.85H251.10zM0.00 39.80H8.21V43.89H0.00zM16.26 39.80H64.89V43.89H16.26zM133.68 39.80H137.78V43.89H133.68zM202.51 39.80H234.95V43.89H202.51zM251.10 39.80H260.05V43.89H251.10zM32.45 43.84H40.60V47.93H32.45zM133.68 43.84H260.05V47.93H133.68zM32.45 47.88H40.60V51.98H32.45zM129.63 47.88H260.05V51.98H129.63zM48.65 51.93H56.80V56.02H48.65zM129.63 51.93H210.66V56.02H129.63zM243.00 51.93H260.05V56.02H243.00zM48.65 55.97H56.80V60.07H48.65zM129.63 55.97H210.66V60.07H129.63zM243.00 55.97H260.05V60.07H243.00zM0.00 60.02H16.31V64.11H0.00zM56.75 60.02H64.89V64.11H56.75zM97.24 60.02H101.34V64.11H97.24zM129.63 60.02H226.85V64.11H129.63zM243.00 60.02H251.15V64.11H243.00zM0.00 64.06H16.31V68.15H0.00zM56.75 64.06H64.89V68.15H56.75zM89.14 64.06H97.29V68.15H89.14zM129.63 64.06H226.85V68.15H129.63zM243.00 64.06H251.15V68.15H243.00zM0.00 68.10H16.31V72.20H0.00zM48.65 68.10H56.80V72.20H48.65zM89.14 68.10H186.36V72.20H89.14zM234.90 68.10H243.05V72.20H234.90zM0.00 72.15H16.31V76.24H0.00zM48.65 72.15H56.80V76.24H48.65zM89.14 72.15H186.36V76.24H89.14zM234.90 72.15H243.05V76.24H234.90zM0.00 76.19H8.21V80.29H0.00zM16.26 76.19H32.50V80.29H16.26zM48.65 76.19H56.80V80.29H48.65zM64.84 76.19H72.99V80.29H64.84zM81.04 76.19H97.29V80.29H81.04zM121.53 76.19H194.46V80.29H121.53zM202.51 76.19H226.85V80.29H202.51zM234.90 76.19H243.05V80.29H234.90zM251.10 76.19H260.05V80.29H251.10zM0.00 80.24H8.21V84.33H0.00zM16.26 80.24H32.50V84.33H16.26zM48.65 80.24H56.80V84.33H48.65zM64.84 80.24H72.99V84.33H64.84zM81.04 80.24H97.29V84.33H81.04zM121.53 80.24H194.46V84.33H121.53zM202.51 80.24H226.85V84.33H202.51zM234.90 80.24H243.05V84.33H234.90zM251.10 80.24H260.05V84.33H251.10zM0.00 84.28H8.21V88.37H0.00zM16.26 84.28H32.50V88.37H16.26zM64.84 84.28H72.99V88.37H64.84zM81.04 84.28H97.29V88.37H81.04zM121.53 84.28H129.68V88.37H121.53zM137.73 84.28H260.05V88.37H137.73zM0.00 88.32H8.21V92.42H0.00zM16.26 88.32H32.50V92.42H16.26zM64.84 88.32H72.99V92.42H64.84zM81.04 88.32H97.29V92.42H81.04zM121.53 88.32H129.68V92.42H121.53zM137.73 88.32H260.05V92.42H137.73zM8.16 92.37H16.31V96.46H8.16zM24.35 92.37H56.80V96.46H24.35zM97.24 92.37H113.48V96.46H97.24zM121.53 92.37H129.68V96.46H121.53zM145.82 92.37H260.05V96.46H145.82zM8.16 96.41H16.31V100.51H8.16zM24.35 96.41H56.80V100.51H24.35zM97.24 96.41H113.48V100.51H97.24zM121.53 96.41H129.68V100.51H121.53zM145.82 96.41H260.05V100.51H145.82zM8.16 100.46H16.31V104.55H8.16zM48.65 100.46H56.80V104.55H48.65zM97.24 100.46H121.58V104.55H97.24zM153.92 100.46H260.05V104.55H153.92zM8.16 104.50H16.31V108.59H8.16zM48.65 104.50H56.80V108.59H48.65zM97.24 104.50H121.58V108.59H97.24zM153.92 104.50H260.05V108.59H153.92zM162.02 108.54H260.05V112.64H162.02zM162.02 112.59H260.05V116.68H162.02zM113.43 116.63H129.68V120.73H113.43zM162.02 116.63H260.05V120.73H162.02zM113.43 120.68H129.68V124.77H113.43zM162.02 120.68H260.05V124.77H162.02zM218.71 124.72H234.95V128.81H218.71zM218.71 128.76H234.95V132.86H218.71zM16.26 157.07H40.60V161.17H16.26zM16.26 161.12H40.60V165.21H16.26zM16.26 165.16H40.60V169.25H16.26zM218.71 165.16H234.95V169.25H218.71zM16.26 169.20H40.60V173.30H16.26zM218.71 169.20H234.95V173.30H218.71zM24.35 173.25H40.60V177.34H24.35zM24.35 177.29H40.60V181.39H24.35zM145.82 189.42H178.27V193.52H145.82zM145.82 193.47H178.27V197.56H145.82zM153.92 197.51H170.17V201.61H153.92zM194.41 197.51H234.95V201.61H194.41zM153.92 201.56H170.17V205.65H153.92zM194.41 201.56H234.95V205.65H194.41zM202.51 205.60H234.95V209.69H202.51zM202.51 209.64H234.95V213.74H202.51zM170.12 213.69H178.27V217.78H170.12zM194.41 213.69H202.56V217.78H194.41zM170.12 217.73H178.27V221.83H170.12zM194.41 217.73H202.56V221.83H194.41zM218.71 221.78H234.95V225.87H218.71zM218.71 225.82H234.95V229.91H218.71zM202.51 229.86H234.95V233.96H202.51zM202.51 233.91H234.95V238.00H202.51zM202.51 237.95H210.66V242.05H202.51zM218.71 237.95H234.95V242.05H218.71zM202.51 242.00H210.66V246.09H202.51zM218.71 242.00H234.95V246.09H218.71z"/>
<path fill="#78f573" d="M105.33 0.00H113.48V3.45H105.33zM121.53 0.00H129.68V3.45H121.53zM137.73 0.00H145.87V3.45H137.73zM251.10 0.00H260.05V3.45H251.10zM105.33 3.40H113.48V7.49H105.33zM121.53 3.40H129.68V7.49H121.53zM137.73 3.40H145.87V7.49H137.73zM251.10 3.40H260.05V7.49H251.10zM105.33 7.44H113.48V11.54H105.33zM121.53 7.44H129.68V11.54H121.53zM137.73 7.44H145.87V11.54H137.73zM251.10 7.44H260.05V11.54H251.10zM145.82 11.49H170.17V15.58H145.82zM186.31 11.49H194.46V15.58H186.31zM234.90 11.49H260.05V15.58H234.90zM101.29 15.53H109.43V19.63H101.29zM145.82 15.53H170.17V19.63H145.82zM186.31 15.53H194.46V19.63H186.31zM234.90 15.53H260.05V19.63H234.90zM145.82 19.58H162.07V23.67H145.82zM186.31 19.58H194.46V23.67H186.31zM145.82 23.62H162.07V27.71H145.82zM186.31 23.62H194.46V27.71H186.31zM89.14 27.66H93.24V31.76H89.14zM162.02 27.66H170.17V31.76H162.02zM85.09 31.71H89.19V35.80H85.09zM133.68 31.71H137.78V35.80H133.68zM162.02 31.71H170.17V35.80H162.02zM64.84 35.75H77.04V39.85H64.84zM81.04 35.75H85.14V39.85H81.04zM129.63 35.75H133.73V39.85H129.63zM137.73 35.75H186.36V39.85H137.73zM194.41 35.75H202.56V39.85H194.41zM64.84 39.80H81.09V43.89H64.84zM125.58 39.80H133.73V43.89H125.58zM137.73 39.80H186.36V43.89H137.73zM194.41 39.80H202.56V43.89H194.41zM48.65 43.84H56.80V47.93H48.65zM121.53 43.84H133.73V47.93H121.53zM48.65 47.88H56.80V51.98H48.65zM117.48 47.88H129.68V51.98H117.48zM56.75 51.93H64.89V56.02H56.75zM113.43 51.93H129.68V56.02H113.43zM210.61 51.93H243.05V56.02H210.61zM56.75 55.97H64.89V60.07H56.75zM97.24 55.97H129.68V60.07H97.24zM210.61 55.97H243.05V60.07H210.61zM93.19 60.02H97.29V64.11H93.19zM101.29 60.02H129.68V64.11H101.29zM226.80 60.02H243.05V64.11H226.80zM97.24 64.06H129.68V68.15H97.24zM226.80 64.06H243.05V68.15H226.80zM56.75 68.10H64.89V72.20H56.75zM81.04 68.10H89.19V72.20H81.04zM186.31 68.10H210.66V72.20H186.31zM218.71 68.10H234.95V72.20H218.71zM56.75 72.15H64.89V76.24H56.75zM81.04 72.15H89.19V76.24H81.04zM186.31 72.15H210.66V76.24H186.31zM218.71 72.15H234.95V76.24H218.71zM8.16 76.19H16.31V80.29H8.16zM56.75 76.19H64.89V80.29H56.75zM194.41 76.19H202.56V80.29H194.41zM8.16 80.24H16.31V84.33H8.16zM56.75 80.24H64.89V84.33H56.75zM194.41 80.24H202.56V84.33H194.41zM48.65 84.28H56.80V88.37H48.65zM129.63 84.28H137.78V88.37H129.63zM48.65 88.32H56.80V92.42H48.65zM129.63 88.32H137.78V92.42H129.63zM0.00 92.37H8.21V96.46H0.00zM16.26 92.37H24.40V96.46H16.26zM64.84 92.37H72.99V96.46H64.84zM89.14 92.37H97.29V96.46H89.14zM113.43 92.37H121.58V96.46H113.43zM129.63 92.37H145.87V96.46H129.63zM0.00 96.41H8.21V100.51H0.00zM16.26 96.41H24.40V100.51H16.26zM64.84 96.41H72.99V100.51H64.84zM89.14 96.41H97.29V100.51H89.14zM113.43 96.41H121.58V100.51H113.43zM129.63 96.41H145.87V100.51H129.63zM0.00 100.46H8.21V104.55H0.00zM32.45 100.46H40.60V104.55H32.45zM129.63 100.46H153.97V104.55H129.63zM0.00 104.50H8.21V108.59H0.00zM32.45 104.50H40.60V108.59H32.45zM129.63 104.50H153.97V108.59H129.63zM16.26 108.54H32.50V112.64H16.26zM81.04 108.54H105.38V112.64H81.04zM145.82 108.54H162.07V112.64H145.82zM16.26 112.59H32.50V116.68H16.26zM81.04 112.59H105.38V116.68H81.04zM145.82 112.59H162.07V116.68H145.82zM16.26 116.63H32.50V120.73H16.26zM89.14 116.63H113.48V120.73H89.14zM16.26 120.68H32.50V124.77H16.26zM89.14 120.68H113.48V124.77H89.14zM194.41 124.72H218.76V128.81H194.41zM234.90 124.72H260.05V128.81H234.90zM194.41 128.76H218.76V132.86H194.41zM234.90 128.76H260.05V132.86H234.90zM226.80 132.81H234.95V136.90H226.80zM243.00 132.81H260.05V136.90H243.00zM226.80 136.85H234.95V140.95H226.80zM243.00 136.85H260.05V140.95H243.00zM113.43 140.90H121.58V144.99H113.43zM226.80 140.90H234.95V144.99H226.80zM243.00 140.90H260.05V144.99H243.00zM113.43 144.94H121.58V149.03H113.43zM226.80 144.94H234.95V149.03H226.80zM243.00 144.94H260.05V149.03H243.00zM0.00 148.98H40.60V153.08H0.00zM113.43 148.98H121.58V153.08H113.43zM226.80 148.98H260.05V153.08H226.80zM0.00 153.03H40.60V157.12H0.00zM113.43 153.03H121.58V157.12H113.43zM226.80 153.03H260.05V157.12H226.80zM0.00 157.07H16.31V161.17H0.00zM226.80 157.07H260.05V161.17H226.80zM0.00 161.12H16.31V165.21H0.00zM226.80 161.12H260.05V165.21H226.80zM8.16 165.16H16.31V169.25H8.16zM40.55 165.16H56.80V169.25H40.55zM210.61 165.16H218.76V169.25H210.61zM234.90 165.16H260.05V169.25H234.90zM8.16 169.20H16.31V173.30H8.16zM40.55 169.20H56.80V173.30H40.55zM210.61 169.20H218.76V173.30H210.61zM234.90 169.20H260.05V173.30H234.90zM40.55 173.25H56.80V177.34H40.55zM72.94 173.25H81.09V177.34H72.94zM137.73 173.25H153.97V177.34H137.73zM226.80 173.25H234.95V177.34H226.80zM40.55 177.29H56.80V181.39H40.55zM72.94 177.29H81.09V181.39H72.94zM137.73 177.29H153.97V181.39H137.73zM226.80 177.29H234.95V181.39H226.80zM137.73 181.34H194.46V185.43H137.73zM234.90 181.34H260.05V185.43H234.90zM137.73 185.38H194.46V189.47H137.73zM234.90 185.38H260.05V189.47H234.90zM129.63 189.42H145.87V193.52H129.63zM178.22 189.42H194.46V193.52H178.22zM129.63 193.47H145.87V197.56H129.63zM178.22 193.47H194.46V197.56H178.22zM137.73 197.51H153.97V201.61H137.73zM234.90 197.51H243.05V201.61H234.90zM137.73 201.56H153.97V205.65H137.73zM234.90 201.56H243.05V205.65H234.90zM36.50 205.60H40.60V209.69H36.50zM153.92 205.60H162.07V209.69H153.92zM234.90 205.60H243.05V209.69H234.90zM153.92 209.64H162.07V213.74H153.92zM234.90 209.64H243.05V213.74H234.90zM162.02 213.69H170.17V217.78H162.02zM202.51 213.69H210.66V217.78H202.51zM234.90 213.69H251.15V217.78H234.90zM162.02 217.73H170.17V221.83H162.02zM202.51 217.73H210.66V221.83H202.51zM234.90 217.73H251.15V221.83H234.90zM202.51 221.78H210.66V225.87H202.51zM234.90 221.78H251.15V225.87H234.90zM202.51 225.82H210.66V229.91H202.51zM234.90 225.82H251.15V229.91H234.90zM145.82 229.86H162.07V233.96H145.82zM194.41 229.86H202.56V233.96H194.41zM234.90 229.86H243.05V233.96H234.90zM145.82 233.91H162.07V238.00H145.82zM194.41 233.91H202.56V238.00H194.41zM234.90 233.91H243.05V238.00H234.90zM105.33 237.95H109.43V242.05H105.33zM145.82 237.95H153.97V242.05H145.82zM194.41 237.95H202.56V242.05H194.41zM210.61 237.95H218.76V242.05H210.61zM105.33 242.00H109.43V246.09H105.33zM145.82 242.00H153.97V246.09H145.82zM194.41 242.00H202.56V246.09H194.41zM210.61 242.00H218.76V246.09H210.61zM105.33 246.04H109.43V250.13H105.33zM202.51 246.04H226.85V250.13H202.51zM243.00 246.04H251.15V250.13H243.00zM105.33 250.08H109.43V254.18H105.33zM202.51 250.08H226.85V254.18H202.51zM243.00 250.08H251.15V254.18H243.00zM243.00 254.13H251.15V258.22H243.00zM243.00 258.17H251.15V262.27H243.00zM194.41 262.22H202.56V266.31H194.41zM194.41 266.26H202.56V270.05H194.41z"/>
<path fill="#78b9fa" d="M153.92 0.00H162.07V3.45H153.92zM153.92 3.40H162.07V7.49H153.92zM153.92 7.44H162.07V11.54H153.92zM101.29 19.58H105.38V23.67H101.29zM117.48 19.58H121.58V23.67H117.48zM133.68 19.58H137.78V23.67H133.68zM105.33 23.62H109.43V27.71H105.33zM121.53 23.62H125.63V27.71H121.53zM133.68 23.62H137.78V27.71H133.68zM93.19 27.66H97.29V31.76H93.19zM109.38 27.66H113.48V31.76H109.38zM109.38 31.71H117.53V35.80H109.38zM85.09 35.75H89.19V39.85H85.09zM109.38 35.75H117.53V39.85H109.38zM109.38 39.80H117.53V43.89H109.38zM105.33 43.84H109.43V47.93H105.33zM97.24 47.88H105.38V51.98H97.24zM72.94 51.93H85.14V56.02H72.94zM72.94 55.97H85.14V60.07H72.94zM89.14 55.97H93.24V60.07H89.14zM64.84 60.02H72.99V64.11H64.84zM64.84 64.06H72.99V68.15H64.84zM81.04 64.06H89.19V68.15H81.04zM72.94 68.10H81.09V72.20H72.94zM72.94 72.15H81.09V76.24H72.94zM72.94 76.19H81.09V80.29H72.94zM72.94 80.24H81.09V84.33H72.94zM72.94 84.28H81.09V88.37H72.94zM72.94 88.32H81.09V92.42H72.94zM32.45 108.54H48.70V112.64H32.45zM64.84 108.54H81.09V112.64H64.84zM32.45 112.59H48.70V116.68H32.45zM64.84 112.59H81.09V116.68H64.84zM32.45 116.63H81.09V120.73H32.45zM32.45 120.68H81.09V124.77H32.45zM0.00 124.72H8.21V128.81H0.00zM16.26 124.72H48.70V128.81H16.26zM56.75 124.72H81.09V128.81H56.75zM137.73 124.72H153.97V128.81H137.73zM0.00 128.76H8.21V132.86H0.00zM16.26 128.76H48.70V132.86H16.26zM56.75 128.76H81.09V132.86H56.75zM137.73 128.76H153.97V132.86H137.73zM0.00 132.81H16.31V136.90H0.00zM48.65 132.81H56.80V136.90H48.65zM64.84 132.81H97.29V136.90H64.84zM137.73 132.81H153.97V136.90H137.73zM202.51 132.81H210.66V136.90H202.51zM0.00 136.85H16.31V140.95H0.00zM48.65 136.85H56.80V140.95H48.65zM64.84 136.85H97.29V140.95H64.84zM137.73 136.85H153.97V140.95H137.73zM202.51 136.85H210.66V140.95H202.51zM0.00 140.90H24.40V144.99H0.00zM64.84 140.90H72.99V144.99H64.84zM97.24 140.90H113.48V144.99H97.24zM137.73 140.90H162.07V144.99H137.73zM202.51 140.90H210.66V144.99H202.51zM0.00 144.94H24.40V149.03H0.00zM64.84 144.94H72.99V149.03H64.84zM101.29 144.94H113.48V149.03H101.29zM137.73 144.94H162.07V149.03H137.73zM202.51 144.94H210.66V149.03H202.51zM56.75 148.98H64.89V153.08H56.75zM105.33 148.98H113.48V153.08H105.33zM137.73 148.98H153.97V153.08H137.73zM162.02 148.98H178.27V153.08H162.02zM202.51 148.98H210.66V153.08H202.51zM56.75 153.03H64.89V157.12H56.75zM105.33 153.03H113.48V157.12H105.33zM137.73 153.03H153.97V157.12H137.73zM162.02 153.03H178.27V157.12H162.02zM202.51 153.03H210.66V157.12H202.51zM56.75 157.07H72.99V161.17H56.75zM97.24 157.07H101.34V161.17H97.24zM109.38 157.07H113.48V161.17H109.38zM129.63 157.07H137.78V161.17H129.63zM153.92 157.07H178.27V161.17H153.92zM194.41 157.07H210.66V161.17H194.41zM56.75 161.12H72.99V165.21H56.75zM97.24 161.12H105.38V165.21H97.24zM129.63 161.12H137.78V165.21H129.63zM153.92 161.12H178.27V165.21H153.92zM194.41 161.12H210.66V165.21H194.41zM72.94 165.16H81.09V169.25H72.94zM97.24 165.16H105.38V169.25H97.24zM178.22 165.16H186.36V169.25H178.22zM194.41 165.16H210.66V169.25H194.41zM72.94 169.20H81.09V173.30H72.94zM97.24 169.20H105.38V173.30H97.24zM178.22 169.20H186.36V173.30H178.22zM194.41 169.20H210.66V173.30H194.41zM81.04 173.25H89.19V177.34H81.04zM186.31 173.25H210.66V177.34H186.31zM81.04 177.29H89.19V181.39H81.04zM186.31 177.29H210.66V181.39H186.31zM0.00 181.34H24.40V185.43H0.00zM97.24 181.34H113.48V185.43H97.24zM210.61 181.34H234.95V185.43H210.61zM0.00 185.38H24.40V189.47H0.00zM97.24 185.38H113.48V189.47H97.24zM210.61 185.38H234.95V189.47H210.61zM8.16 189.42H24.40V193.52H8.16zM48.65 189.42H56.80V193.52H48.65zM81.04 189.42H113.48V193.52H81.04zM234.90 189.42H251.15V193.52H234.90zM8.16 193.47H24.40V197.56H8.16zM48.65 193.47H56.80V197.56H48.65zM81.04 193.47H113.48V197.56H81.04zM234.90 193.47H251.15V197.56H234.90zM0.00 197.51H8.21V201.61H0.00zM81.04 197.51H105.38V201.61H81.04zM243.00 197.51H260.05V201.61H243.00zM8.16 201.56H12.26V205.65H8.16zM20.30 201.56H24.40V205.65H20.30zM81.04 201.56H105.38V205.65H81.04zM243.00 201.56H260.05V205.65H243.00zM4.11 205.60H12.26V209.69H4.11zM24.35 205.60H28.45V209.69H24.35zM52.70 205.60H64.89V209.69H52.70zM72.94 205.60H81.09V209.69H72.94zM97.24 205.60H113.48V209.69H97.24zM145.82 205.60H153.97V209.69H145.82zM4.11 209.64H8.21V213.74H4.11zM20.30 209.64H28.45V213.74H20.30zM32.45 209.64H36.55V213.74H32.45zM52.70 209.64H64.89V213.74H52.70zM72.94 209.64H81.09V213.74H72.94zM97.24 209.64H113.48V213.74H97.24zM145.82 209.64H153.97V213.74H145.82zM4.11 213.69H12.26V217.78H4.11zM20.30 213.69H24.40V217.78H20.30zM32.45 213.69H56.80V217.78H32.45zM64.84 213.69H72.99V217.78H64.84zM97.24 213.69H105.38V217.78H97.24zM113.43 213.69H137.78V217.78H113.43zM153.92 213.69H162.07V217.78H153.92zM0.00 217.73H16.31V221.83H0.00zM40.55 217.73H56.80V221.83H40.55zM64.84 217.73H72.99V221.83H64.84zM97.24 217.73H105.38V221.83H97.24zM113.43 217.73H137.78V221.83H113.43zM153.92 217.73H162.07V221.83H153.92zM0.00 221.78H8.21V225.87H0.00zM48.65 221.78H52.75V225.87H48.65zM85.09 221.78H89.19V225.87H85.09zM105.33 221.78H109.43V225.87H105.33zM129.63 221.78H137.78V225.87H129.63zM153.92 221.78H170.17V225.87H153.92zM178.22 221.78H194.46V225.87H178.22zM0.00 225.82H4.16V229.91H0.00zM48.65 225.82H52.75V229.91H48.65zM85.09 225.82H89.19V229.91H85.09zM93.19 225.82H97.29V229.91H93.19zM109.38 225.82H113.48V229.91H109.38zM129.63 225.82H137.78V229.91H129.63zM153.92 225.82H170.17V229.91H153.92zM178.22 225.82H194.46V229.91H178.22zM40.55 229.86H52.75V233.96H40.55zM101.29 229.86H105.38V233.96H101.29zM36.50 233.91H52.75V238.00H36.50zM101.29 233.91H105.38V238.00H101.29zM36.50 237.95H48.70V242.05H36.50zM101.29 237.95H105.38V242.05H101.29zM113.43 237.95H137.78V242.05H113.43zM178.22 237.95H186.36V242.05H178.22zM20.30 242.00H24.40V246.09H20.30zM101.29 242.00H105.38V246.09H101.29zM113.43 242.00H137.78V246.09H113.43zM178.22 242.00H186.36V246.09H178.22zM101.29 246.04H105.38V250.13H101.29zM121.53 246.04H145.87V250.13H121.53zM178.22 246.04H186.36V250.13H178.22zM101.29 250.08H105.38V254.18H101.29zM109.38 250.08H113.48V254.18H109.38zM121.53 250.08H145.87V254.18H121.53zM178.22 250.08H186.36V254.18H178.22zM101.29 254.13H105.38V258.22H101.29zM109.38 254.13H113.48V258.22H109.38zM121.53 254.13H153.97V258.22H121.53zM178.22 254.13H186.36V258.22H178.22zM226.80 254.13H243.05V258.22H226.80zM105.33 258.17H113.48V262.27H105.33zM121.53 258.17H153.97V262.27H121.53zM178.22 258.17H186.36V262.27H178.22zM226.80 258.17H243.05V262.27H226.80zM0.00 262.22H4.16V266.31H0.00zM36.50 262.22H56.80V266.31H36.50zM64.84 262.22H68.94V266.31H64.84zM137.73 262.22H178.27V266.31H137.73zM210.61 262.22H218.76V266.31H210.61zM234.90 262.22H243.05V266.31H234.90zM0.00 266.26H52.75V270.05H0.00zM68.89 266.26H85.14V270.05H68.89zM137.73 266.26H178.27V270.05H137.73zM210.61 266.26H218.76V270.05H210.61zM234.90 266.26H243.05V270.05H234.90z"/>
<path fill="#b4f0fa" d="M162.02 0.00H186.36V3.45H162.02zM162.02 3.40H186.36V7.49H162.02zM162.02 7.44H186.36V11.54H162.02zM105.33 11.49H145.87V15.58H105.33zM170.12 11.49H186.36V15.58H170.12zM109.38 15.53H145.87V19.63H109.38zM170.12 15.53H186.36V19.63H170.12zM97.24 19.58H101.34V23.67H97.24zM105.33 19.58H117.53V23.67H105.33zM121.53 19.58H133.73V23.67H121.53zM137.73 19.58H145.87V23.67H137.73zM162.02 19.58H170.17V23.67H162.02zM109.38 23.62H121.58V27.71H109.38zM125.58 23.62H133.73V27.71H125.58zM137.73 23.62H145.87V27.71H137.73zM162.02 23.62H170.17V27.71H162.02zM113.43 27.66H162.07V31.76H113.43zM186.31 27.66H202.56V31.76H186.31zM117.48 31.71H133.73V35.80H117.48zM137.73 31.71H162.07V35.80H137.73zM186.31 31.71H202.56V35.80H186.31zM117.48 35.75H129.68V39.85H117.48zM186.31 35.75H194.46V39.85H186.31zM81.04 39.80H85.14V43.89H81.04zM117.48 39.80H125.63V43.89H117.48zM186.31 39.80H194.46V43.89H186.31zM56.75 43.84H85.14V47.93H56.75zM109.38 43.84H121.58V47.93H109.38zM56.75 47.88H85.14V51.98H56.75zM105.33 47.88H117.53V51.98H105.33zM64.84 51.93H72.99V56.02H64.84zM93.19 51.93H113.48V56.02H93.19zM64.84 55.97H72.99V60.07H64.84zM93.19 55.97H97.29V60.07H93.19zM85.09 60.02H93.24V64.11H85.09zM64.84 68.10H72.99V72.20H64.84zM210.61 68.10H218.76V72.20H210.61zM64.84 72.15H72.99V76.24H64.84zM210.61 72.15H218.76V76.24H210.61zM8.16 84.28H16.31V88.37H8.16zM56.75 84.28H64.89V88.37H56.75zM8.16 88.32H16.31V92.42H8.16zM56.75 88.32H64.89V92.42H56.75zM56.75 92.37H64.89V96.46H56.75zM72.94 92.37H89.19V96.46H72.94zM56.75 96.41H64.89V100.51H56.75zM72.94 96.41H89.19V100.51H72.94zM16.26 100.46H32.50V104.55H16.26zM40.55 100.46H48.70V104.55H40.55zM56.75 100.46H97.29V104.55H56.75zM16.26 104.50H32.50V108.59H16.26zM40.55 104.50H48.70V108.59H40.55zM56.75 104.50H97.29V108.59H56.75zM0.00 108.54H16.31V112.64H0.00zM48.65 108.54H64.89V112.64H48.65zM129.63 108.54H145.87V112.64H129.63zM0.00 112.59H16.31V116.68H0.00zM48.65 112.59H64.89V116.68H48.65zM129.63 112.59H145.87V116.68H129.63zM0.00 116.63H16.31V120.73H0.00zM81.04 116.63H89.19V120.73H81.04zM129.63 116.63H162.07V120.73H129.63zM0.00 120.68H16.31V124.77H0.00zM81.04 120.68H89.19V124.77H81.04zM129.63 120.68H162.07V124.77H129.63zM8.16 124.72H16.31V128.81H8.16zM48.65 124.72H56.80V128.81H48.65zM81.04 124.72H137.78V128.81H81.04zM153.92 124.72H194.46V128.81H153.92zM8.16 128.76H16.31V132.86H8.16zM48.65 128.76H56.80V132.86H48.65zM81.04 128.76H137.78V132.86H81.04zM153.92 128.76H194.46V132.86H153.92zM16.26 132.81H48.70V136.90H16.26zM56.75 132.81H64.89V136.90H56.75zM97.24 132.81H137.78V136.90H97.24zM153.92 132.81H194.46V136.90H153.92zM210.61 132.81H226.85V136.90H210.61zM234.90 132.81H243.05V136.90H234.90zM16.26 136.85H48.70V140.95H16.26zM56.75 136.85H64.89V140.95H56.75zM97.24 136.85H137.78V140.95H97.24zM153.92 136.85H194.46V140.95H153.92zM210.61 136.85H226.85V140.95H210.61zM234.90 136.85H243.05V140.95H234.90zM24.35 140.90H64.89V144.99H24.35zM121.53 140.90H137.78V144.99H121.53zM162.02 140.90H194.46V144.99H162.02zM210.61 140.90H226.85V144.99H210.61zM234.90 140.90H243.05V144.99H234.90zM24.35 144.94H64.89V149.03H24.35zM121.53 144.94H137.78V149.03H121.53zM162.02 144.94H194.46V149.03H162.02zM210.61 144.94H226.85V149.03H210.61zM234.90 144.94H243.05V149.03H234.90zM40.55 148.98H56.80V153.08H40.55zM121.53 148.98H137.78V153.08H121.53zM178.22 148.98H194.46V153.08H178.22zM210.61 148.98H226.85V153.08H210.61zM40.55 153.03H56.80V157.12H40.55zM121.53 153.03H137.78V157.12H121.53zM178.22 153.03H194.46V157.12H178.22zM210.61 153.03H226.85V157.12H210.61zM40.55 157.07H56.80V161.17H40.55zM113.43 157.07H129.68V161.17H113.43zM137.73 157.07H153.97V161.17H137.73zM178.22 157.07H194.46V161.17H178.22zM210.61 157.07H226.85V161.17H210.61zM40.55 161.12H56.80V165.21H40.55zM113.43 161.12H129.68V165.21H113.43zM137.73 161.12H153.97V165.21H137.73zM178.22 161.12H194.46V165.21H178.22zM210.61 161.12H226.85V165.21H210.61zM0.00 165.16H8.21V169.25H0.00zM56.75 165.16H72.99V169.25H56.75zM105.33 165.16H178.27V169.25H105.33zM186.31 165.16H194.46V169.25H186.31zM0.00 169.20H8.21V173.30H0.00zM56.75 169.20H72.99V173.30H56.75zM105.33 169.20H178.27V173.30H105.33zM186.31 169.20H194.46V173.30H186.31zM0.00 173.25H24.40V177.34H0.00zM56.75 173.25H72.99V177.34H56.75zM105.33 173.25H137.78V177.34H105.33zM153.92 173.25H186.36V177.34H153.92zM210.61 173.25H226.85V177.34H210.61zM234.90 173.25H260.05V177.34H234.90zM0.00 177.29H24.40V181.39H0.00zM56.75 177.29H72.99V181.39H56.75zM105.33 177.29H137.78V181.39H105.33zM153.92 177.29H186.36V181.39H153.92zM210.61 177.29H226.85V181.39H210.61zM234.90 177.29H260.05V181.39H234.90zM24.35 181.34H97.29V185.43H24.35zM113.43 181.34H137.78V185.43H113.43zM194.41 181.34H210.66V185.43H194.41zM24.35 185.38H97.29V189.47H24.35zM113.43 185.38H137.78V189.47H113.43zM194.41 185.38H210.66V189.47H194.41zM24.35 189.42H48.70V193.52H24.35zM56.75 189.42H81.09V193.52H56.75zM113.43 189.42H129.68V193.52H113.43zM194.41 189.42H234.95V193.52H194.41zM251.10 189.42H260.05V193.52H251.10zM24.35 193.47H48.70V197.56H24.35zM56.75 193.47H81.09V197.56H56.75zM113.43 193.47H129.68V197.56H113.43zM194.41 193.47H234.95V197.56H194.41zM251.10 193.47H260.05V197.56H251.10zM8.16 197.51H81.09V201.61H8.16zM113.43 197.51H137.78V201.61H113.43zM12.21 201.56H20.36V205.65H12.21zM24.35 201.56H81.09V205.65H24.35zM113.43 201.56H137.78V205.65H113.43zM12.21 205.60H24.40V209.69H12.21zM28.40 205.60H36.55V209.69H28.40zM40.55 205.60H52.75V209.69H40.55zM81.04 205.60H97.29V209.69H81.04zM113.43 205.60H145.87V209.69H113.43zM243.00 205.60H260.05V209.69H243.00zM8.16 209.64H20.36V213.74H8.16zM36.50 209.64H52.75V213.74H36.50zM81.04 209.64H97.29V213.74H81.04zM113.43 209.64H145.87V213.74H113.43zM243.00 209.64H260.05V213.74H243.00zM12.21 213.69H20.36V217.78H12.21zM72.94 213.69H97.29V217.78H72.94zM105.33 213.69H113.48V217.78H105.33zM137.73 213.69H153.97V217.78H137.73zM210.61 213.69H234.95V217.78H210.61zM251.10 213.69H260.05V217.78H251.10zM72.94 217.73H97.29V221.83H72.94zM105.33 217.73H113.48V221.83H105.33zM137.73 217.73H153.97V221.83H137.73zM210.61 217.73H234.95V221.83H210.61zM251.10 217.73H260.05V221.83H251.10zM89.14 221.78H105.38V225.87H89.14zM109.38 221.78H121.58V225.87H109.38zM137.73 221.78H153.97V225.87H137.73zM170.12 221.78H178.27V225.87H170.12zM194.41 221.78H202.56V225.87H194.41zM251.10 221.78H260.05V225.87H251.10zM89.14 225.82H93.24V229.91H89.14zM97.24 225.82H109.43V229.91H97.24zM113.43 225.82H121.58V229.91H113.43zM137.73 225.82H153.97V229.91H137.73zM170.12 225.82H178.27V229.91H170.12zM194.41 225.82H202.56V229.91H194.41zM251.10 225.82H260.05V229.91H251.10zM105.33 229.86H113.48V233.96H105.33zM137.73 229.86H145.87V233.96H137.73zM162.02 229.86H194.46V233.96H162.02zM243.00 229.86H260.05V233.96H243.00zM105.33 233.91H113.48V238.00H105.33zM137.73 233.91H145.87V238.00H137.73zM162.02 233.91H194.46V238.00H162.02zM243.00 233.91H260.05V238.00H243.00zM109.38 237.95H113.48V242.05H109.38zM137.73 237.95H145.87V242.05H137.73zM153.92 237.95H178.27V242.05H153.92zM186.31 237.95H194.46V242.05H186.31zM234.90 237.95H260.05V242.05H234.90zM109.38 242.00H113.48V246.09H109.38zM137.73 242.00H145.87V246.09H137.73zM153.92 242.00H178.27V246.09H153.92zM186.31 242.00H194.46V246.09H186.31zM234.90 242.00H260.05V246.09H234.90zM109.38 246.04H113.48V250.13H109.38zM145.82 246.04H178.27V250.13H145.82zM186.31 246.04H202.56V250.13H186.31zM226.80 246.04H243.05V250.13H226.80zM251.10 246.04H260.05V250.13H251.10zM145.82 250.08H178.27V254.18H145.82zM186.31 250.08H202.56V254.18H186.31zM226.80 250.08H243.05V254.18H226.80zM251.10 250.08H260.05V254.18H251.10zM105.33 254.13H109.43V258.22H105.33zM153.92 254.13H178.27V258.22H153.92zM186.31 254.13H226.85V258.22H186.31zM251.10 254.13H260.05V258.22H251.10zM153.92 258.17H178.27V262.27H153.92zM186.31 258.17H226.85V262.27H186.31zM251.10 258.17H260.05V262.27H251.10zM178.22 262.22H194.46V266.31H178.22zM202.51 262.22H210.66V266.31H202.51zM218.71 262.22H234.95V266.31H218.71zM243.00 262.22H260.05V266.31H243.00zM52.70 266.26H68.94V270.05H52.70zM178.22 266.26H194.46V270.05H178.22zM202.51 266.26H210.66V270.05H202.51zM218.71 266.26H234.95V270.05H218.71zM243.00 266.26H260.05V270.05H243.00z"/>
<path fill="#3c96f5" d="M97.24 23.62H101.34V27.71H97.24zM89.14 31.71H93.24V35.80H89.14zM105.33 31.71H109.43V35.80H105.33zM105.33 35.75H109.43V39.85H105.33zM105.33 39.80H109.43V43.89H105.33zM101.29 43.84H105.38V47.93H101.29zM85.09 47.88H97.29V51.98H85.09zM85.09 51.93H93.24V56.02H85.09zM85.09 55.97H89.19V60.07H85.09zM72.94 60.02H85.14V64.11H72.94zM72.94 64.06H81.09V68.15H72.94zM194.41 132.81H202.56V136.90H194.41zM194.41 136.85H202.56V140.95H194.41zM72.94 140.90H81.09V144.99H72.94zM93.19 140.90H97.29V144.99H93.19zM194.41 140.90H202.56V144.99H194.41zM72.94 144.94H89.19V149.03H72.94zM194.41 144.94H202.56V149.03H194.41zM64.84 148.98H93.24V153.08H64.84zM101.29 148.98H105.38V153.08H101.29zM153.92 148.98H162.07V153.08H153.92zM194.41 148.98H202.56V153.08H194.41zM64.84 153.03H89.19V157.12H64.84zM101.29 153.03H105.38V157.12H101.29zM153.92 153.03H162.07V157.12H153.92zM194.41 153.03H202.56V157.12H194.41zM72.94 157.07H85.14V161.17H72.94zM89.14 157.07H97.29V161.17H89.14zM72.94 161.12H93.24V165.21H72.94zM81.04 165.16H97.29V169.25H81.04zM81.04 169.20H97.29V173.30H81.04zM89.14 173.25H105.38V177.34H89.14zM89.14 177.29H105.38V181.39H89.14zM0.00 189.42H8.21V193.52H0.00zM0.00 193.47H8.21V197.56H0.00zM105.33 197.51H113.48V201.61H105.33zM0.00 201.56H8.21V205.65H0.00zM105.33 201.56H113.48V205.65H105.33zM0.00 205.60H4.16V209.69H0.00zM64.84 205.60H72.99V209.69H64.84zM0.00 209.64H4.16V213.74H0.00zM28.40 209.64H32.50V213.74H28.40zM64.84 209.64H72.99V213.74H64.84zM0.00 213.69H4.16V217.78H0.00zM24.35 213.69H28.45V217.78H24.35zM56.75 213.69H64.89V217.78H56.75zM16.26 217.73H24.40V221.83H16.26zM36.50 217.73H40.60V221.83H36.50zM56.75 217.73H64.89V221.83H56.75zM8.16 221.78H20.36V225.87H8.16zM40.55 221.78H48.70V225.87H40.55zM52.70 221.78H56.80V225.87H52.70zM81.04 221.78H85.14V225.87H81.04zM121.53 221.78H129.68V225.87H121.53zM4.11 225.82H12.26V229.91H4.11zM44.60 225.82H48.70V229.91H44.60zM52.70 225.82H56.80V229.91H52.70zM121.53 225.82H129.68V229.91H121.53zM36.50 229.86H40.60V233.96H36.50zM52.70 229.86H56.80V233.96H52.70zM89.14 229.86H93.24V233.96H89.14zM97.24 229.86H101.34V233.96H97.24zM113.43 229.86H121.58V233.96H113.43zM129.63 229.86H137.78V233.96H129.63zM32.45 233.91H36.55V238.00H32.45zM52.70 233.91H56.80V238.00H52.70zM113.43 233.91H121.58V238.00H113.43zM129.63 233.91H137.78V238.00H129.63zM24.35 237.95H36.55V242.05H24.35zM48.65 237.95H52.75V242.05H48.65zM24.35 242.00H28.45V246.09H24.35zM32.45 242.00H44.65V246.09H32.45zM97.24 242.00H101.34V246.09H97.24zM97.24 246.04H101.34V250.13H97.24zM113.43 246.04H121.58V250.13H113.43zM113.43 250.08H121.58V254.18H113.43zM60.80 254.13H64.89V258.22H60.80zM113.43 254.13H121.58V258.22H113.43zM32.45 258.17H64.89V262.27H32.45zM113.43 258.17H121.58V262.27H113.43zM4.11 262.22H36.55V266.31H4.11zM56.75 262.22H64.89V266.31H56.75zM68.89 262.22H81.09V266.31H68.89zM105.33 262.22H113.48V266.31H105.33zM85.09 266.26H89.19V270.05H85.09zM105.33 266.26H113.48V270.05H105.33z"/>
<path fill="#1e6eeb" d="M101.29 23.62H105.38V27.71H101.29zM101.29 27.66H109.43V31.76H101.29zM97.24 31.71H105.38V35.80H97.24zM97.24 35.75H105.38V39.85H97.24zM101.29 39.80H105.38V43.89H101.29zM85.09 43.84H89.19V47.93H85.09zM93.19 43.84H101.34V47.93H93.19zM89.14 140.90H93.24V144.99H89.14zM28.40 213.69H32.50V217.78H28.40zM32.45 217.73H36.55V221.83H32.45zM20.30 221.78H24.40V225.87H20.30zM28.40 221.78H36.55V225.87H28.40zM56.75 221.78H60.85V225.87H56.75zM72.94 221.78H77.04V225.87H72.94zM12.21 225.82H16.31V229.91H12.21zM24.35 225.82H44.65V229.91H24.35zM56.75 225.82H60.85V229.91H56.75zM81.04 225.82H85.14V229.91H81.04zM0.00 229.86H4.16V233.96H0.00zM32.45 229.86H36.55V233.96H32.45zM56.75 229.86H60.85V233.96H56.75zM85.09 229.86H89.19V233.96H85.09zM93.19 229.86H97.29V233.96H93.19zM121.53 229.86H129.68V233.96H121.53zM28.40 233.91H32.50V238.00H28.40zM121.53 233.91H129.68V238.00H121.53zM16.26 242.00H20.36V246.09H16.26zM44.60 242.00H48.70V246.09H44.60zM32.45 246.04H40.60V250.13H32.45zM32.45 254.13H52.75V258.22H32.45zM56.75 254.13H60.85V258.22H56.75zM64.84 254.13H77.04V258.22H64.84zM0.00 258.17H4.16V262.27H0.00zM20.30 258.17H32.50V262.27H20.30zM64.84 258.17H81.09V262.27H64.84zM101.29 258.17H105.38V262.27H101.29zM81.04 262.22H85.14V266.31H81.04zM89.14 266.26H97.29V270.05H89.14zM101.29 266.26H105.38V270.05H101.29z"/>
<path fill="#ffe878" d="M97.24 27.66H101.34V31.76H97.24zM89.14 35.75H97.29V39.85H89.14zM85.09 39.80H89.19V43.89H85.09zM93.19 39.80H101.34V43.89H93.19zM89.14 43.84H93.24V47.93H89.14zM97.24 144.94H101.34V149.03H97.24zM89.14 153.03H101.34V157.12H89.14zM85.09 157.07H89.19V161.17H85.09zM101.29 157.07H109.43V161.17H101.29zM93.19 161.12H97.29V165.21H93.19zM105.33 161.12H109.43V165.21H105.33zM24.35 217.73H32.50V221.83H24.35zM24.35 221.78H28.45V225.87H24.35zM36.50 221.78H40.60V225.87H36.50zM60.80 221.78H64.89V225.87H60.80zM16.26 225.82H24.40V229.91H16.26zM60.80 225.82H64.89V229.91H60.80zM4.11 229.86H16.31V233.96H4.11zM60.80 229.86H64.89V233.96H60.80zM81.04 229.86H85.14V233.96H81.04zM56.75 233.91H60.85V238.00H56.75zM97.24 233.91H101.34V238.00H97.24zM16.26 237.95H24.40V242.05H16.26zM97.24 237.95H101.34V242.05H97.24zM28.40 242.00H32.50V246.09H28.40zM20.30 246.04H32.50V250.13H20.30zM40.55 246.04H48.70V250.13H40.55zM24.35 250.08H44.65V254.18H24.35zM56.75 250.08H64.89V254.18H56.75zM97.24 250.08H101.34V254.18H97.24zM24.35 254.13H32.50V258.22H24.35zM52.70 254.13H56.80V258.22H52.70zM76.99 254.13H81.09V258.22H76.99zM4.11 258.17H20.36V262.27H4.11zM81.04 258.17H85.14V262.27H81.04zM85.09 262.22H105.38V266.31H85.09zM97.24 266.26H101.34V270.05H97.24z"/>
<path fill="#ffa000" d="M93.19 31.71H97.29V35.80H93.19zM89.14 39.80H93.24V43.89H89.14zM81.04 140.90H85.14V144.99H81.04zM89.14 144.94H93.24V149.03H89.14zM109.38 161.12H113.48V165.21H109.38zM64.84 221.78H68.94V225.87H64.84zM76.99 221.78H81.09V225.87H76.99zM28.40 229.86H32.50V233.96H28.40zM76.99 229.86H81.09V233.96H76.99zM12.21 233.91H16.31V238.00H12.21zM89.14 233.91H97.29V238.00H89.14zM0.00 237.95H16.31V242.05H0.00zM52.70 237.95H56.80V242.05H52.70zM12.21 242.00H16.31V246.09H12.21zM48.65 242.00H52.75V246.09H48.65zM93.19 242.00H97.29V246.09H93.19zM48.65 246.04H52.75V250.13H48.65zM93.19 246.04H97.29V250.13H93.19zM20.30 250.08H24.40V254.18H20.30zM44.60 250.08H56.80V254.18H44.60zM64.84 250.08H81.09V254.18H64.84zM20.30 254.13H24.40V258.22H20.30zM81.04 254.13H89.19V258.22H81.04zM85.09 258.17H89.19V262.27H85.09zM97.24 258.17H101.34V262.27H97.24zM113.43 262.22H121.58V266.31H113.43zM113.43 266.26H121.58V270.05H113.43z"/>
<path fill="#ff3200" d="M85.09 140.90H89.19V144.99H85.09zM93.19 148.98H101.34V153.08H93.19zM68.89 221.78H72.99V225.87H68.89zM64.84 225.82H72.99V229.91H64.84zM16.26 229.86H20.36V233.96H16.26zM64.84 229.86H68.94V233.96H64.84zM0.00 233.91H12.26V238.00H0.00zM16.26 233.91H20.36V238.00H16.26zM24.35 233.91H28.45V238.00H24.35zM60.80 233.91H64.89V238.00H60.80zM0.00 242.00H4.16V246.09H0.00zM8.16 242.00H12.26V246.09H8.16zM89.14 242.00H93.24V246.09H89.14zM52.70 246.04H56.80V250.13H52.70zM68.89 246.04H93.24V250.13H68.89zM81.04 250.08H93.24V254.18H81.04zM0.00 254.13H4.16V258.22H0.00zM97.24 254.13H101.34V258.22H97.24zM89.14 258.17H97.29V262.27H89.14zM129.63 262.22H137.78V266.31H129.63zM129.63 266.26H137.78V270.05H129.63z"/>
<path fill="#a51e1e" d="M93.19 144.94H97.29V149.03H93.19zM72.94 225.82H81.09V229.91H72.94zM20.30 229.86H28.45V233.96H20.30zM68.89 229.86H77.04V233.96H68.89zM20.30 233.91H24.40V238.00H20.30zM64.84 233.91H89.19V238.00H64.84zM56.75 237.95H97.29V242.05H56.75zM4.11 242.00H8.21V246.09H4.11zM52.70 242.00H89.19V246.09H52.70zM0.00 246.04H20.36V250.13H0.00zM56.75 246.04H68.94V250.13H56.75zM0.00 250.08H20.36V254.18H0.00zM93.19 250.08H97.29V254.18H93.19zM4.11 254.13H20.36V258.22H4.11zM89.14 254.13H97.29V258.22H89.14zM121.53 262.22H129.68V266.31H121.53zM121.53 266.26H129.68V270.05H121.53z"/>
<use href="#bd"/></g>
<rect x="0.6" y="0.68" width="258.9" height="268.95" fill="none" stroke="#000" stroke-width="1.25" shape-rendering="geometricPrecision"/></g>
<g transform="translate(572,320)"><g clip-path="url(#cp)">
<path fill="#f0dcb4" d="M0.00 0.00H40.60V3.55H0.00zM81.04 0.00H89.19V3.55H81.04zM170.12 0.00H194.46V3.55H170.12zM218.71 0.00H234.95V3.55H218.71zM0.00 3.50H40.60V7.59H0.00zM81.04 3.50H89.19V7.59H81.04zM170.12 3.50H194.46V7.59H170.12zM218.71 3.50H234.95V7.59H218.71zM0.00 7.54H40.60V11.64H0.00zM81.04 7.54H89.19V11.64H81.04zM170.12 7.54H194.46V11.64H170.12zM218.71 7.54H234.95V11.64H218.71zM0.00 11.59H40.60V15.68H0.00zM64.84 11.59H89.19V15.68H64.84zM162.02 11.59H194.46V15.68H162.02zM226.80 11.59H234.95V15.68H226.80zM0.00 15.63H40.60V19.73H0.00zM64.84 15.63H89.19V19.73H64.84zM162.02 15.63H194.46V19.73H162.02zM226.80 15.63H234.95V19.73H226.80zM8.16 19.68H32.50V23.77H8.16zM153.92 19.68H194.46V23.77H153.92zM8.16 23.72H32.50V27.81H8.16zM153.92 23.72H194.46V27.81H153.92zM8.16 27.76H32.50V31.86H8.16zM153.92 27.76H218.76V31.86H153.92zM8.16 31.81H32.50V35.90H8.16zM153.92 31.81H218.76V35.90H153.92zM8.16 35.85H32.50V39.95H8.16zM162.02 35.85H178.27V39.95H162.02zM194.41 35.85H210.66V39.95H194.41zM226.80 35.85H243.05V39.95H226.80zM8.16 39.90H32.50V43.99H8.16zM162.02 39.90H178.27V43.99H162.02zM194.41 39.90H210.66V43.99H194.41zM226.80 39.90H243.05V43.99H226.80zM0.00 43.94H32.50V48.03H0.00zM48.65 43.94H56.80V48.03H48.65zM186.31 43.94H260.05V48.03H186.31zM0.00 47.98H32.50V52.08H0.00zM48.65 47.98H56.80V52.08H48.65zM186.31 47.98H260.05V52.08H186.31zM24.35 52.03H32.50V56.12H24.35zM48.65 52.03H56.80V56.12H48.65zM178.22 52.03H226.85V56.12H178.22zM234.90 52.03H260.05V56.12H234.90zM24.35 56.07H32.50V60.17H24.35zM48.65 56.07H56.80V60.17H48.65zM178.22 56.07H226.85V60.17H178.22zM234.90 56.07H260.05V60.17H234.90zM24.35 60.12H32.50V64.21H24.35zM162.02 60.12H226.85V64.21H162.02zM243.00 60.12H251.15V64.21H243.00zM24.35 64.16H32.50V68.25H24.35zM162.02 64.16H226.85V68.25H162.02zM243.00 64.16H251.15V68.25H243.00zM24.35 68.20H32.50V72.30H24.35zM48.65 68.20H56.80V72.30H48.65zM226.80 68.20H243.05V72.30H226.80zM24.35 72.25H32.50V76.34H24.35zM48.65 72.25H56.80V76.34H48.65zM226.80 72.25H243.05V76.34H226.80zM16.26 76.29H32.50V80.39H16.26zM48.65 76.29H56.80V80.39H48.65zM186.31 76.29H210.66V80.39H186.31zM218.71 76.29H234.95V80.39H218.71zM16.26 80.34H32.50V84.43H16.26zM48.65 80.34H56.80V84.43H48.65zM186.31 80.34H210.66V84.43H186.31zM218.71 80.34H234.95V84.43H218.71zM48.65 84.38H56.80V88.47H48.65zM186.31 84.38H194.46V88.47H186.31zM210.61 84.38H226.85V88.47H210.61zM48.65 88.42H56.80V92.52H48.65zM186.31 88.42H194.46V92.52H186.31zM210.61 88.42H226.85V92.52H210.61zM186.31 92.47H251.15V96.56H186.31zM186.31 96.51H251.15V100.61H186.31zM178.22 100.56H234.95V104.65H178.22zM186.31 104.60H234.95V108.69H186.31zM93.19 108.64H97.29V112.74H93.19zM194.41 108.64H243.05V112.74H194.41zM194.41 112.69H243.05V116.78H194.41zM210.61 116.73H218.76V120.83H210.61zM210.61 120.78H218.76V124.87H210.61zM226.80 124.82H260.05V128.91H226.80zM226.80 128.86H260.05V132.96H226.80zM234.90 132.91H260.05V137.00H234.90zM234.90 136.95H260.05V141.05H234.90zM243.00 141.00H260.05V145.09H243.00zM243.00 145.04H260.05V149.13H243.00zM251.10 149.08H260.05V153.18H251.10zM251.10 153.13H260.05V157.22H251.10z"/>
<path fill="#b4faaa" d="M64.84 0.00H81.09V3.55H64.84zM89.14 0.00H97.29V3.55H89.14zM137.73 0.00H170.17V3.55H137.73zM194.41 0.00H202.56V3.55H194.41zM234.90 0.00H260.05V3.55H234.90zM64.84 3.50H81.09V7.59H64.84zM89.14 3.50H97.29V7.59H89.14zM137.73 3.50H170.17V7.59H137.73zM194.41 3.50H202.56V7.59H194.41zM234.90 3.50H260.05V7.59H234.90zM64.84 7.54H81.09V11.64H64.84zM89.14 7.54H97.29V11.64H89.14zM137.73 7.54H170.17V11.64H137.73zM194.41 7.54H202.56V11.64H194.41zM234.90 7.54H260.05V11.64H234.90zM89.14 11.59H97.29V15.68H89.14zM129.63 11.59H137.78V15.68H129.63zM145.82 11.59H162.07V15.68H145.82zM194.41 11.59H226.85V15.68H194.41zM89.14 15.63H97.29V19.73H89.14zM129.63 15.63H137.78V19.73H129.63zM145.82 15.63H162.07V19.73H145.82zM194.41 15.63H226.85V19.73H194.41zM32.45 19.68H40.60V23.77H32.45zM81.04 19.68H97.29V23.77H81.04zM129.63 19.68H153.97V23.77H129.63zM194.41 19.68H234.95V23.77H194.41zM32.45 23.72H40.60V27.81H32.45zM81.04 23.72H97.29V27.81H81.04zM129.63 23.72H153.97V27.81H129.63zM194.41 23.72H234.95V27.81H194.41zM81.04 27.76H89.19V31.86H81.04zM129.63 27.76H153.97V31.86H129.63zM218.71 27.76H260.05V31.86H218.71zM81.04 31.81H89.19V35.90H81.04zM129.63 31.81H153.97V35.90H129.63zM218.71 31.81H260.05V35.90H218.71zM56.75 35.85H64.89V39.95H56.75zM97.24 35.85H113.48V39.95H97.24zM137.73 35.85H162.07V39.95H137.73zM243.00 35.85H260.05V39.95H243.00zM56.75 39.90H64.89V43.99H56.75zM97.24 39.90H113.48V43.99H97.24zM137.73 39.90H162.07V43.99H137.73zM243.00 39.90H260.05V43.99H243.00zM97.24 43.94H113.48V48.03H97.24zM129.63 43.94H186.36V48.03H129.63zM97.24 47.98H113.48V52.08H97.24zM129.63 47.98H186.36V52.08H129.63zM0.00 52.03H24.40V56.12H0.00zM113.43 52.03H178.27V56.12H113.43zM226.80 52.03H234.95V56.12H226.80zM0.00 56.07H24.40V60.17H0.00zM113.43 56.07H178.27V60.17H113.43zM226.80 56.07H234.95V60.17H226.80zM0.00 60.12H24.40V64.21H0.00zM137.73 60.12H162.07V64.21H137.73zM226.80 60.12H243.05V64.21H226.80zM0.00 64.16H24.40V68.25H0.00zM137.73 64.16H162.07V68.25H137.73zM226.80 64.16H243.05V68.25H226.80zM0.00 68.20H24.40V72.30H0.00zM129.63 68.20H218.76V72.30H129.63zM0.00 72.25H24.40V76.34H0.00zM129.63 72.25H218.76V76.34H129.63zM0.00 76.29H8.21V80.39H0.00zM81.04 76.29H97.29V80.39H81.04zM178.22 76.29H186.36V80.39H178.22zM0.00 80.34H8.21V84.43H0.00zM81.04 80.34H97.29V84.43H81.04zM178.22 80.34H186.36V84.43H178.22zM56.75 84.38H72.99V88.47H56.75zM81.04 84.38H89.19V88.47H81.04zM113.43 84.38H121.58V88.47H113.43zM170.12 84.38H186.36V88.47H170.12zM56.75 88.42H72.99V92.52H56.75zM81.04 88.42H89.19V92.52H81.04zM113.43 88.42H121.58V92.52H113.43zM170.12 88.42H186.36V92.52H170.12zM60.80 92.47H68.94V96.56H60.80zM170.12 92.47H186.36V96.56H170.12zM60.80 96.51H68.94V100.61H60.80zM81.04 96.51H93.24V100.61H81.04zM170.12 96.51H186.36V100.61H170.12zM60.80 100.56H68.94V104.65H60.80zM81.04 100.56H113.48V104.65H81.04zM162.02 100.56H178.27V104.65H162.02zM85.09 104.60H113.48V108.69H85.09zM170.12 104.60H186.36V108.69H170.12zM85.09 108.64H93.24V112.74H85.09zM97.24 108.64H101.34V112.74H97.24zM105.33 108.64H109.43V112.74H105.33zM121.53 108.64H129.68V112.74H121.53zM178.22 108.64H194.46V112.74H178.22zM85.09 112.69H93.24V116.78H85.09zM121.53 112.69H129.68V116.78H121.53zM186.31 112.69H194.46V116.78H186.31zM194.41 116.73H210.66V120.83H194.41zM194.41 120.78H210.66V124.87H194.41zM218.71 124.82H226.85V128.91H218.71zM218.71 128.86H226.85V132.96H218.71zM226.80 132.91H234.95V137.00H226.80zM226.80 136.95H234.95V141.05H226.80zM234.90 141.00H243.05V145.09H234.90zM234.90 145.04H243.05V149.13H234.90zM243.00 149.08H251.15V153.18H243.00zM12.21 153.13H20.36V157.22H12.21zM243.00 153.13H251.15V157.22H243.00zM251.10 197.61H260.05V201.71H251.10zM162.02 201.66H170.17V205.75H162.02zM251.10 201.66H260.05V205.75H251.10zM166.07 205.70H174.22V209.79H166.07zM182.27 213.79H194.46V217.88H182.27zM182.27 217.83H194.46V221.93H182.27z"/>
<path fill="#78f573" d="M97.24 0.00H105.38V3.55H97.24zM129.63 0.00H137.78V3.55H129.63zM202.51 0.00H210.66V3.55H202.51zM97.24 3.50H105.38V7.59H97.24zM129.63 3.50H137.78V7.59H129.63zM202.51 3.50H210.66V7.59H202.51zM97.24 7.54H105.38V11.64H97.24zM129.63 7.54H137.78V11.64H129.63zM202.51 7.54H210.66V11.64H202.51zM137.73 11.59H145.87V15.68H137.73zM137.73 15.63H145.87V19.73H137.73zM97.24 19.68H129.68V23.77H97.24zM97.24 23.72H129.68V27.81H97.24zM105.33 27.76H129.68V31.86H105.33zM105.33 31.81H129.68V35.90H105.33zM64.84 35.85H81.09V39.95H64.84zM89.14 35.85H97.29V39.95H89.14zM113.43 35.85H137.78V39.95H113.43zM64.84 39.90H81.09V43.99H64.84zM89.14 39.90H97.29V43.99H89.14zM113.43 39.90H137.78V43.99H113.43zM56.75 43.94H72.99V48.03H56.75zM89.14 43.94H97.29V48.03H89.14zM113.43 43.94H129.68V48.03H113.43zM56.75 47.98H72.99V52.08H56.75zM89.14 47.98H97.29V52.08H89.14zM113.43 47.98H129.68V52.08H113.43zM97.24 52.03H113.48V56.12H97.24zM97.24 56.07H113.48V60.17H97.24zM89.14 60.12H97.29V64.21H89.14zM113.43 60.12H129.68V64.21H113.43zM89.14 64.16H97.29V68.25H89.14zM113.43 64.16H129.68V68.25H113.43zM56.75 68.20H64.89V72.30H56.75zM81.04 68.20H129.68V72.30H81.04zM56.75 72.25H64.89V76.34H56.75zM81.04 72.25H129.68V76.34H81.04zM97.24 76.29H178.27V80.39H97.24zM97.24 80.34H178.27V84.43H97.24zM89.14 84.38H113.48V88.47H89.14zM121.53 84.38H170.17V88.47H121.53zM89.14 88.42H113.48V92.52H89.14zM121.53 88.42H170.17V92.52H121.53zM56.75 92.47H60.85V96.56H56.75zM81.04 92.47H93.24V96.56H81.04zM97.24 92.47H105.38V96.56H97.24zM145.82 92.47H170.17V96.56H145.82zM93.19 96.51H105.38V100.61H93.19zM145.82 96.51H170.17V100.61H145.82zM153.92 100.56H162.07V104.65H153.92zM81.04 104.60H85.14V108.69H81.04zM125.58 104.60H129.68V108.69H125.58zM166.07 104.60H170.17V108.69H166.07zM81.04 108.64H85.14V112.74H81.04zM101.29 108.64H105.38V112.74H101.29zM109.38 108.64H121.58V112.74H109.38zM170.12 108.64H178.27V112.74H170.12zM81.04 112.69H85.14V116.78H81.04zM93.19 112.69H97.29V116.78H93.19zM109.38 112.69H121.58V116.78H109.38zM178.22 112.69H186.36V116.78H178.22zM0.00 116.73H4.16V120.83H0.00zM109.38 116.73H121.58V120.83H109.38zM186.31 116.73H194.46V120.83H186.31zM0.00 120.78H8.21V124.87H0.00zM190.36 120.78H194.46V124.87H190.36zM0.00 124.82H12.26V128.91H0.00zM202.51 124.82H218.76V128.91H202.51zM0.00 128.86H16.31V132.96H0.00zM202.51 128.86H218.76V132.96H202.51zM12.21 132.91H32.50V137.00H12.21zM218.71 132.91H226.85V137.00H218.71zM218.71 136.95H226.85V141.05H218.71zM12.21 141.00H20.36V145.09H12.21zM8.16 145.04H24.40V149.13H8.16zM12.21 149.08H24.40V153.18H12.21zM109.38 149.08H113.48V153.18H109.38zM8.16 153.13H12.26V157.22H8.16zM20.30 153.13H24.40V157.22H20.30zM32.45 153.13H36.55V157.22H32.45zM109.38 153.13H117.53V157.22H109.38zM4.11 157.17H16.31V161.27H4.11zM28.40 157.17H32.50V161.27H28.40zM109.38 157.17H125.63V161.27H109.38zM243.00 157.17H260.05V161.27H243.00zM8.16 161.22H16.31V165.31H8.16zM117.48 161.22H125.63V165.31H117.48zM243.00 161.22H260.05V165.31H243.00zM76.99 169.30H85.14V173.40H76.99zM32.45 189.52H40.60V193.62H32.45zM32.45 193.57H40.60V197.66H32.45zM153.92 193.57H158.02V197.66H153.92zM32.45 197.61H48.70V201.71H32.45zM153.92 197.61H170.17V201.71H153.92zM243.00 197.61H251.15V201.71H243.00zM32.45 201.66H48.70V205.75H32.45zM157.97 201.66H162.07V205.75H157.97zM170.12 201.66H174.22V205.75H170.12zM243.00 201.66H251.15V205.75H243.00zM32.45 205.70H48.70V209.79H32.45zM174.17 205.70H178.27V209.79H174.17zM251.10 205.70H260.05V209.79H251.10zM32.45 209.74H48.70V213.84H32.45zM174.17 209.74H182.32V213.84H174.17zM251.10 209.74H260.05V213.84H251.10zM178.22 213.79H182.32V217.88H178.22zM194.41 213.79H202.56V217.88H194.41zM194.41 217.83H202.56V221.93H194.41zM40.55 221.88H64.89V225.97H40.55zM243.00 221.88H251.15V225.97H243.00zM40.55 225.92H64.89V230.01H40.55zM243.00 225.92H251.15V230.01H243.00zM218.71 238.05H226.85V242.15H218.71zM218.71 242.10H226.85V246.19H218.71zM97.24 250.18H101.34V254.28H97.24z"/>
<path fill="#b4f0fa" d="M105.33 0.00H129.68V3.55H105.33zM105.33 3.50H129.68V7.59H105.33zM105.33 7.54H129.68V11.64H105.33zM97.24 11.59H129.68V15.68H97.24zM97.24 15.63H129.68V19.73H97.24zM89.14 27.76H105.38V31.86H89.14zM89.14 31.81H105.38V35.90H89.14zM81.04 35.85H89.19V39.95H81.04zM81.04 39.90H89.19V43.99H81.04zM72.94 43.94H89.19V48.03H72.94zM72.94 47.98H89.19V52.08H72.94zM56.75 52.03H97.29V56.12H56.75zM56.75 56.07H97.29V60.17H56.75zM56.75 60.12H89.19V64.21H56.75zM97.24 60.12H113.48V64.21H97.24zM129.63 60.12H137.78V64.21H129.63zM56.75 64.16H89.19V68.25H56.75zM97.24 64.16H113.48V68.25H97.24zM129.63 64.16H137.78V68.25H129.63zM72.94 68.20H81.09V72.30H72.94zM72.94 72.25H81.09V76.34H72.94zM8.16 76.29H16.31V80.39H8.16zM56.75 76.29H64.89V80.39H56.75zM8.16 80.34H16.31V84.43H8.16zM56.75 80.34H64.89V84.43H56.75zM0.00 84.38H16.31V88.47H0.00zM24.35 84.38H48.70V88.47H24.35zM72.94 84.38H81.09V88.47H72.94zM0.00 88.42H16.31V92.52H0.00zM24.35 88.42H48.70V92.52H24.35zM72.94 88.42H81.09V92.52H72.94zM0.00 92.47H16.31V96.56H0.00zM32.45 92.47H56.80V96.56H32.45zM76.99 92.47H81.09V96.56H76.99zM93.19 92.47H97.29V96.56H93.19zM105.33 92.47H117.53V96.56H105.33zM125.58 92.47H145.87V96.56H125.58zM0.00 96.51H4.16V100.61H0.00zM8.16 96.51H20.36V100.61H8.16zM44.60 96.51H60.85V100.61H44.60zM76.99 96.51H81.09V100.61H76.99zM105.33 96.51H121.58V100.61H105.33zM125.58 96.51H145.87V100.61H125.58zM4.11 100.56H16.31V104.65H4.11zM40.55 100.56H52.75V104.65H40.55zM56.75 100.56H60.85V104.65H56.75zM76.99 100.56H81.09V104.65H76.99zM113.43 100.56H129.68V104.65H113.43zM145.82 100.56H153.97V104.65H145.82zM4.11 104.60H20.36V108.69H4.11zM44.60 104.60H52.75V108.69H44.60zM56.75 104.60H64.89V108.69H56.75zM76.99 104.60H81.09V108.69H76.99zM113.43 104.60H125.63V108.69H113.43zM153.92 104.60H166.12V108.69H153.92zM12.21 108.64H24.40V112.74H12.21zM72.94 108.64H81.09V112.74H72.94zM129.63 108.64H133.73V112.74H129.63zM162.02 108.64H170.17V112.74H162.02zM0.00 112.69H4.16V116.78H0.00zM20.30 112.69H32.50V116.78H20.30zM68.89 112.69H81.09V116.78H68.89zM97.24 112.69H109.43V116.78H97.24zM170.12 112.69H178.27V116.78H170.12zM4.11 116.73H12.26V120.83H4.11zM20.30 116.73H32.50V120.83H20.30zM64.84 116.73H109.43V120.83H64.84zM121.53 116.73H129.68V120.83H121.53zM178.22 116.73H186.36V120.83H178.22zM8.16 120.78H16.31V124.87H8.16zM72.94 120.78H89.19V124.87H72.94zM97.24 120.78H129.68V124.87H97.24zM186.31 120.78H190.41V124.87H186.31zM12.21 124.82H16.31V128.91H12.21zM20.30 124.82H24.40V128.91H20.30zM36.50 124.82H48.70V128.91H36.50zM76.99 124.82H89.19V128.91H76.99zM97.24 124.82H105.38V128.91H97.24zM113.43 124.82H129.68V128.91H113.43zM194.41 124.82H202.56V128.91H194.41zM16.26 128.86H44.65V132.96H16.26zM85.09 128.86H89.19V132.96H85.09zM93.19 128.86H113.48V132.96H93.19zM194.41 128.86H202.56V132.96H194.41zM0.00 132.91H12.26V137.00H0.00zM32.45 132.91H48.70V137.00H32.45zM89.14 132.91H105.38V137.00H89.14zM190.36 132.91H194.46V137.00H190.36zM202.51 132.91H218.76V137.00H202.51zM0.00 136.95H8.21V141.05H0.00zM12.21 136.95H44.65V141.05H12.21zM109.38 136.95H125.63V141.05H109.38zM190.36 136.95H194.46V141.05H190.36zM202.51 136.95H218.76V141.05H202.51zM0.00 141.00H12.26V145.09H0.00zM20.30 141.00H28.45V145.09H20.30zM32.45 141.00H44.65V145.09H32.45zM48.65 141.00H52.75V145.09H48.65zM76.99 141.00H81.09V145.09H76.99zM105.33 141.00H121.58V145.09H105.33zM133.68 141.00H141.83V145.09H133.68zM186.31 141.00H194.46V145.09H186.31zM210.61 141.00H234.95V145.09H210.61zM0.00 145.04H8.21V149.13H0.00zM24.35 145.04H28.45V149.13H24.35zM44.60 145.04H60.85V149.13H44.60zM101.29 145.04H129.68V149.13H101.29zM133.68 145.04H145.87V149.13H133.68zM186.31 145.04H194.46V149.13H186.31zM210.61 145.04H234.95V149.13H210.61zM0.00 149.08H12.26V153.18H0.00zM24.35 149.08H36.55V153.18H24.35zM40.55 149.08H52.75V153.18H40.55zM101.29 149.08H109.43V153.18H101.29zM113.43 149.08H129.68V153.18H113.43zM137.73 149.08H145.87V153.18H137.73zM186.31 149.08H210.66V153.18H186.31zM226.80 149.08H243.05V153.18H226.80zM0.00 153.13H8.21V157.22H0.00zM24.35 153.13H32.50V157.22H24.35zM36.50 153.13H52.75V157.22H36.50zM97.24 153.13H109.43V157.22H97.24zM117.48 153.13H129.68V157.22H117.48zM190.36 153.13H210.66V157.22H190.36zM226.80 153.13H243.05V157.22H226.80zM0.00 157.17H4.16V161.27H0.00zM16.26 157.17H28.45V161.27H16.26zM32.45 157.17H56.80V161.27H32.45zM93.19 157.17H109.43V161.27H93.19zM125.58 157.17H129.68V161.27H125.58zM133.68 157.17H145.87V161.27H133.68zM202.51 157.17H210.66V161.27H202.51zM234.90 157.17H243.05V161.27H234.90zM0.00 161.22H8.21V165.31H0.00zM16.26 161.22H44.65V165.31H16.26zM48.65 161.22H60.85V165.31H48.65zM105.33 161.22H117.53V165.31H105.33zM125.58 161.22H129.68V165.31H125.58zM133.68 161.22H145.87V165.31H133.68zM202.51 161.22H210.66V165.31H202.51zM234.90 161.22H243.05V165.31H234.90zM0.00 165.26H32.50V169.35H0.00zM81.04 165.26H85.14V169.35H81.04zM113.43 165.26H145.87V169.35H113.43zM243.00 165.26H260.05V169.35H243.00zM4.11 169.30H24.40V173.40H4.11zM72.94 169.30H77.04V173.40H72.94zM85.09 169.30H93.24V173.40H85.09zM129.63 169.30H149.92V173.40H129.63zM243.00 169.30H260.05V173.40H243.00zM0.00 173.35H20.36V177.44H0.00zM85.09 173.35H93.24V177.44H85.09zM243.00 173.35H260.05V177.44H243.00zM0.00 177.39H20.36V181.49H0.00zM117.48 177.39H121.58V181.49H117.48zM243.00 177.39H260.05V181.49H243.00zM0.00 181.44H16.31V185.53H0.00zM141.78 181.44H149.92V185.53H141.78zM157.97 181.44H170.17V185.53H157.97zM0.00 185.48H16.31V189.57H0.00zM117.48 185.48H121.58V189.57H117.48zM133.68 185.48H149.92V189.57H133.68zM157.97 185.48H170.17V189.57H157.97zM182.27 185.48H194.46V189.57H182.27zM0.00 189.52H32.50V193.62H0.00zM40.55 189.52H48.70V193.62H40.55zM137.73 189.52H149.92V193.62H137.73zM153.92 189.52H174.22V193.62H153.92zM186.31 189.52H194.46V193.62H186.31zM202.51 189.52H260.05V193.62H202.51zM0.00 193.57H32.50V197.66H0.00zM40.55 193.57H48.70V197.66H40.55zM145.82 193.57H153.97V197.66H145.82zM157.97 193.57H174.22V197.66H157.97zM186.31 193.57H194.46V197.66H186.31zM202.51 193.57H260.05V197.66H202.51zM8.16 197.61H32.50V201.71H8.16zM48.65 197.61H72.99V201.71H48.65zM149.87 197.61H153.97V201.71H149.87zM170.12 197.61H174.22V201.71H170.12zM186.31 197.61H243.05V201.71H186.31zM8.16 201.66H32.50V205.75H8.16zM48.65 201.66H72.99V205.75H48.65zM153.92 201.66H158.02V205.75H153.92zM174.17 201.66H186.36V205.75H174.17zM190.36 201.66H243.05V205.75H190.36zM16.26 205.70H32.50V209.79H16.26zM48.65 205.70H56.80V209.79H48.65zM64.84 205.70H72.99V209.79H64.84zM162.02 205.70H166.12V209.79H162.02zM178.22 205.70H251.15V209.79H178.22zM16.26 209.74H32.50V213.84H16.26zM48.65 209.74H56.80V213.84H48.65zM68.89 209.74H81.09V213.84H68.89zM162.02 209.74H174.22V213.84H162.02zM182.27 209.74H251.15V213.84H182.27zM16.26 213.79H81.09V217.88H16.26zM145.82 213.79H158.02V217.88H145.82zM202.51 213.79H260.05V217.88H202.51zM16.26 217.83H85.14V221.93H16.26zM149.87 217.83H158.02V221.93H149.87zM202.51 217.83H260.05V221.93H202.51zM8.16 221.88H40.60V225.97H8.16zM72.94 221.88H93.24V225.97H72.94zM117.48 221.88H121.58V225.97H117.48zM186.31 221.88H243.05V225.97H186.31zM251.10 221.88H260.05V225.97H251.10zM8.16 225.92H40.60V230.01H8.16zM64.84 225.92H68.94V230.01H64.84zM76.99 225.92H105.38V230.01H76.99zM194.41 225.92H243.05V230.01H194.41zM251.10 225.92H260.05V230.01H251.10zM8.16 229.96H68.94V234.06H8.16zM76.99 229.96H85.14V234.06H76.99zM89.14 229.96H93.24V234.06H89.14zM194.41 229.96H251.15V234.06H194.41zM8.16 234.01H64.89V238.10H8.16zM194.41 234.01H251.15V238.10H194.41zM194.41 238.05H218.76V242.15H194.41zM226.80 238.05H260.05V242.15H226.80zM64.84 242.10H68.94V246.19H64.84zM117.48 242.10H125.63V246.19H117.48zM194.41 242.10H218.76V246.19H194.41zM226.80 242.10H260.05V246.19H226.80zM81.04 246.14H85.14V250.23H81.04zM97.24 246.14H105.38V250.23H97.24zM117.48 246.14H125.63V250.23H117.48zM202.51 246.14H226.85V250.23H202.51zM243.00 246.14H260.05V250.23H243.00zM89.14 250.18H97.29V254.28H89.14zM101.29 250.18H105.38V254.28H101.29zM202.51 250.18H226.85V254.28H202.51zM243.00 250.18H260.05V254.28H243.00zM85.09 254.23H105.38V258.32H85.09zM113.43 254.23H117.53V258.32H113.43zM218.71 254.23H260.05V258.32H218.71zM97.24 258.27H101.34V262.37H97.24zM218.71 258.27H260.05V262.37H218.71zM0.00 262.32H16.31V266.41H0.00zM218.71 262.32H260.05V266.41H218.71zM0.00 266.36H16.31V270.05H0.00zM64.84 266.36H68.94V270.05H64.84zM218.71 266.36H260.05V270.05H218.71z"/>
<path fill="#78b9fa" d="M210.61 0.00H218.76V3.55H210.61zM210.61 3.50H218.76V7.59H210.61zM210.61 7.54H218.76V11.64H210.61zM234.90 19.68H243.05V23.77H234.90zM234.90 23.72H243.05V27.81H234.90zM16.26 84.38H24.40V88.47H16.26zM16.26 88.42H24.40V92.52H16.26zM16.26 92.47H24.40V96.56H16.26zM72.94 92.47H77.04V96.56H72.94zM117.48 92.47H125.63V96.56H117.48zM4.11 96.51H8.21V100.61H4.11zM36.50 96.51H44.65V100.61H36.50zM121.53 96.51H125.63V100.61H121.53zM0.00 100.56H4.16V104.65H0.00zM16.26 100.56H24.40V104.65H16.26zM36.50 100.56H40.60V104.65H36.50zM52.70 100.56H56.80V104.65H52.70zM72.94 100.56H77.04V104.65H72.94zM129.63 100.56H145.87V104.65H129.63zM0.00 104.60H4.16V108.69H0.00zM20.30 104.60H24.40V108.69H20.30zM36.50 104.60H44.65V108.69H36.50zM52.70 104.60H56.80V108.69H52.70zM129.63 104.60H133.73V108.69H129.63zM141.78 104.60H153.97V108.69H141.78zM0.00 108.64H12.26V112.74H0.00zM32.45 108.64H64.89V112.74H32.45zM149.87 108.64H162.07V112.74H149.87zM4.11 112.69H12.26V116.78H4.11zM32.45 112.69H36.55V116.78H32.45zM52.70 112.69H68.94V116.78H52.70zM129.63 112.69H133.73V116.78H129.63zM162.02 112.69H170.17V116.78H162.02zM32.45 116.73H36.55V120.83H32.45zM44.60 116.73H64.89V120.83H44.60zM170.12 116.73H178.27V120.83H170.12zM20.30 120.78H28.45V124.87H20.30zM40.55 120.78H48.70V124.87H40.55zM68.89 120.78H72.99V124.87H68.89zM89.14 120.78H97.29V124.87H89.14zM182.27 120.78H186.36V124.87H182.27zM48.65 124.82H52.75V128.91H48.65zM68.89 124.82H77.04V128.91H68.89zM89.14 124.82H97.29V128.91H89.14zM105.33 124.82H113.48V128.91H105.33zM129.63 124.82H141.83V128.91H129.63zM182.27 124.82H194.46V128.91H182.27zM44.60 128.86H56.80V132.96H44.60zM60.80 128.86H64.89V132.96H60.80zM76.99 128.86H85.14V132.96H76.99zM89.14 128.86H93.24V132.96H89.14zM113.43 128.86H125.63V132.96H113.43zM129.63 128.86H137.78V132.96H129.63zM182.27 128.86H194.46V132.96H182.27zM48.65 132.91H52.75V137.00H48.65zM76.99 132.91H89.19V137.00H76.99zM105.33 132.91H113.48V137.00H105.33zM121.53 132.91H137.78V137.00H121.53zM178.22 132.91H190.41V137.00H178.22zM194.41 132.91H202.56V137.00H194.41zM8.16 136.95H12.26V141.05H8.16zM52.70 136.95H109.43V141.05H52.70zM133.68 136.95H141.83V141.05H133.68zM186.31 136.95H190.41V141.05H186.31zM194.41 136.95H202.56V141.05H194.41zM28.40 141.00H32.50V145.09H28.40zM44.60 141.00H48.70V145.09H44.60zM52.70 141.00H77.04V145.09H52.70zM81.04 141.00H93.24V145.09H81.04zM101.29 141.00H105.38V145.09H101.29zM121.53 141.00H129.68V145.09H121.53zM141.78 141.00H145.87V145.09H141.78zM194.41 141.00H210.66V145.09H194.41zM28.40 145.04H36.55V149.13H28.40zM40.55 145.04H44.65V149.13H40.55zM60.80 145.04H85.14V149.13H60.80zM129.63 145.04H133.73V149.13H129.63zM145.82 145.04H149.92V149.13H145.82zM194.41 145.04H210.66V149.13H194.41zM36.50 149.08H40.60V153.18H36.50zM52.70 149.08H68.94V153.18H52.70zM72.94 149.08H93.24V153.18H72.94zM129.63 149.08H137.78V153.18H129.63zM145.82 149.08H149.92V153.18H145.82zM52.70 153.13H64.89V157.22H52.70zM93.19 153.13H97.29V157.22H93.19zM129.63 153.13H145.87V157.22H129.63zM56.75 157.17H60.85V161.27H56.75zM89.14 157.17H93.24V161.27H89.14zM129.63 157.17H133.73V161.27H129.63zM145.82 157.17H149.92V161.27H145.82zM190.36 157.17H202.56V161.27H190.36zM210.61 157.17H234.95V161.27H210.61zM44.60 161.22H48.70V165.31H44.60zM60.80 161.22H72.99V165.31H60.80zM81.04 161.22H85.14V165.31H81.04zM93.19 161.22H105.38V165.31H93.19zM129.63 161.22H133.73V165.31H129.63zM145.82 161.22H149.92V165.31H145.82zM190.36 161.22H202.56V165.31H190.36zM210.61 161.22H234.95V165.31H210.61zM32.45 165.26H81.09V169.35H32.45zM85.09 165.26H89.19V169.35H85.09zM109.38 165.26H113.48V169.35H109.38zM145.82 165.26H153.97V169.35H145.82zM166.07 165.26H178.27V169.35H166.07zM226.80 165.26H243.05V169.35H226.80zM0.00 169.30H4.16V173.40H0.00zM24.35 169.30H28.45V173.40H24.35zM52.70 169.30H72.99V173.40H52.70zM93.19 169.30H101.34V173.40H93.19zM117.48 169.30H129.68V173.40H117.48zM166.07 169.30H174.22V173.40H166.07zM226.80 169.30H243.05V173.40H226.80zM20.30 173.35H28.45V177.44H20.30zM60.80 173.35H85.14V177.44H60.80zM93.19 173.35H101.34V177.44H93.19zM117.48 173.35H153.97V177.44H117.48zM174.17 173.35H178.27V177.44H174.17zM190.36 173.35H194.46V177.44H190.36zM210.61 173.35H218.76V177.44H210.61zM72.94 177.39H93.24V181.49H72.94zM121.53 177.39H149.92V181.49H121.53zM157.97 177.39H166.12V181.49H157.97zM174.17 177.39H194.46V181.49H174.17zM210.61 177.39H218.76V181.49H210.61zM16.26 181.44H24.40V185.53H16.26zM32.45 181.44H56.80V185.53H32.45zM117.48 181.44H125.63V185.53H117.48zM129.63 181.44H141.83V185.53H129.63zM170.12 181.44H182.32V185.53H170.12zM186.31 181.44H194.46V185.53H186.31zM210.61 181.44H243.05V185.53H210.61zM16.26 185.48H24.40V189.57H16.26zM32.45 185.48H56.80V189.57H32.45zM121.53 185.48H133.73V189.57H121.53zM149.87 185.48H158.02V189.57H149.87zM170.12 185.48H182.32V189.57H170.12zM210.61 185.48H243.05V189.57H210.61zM48.65 189.52H56.80V193.62H48.65zM133.68 189.52H137.78V193.62H133.68zM149.87 189.52H153.97V193.62H149.87zM174.17 189.52H186.36V193.62H174.17zM194.41 189.52H202.56V193.62H194.41zM48.65 193.57H56.80V197.66H48.65zM121.53 193.57H129.68V197.66H121.53zM141.78 193.57H145.87V197.66H141.78zM174.17 193.57H186.36V197.66H174.17zM194.41 193.57H202.56V197.66H194.41zM0.00 197.61H8.21V201.71H0.00zM72.94 197.61H81.09V201.71H72.94zM125.58 197.61H129.68V201.71H125.58zM174.17 197.61H186.36V201.71H174.17zM0.00 201.66H8.21V205.75H0.00zM72.94 201.66H81.09V205.75H72.94zM186.31 201.66H190.41V205.75H186.31zM8.16 205.70H16.31V209.79H8.16zM56.75 205.70H64.89V209.79H56.75zM72.94 205.70H81.09V209.79H72.94zM125.58 205.70H129.68V209.79H125.58zM157.97 205.70H162.07V209.79H157.97zM8.16 209.74H16.31V213.84H8.16zM56.75 209.74H68.94V213.84H56.75zM129.63 209.74H133.73V213.84H129.63zM145.82 209.74H158.02V213.84H145.82zM8.16 213.79H16.31V217.88H8.16zM8.16 217.83H16.31V221.93H8.16zM85.09 217.83H89.19V221.93H85.09zM0.00 221.88H8.21V225.97H0.00zM64.84 221.88H72.99V225.97H64.84zM93.19 221.88H109.43V225.97H93.19zM166.07 221.88H170.17V225.97H166.07zM182.27 221.88H186.36V225.97H182.27zM0.00 225.92H8.21V230.01H0.00zM68.89 225.92H77.04V230.01H68.89zM105.33 225.92H109.43V230.01H105.33zM145.82 225.92H174.22V230.01H145.82zM68.89 229.96H77.04V234.06H68.89zM85.09 229.96H89.19V234.06H85.09zM93.19 229.96H109.43V234.06H93.19zM137.73 229.96H194.46V234.06H137.73zM251.10 229.96H260.05V234.06H251.10zM64.84 234.01H72.99V238.10H64.84zM76.99 234.01H85.14V238.10H76.99zM89.14 234.01H93.24V238.10H89.14zM137.73 234.01H194.46V238.10H137.73zM251.10 234.01H260.05V238.10H251.10zM24.35 238.05H40.60V242.15H24.35zM56.75 238.05H68.94V242.15H56.75zM89.14 238.05H93.24V242.15H89.14zM109.38 238.05H125.63V242.15H109.38zM141.78 238.05H145.87V242.15H141.78zM149.87 238.05H194.46V242.15H149.87zM24.35 242.10H40.60V246.19H24.35zM56.75 242.10H64.89V246.19H56.75zM68.89 242.10H77.04V246.19H68.89zM81.04 242.10H101.34V246.19H81.04zM113.43 242.10H117.53V246.19H113.43zM125.58 242.10H129.68V246.19H125.58zM153.92 242.10H194.46V246.19H153.92zM24.35 246.14H32.50V250.23H24.35zM64.84 246.14H81.09V250.23H64.84zM85.09 246.14H97.29V250.23H85.09zM105.33 246.14H109.43V250.23H105.33zM113.43 246.14H117.53V250.23H113.43zM125.58 246.14H129.68V250.23H125.58zM153.92 246.14H170.17V250.23H153.92zM178.22 246.14H202.56V250.23H178.22zM226.80 246.14H243.05V250.23H226.80zM24.35 250.18H32.50V254.28H24.35zM64.84 250.18H89.19V254.28H64.84zM105.33 250.18H129.68V254.28H105.33zM157.97 250.18H170.17V254.28H157.97zM182.27 250.18H202.56V254.28H182.27zM226.80 250.18H243.05V254.28H226.80zM0.00 254.23H40.60V258.32H0.00zM105.33 254.23H113.48V258.32H105.33zM117.48 254.23H121.58V258.32H117.48zM186.31 254.23H218.76V258.32H186.31zM0.00 258.27H40.60V262.37H0.00zM85.09 258.27H97.29V262.37H85.09zM101.29 258.27H121.58V262.37H101.29zM194.41 258.27H218.76V262.37H194.41zM16.26 262.32H64.89V266.41H16.26zM68.89 262.32H72.99V266.41H68.89zM76.99 262.32H97.29V266.41H76.99zM113.43 262.32H125.63V266.41H113.43zM145.82 262.32H153.97V266.41H145.82zM202.51 262.32H218.76V266.41H202.51zM16.26 266.36H64.89V270.05H16.26zM68.89 266.36H89.19V270.05H68.89zM105.33 266.36H129.68V270.05H105.33zM202.51 266.36H218.76V270.05H202.51z"/>
<path fill="#3c96f5" d="M64.84 68.20H72.99V72.30H64.84zM64.84 72.25H72.99V76.34H64.84zM64.84 76.29H72.99V80.39H64.84zM64.84 80.34H72.99V84.43H64.84zM24.35 92.47H32.50V96.56H24.35zM68.89 92.47H72.99V96.56H68.89zM28.40 96.51H36.55V100.61H28.40zM68.89 96.51H72.99V100.61H68.89zM24.35 100.56H28.45V104.65H24.35zM32.45 100.56H36.55V104.65H32.45zM32.45 104.60H36.55V108.69H32.45zM64.84 104.60H68.94V108.69H64.84zM72.94 104.60H77.04V108.69H72.94zM137.73 104.60H141.83V108.69H137.73zM24.35 108.64H28.45V112.74H24.35zM64.84 108.64H72.99V112.74H64.84zM141.78 108.64H149.92V112.74H141.78zM12.21 112.69H20.36V116.78H12.21zM44.60 112.69H52.75V116.78H44.60zM145.82 112.69H162.07V116.78H145.82zM12.21 116.73H20.36V120.83H12.21zM166.07 116.73H170.17V120.83H166.07zM28.40 120.78H36.55V124.87H28.40zM48.65 120.78H52.75V124.87H48.65zM64.84 120.78H68.94V124.87H64.84zM166.07 120.78H182.32V124.87H166.07zM16.26 124.82H20.36V128.91H16.26zM24.35 124.82H28.45V128.91H24.35zM32.45 124.82H36.55V128.91H32.45zM64.84 124.82H68.94V128.91H64.84zM174.17 124.82H182.32V128.91H174.17zM72.94 128.86H77.04V132.96H72.94zM125.58 128.86H129.68V132.96H125.58zM137.73 128.86H141.83V132.96H137.73zM178.22 128.86H182.32V132.96H178.22zM52.70 132.91H56.80V137.00H52.70zM72.94 132.91H77.04V137.00H72.94zM113.43 132.91H121.58V137.00H113.43zM137.73 132.91H141.83V137.00H137.73zM44.60 136.95H52.75V141.05H44.60zM125.58 136.95H133.73V141.05H125.58zM141.78 136.95H145.87V141.05H141.78zM182.27 136.95H186.36V141.05H182.27zM129.63 141.00H133.73V145.09H129.63zM182.27 141.00H186.36V145.09H182.27zM36.50 145.04H40.60V149.13H36.50zM85.09 145.04H101.34V149.13H85.09zM182.27 145.04H186.36V149.13H182.27zM68.89 149.08H72.99V153.18H68.89zM93.19 149.08H101.34V153.18H93.19zM149.87 149.08H153.97V153.18H149.87zM182.27 149.08H186.36V153.18H182.27zM210.61 149.08H226.85V153.18H210.61zM64.84 153.13H68.94V157.22H64.84zM85.09 153.13H93.24V157.22H85.09zM145.82 153.13H149.92V157.22H145.82zM186.31 153.13H190.41V157.22H186.31zM210.61 153.13H226.85V157.22H210.61zM60.80 157.17H64.89V161.27H60.80zM72.94 157.17H77.04V161.27H72.94zM85.09 157.17H89.19V161.27H85.09zM186.31 157.17H190.41V161.27H186.31zM72.94 161.22H81.09V165.31H72.94zM85.09 161.22H93.24V165.31H85.09zM170.12 161.22H174.22V165.31H170.12zM186.31 161.22H190.41V165.31H186.31zM89.14 165.26H101.34V169.35H89.14zM162.02 165.26H166.12V169.35H162.02zM178.22 165.26H182.32V169.35H178.22zM194.41 165.26H226.85V169.35H194.41zM28.40 169.30H52.75V173.40H28.40zM113.43 169.30H117.53V173.40H113.43zM149.87 169.30H158.02V173.40H149.87zM162.02 169.30H166.12V173.40H162.02zM174.17 169.30H178.27V173.40H174.17zM194.41 169.30H226.85V173.40H194.41zM28.40 173.35H32.50V177.44H28.40zM52.70 173.35H60.85V177.44H52.70zM113.43 173.35H117.53V177.44H113.43zM153.92 173.35H174.22V177.44H153.92zM178.22 173.35H190.41V177.44H178.22zM194.41 173.35H210.66V177.44H194.41zM218.71 173.35H243.05V177.44H218.71zM20.30 177.39H32.50V181.49H20.30zM60.80 177.39H72.99V181.49H60.80zM93.19 177.39H101.34V181.49H93.19zM113.43 177.39H117.53V181.49H113.43zM149.87 177.39H158.02V181.49H149.87zM166.07 177.39H174.22V181.49H166.07zM194.41 177.39H210.66V181.49H194.41zM218.71 177.39H243.05V181.49H218.71zM24.35 181.44H32.50V185.53H24.35zM56.75 181.44H64.89V185.53H56.75zM72.94 181.44H85.14V185.53H72.94zM125.58 181.44H129.68V185.53H125.58zM149.87 181.44H158.02V185.53H149.87zM182.27 181.44H186.36V185.53H182.27zM194.41 181.44H210.66V185.53H194.41zM243.00 181.44H251.15V185.53H243.00zM24.35 185.48H32.50V189.57H24.35zM56.75 185.48H64.89V189.57H56.75zM85.09 185.48H93.24V189.57H85.09zM194.41 185.48H210.66V189.57H194.41zM243.00 185.48H251.15V189.57H243.00zM56.75 189.52H72.99V193.62H56.75zM81.04 189.52H93.24V193.62H81.04zM117.48 189.52H133.73V193.62H117.48zM56.75 193.57H77.04V197.66H56.75zM137.73 193.57H141.83V197.66H137.73zM81.04 197.61H85.14V201.71H81.04zM121.53 197.61H125.63V201.71H121.53zM145.82 197.61H149.92V201.71H145.82zM81.04 201.66H85.14V205.75H81.04zM117.48 201.66H133.73V205.75H117.48zM0.00 205.70H8.21V209.79H0.00zM81.04 205.70H85.14V209.79H81.04zM121.53 205.70H125.63V209.79H121.53zM129.63 205.70H137.78V209.79H129.63zM0.00 209.74H8.21V213.84H0.00zM81.04 209.74H85.14V213.84H81.04zM125.58 209.74H129.68V213.84H125.58zM133.68 209.74H137.78V213.84H133.68zM157.97 209.74H162.07V213.84H157.97zM81.04 213.79H85.14V217.88H81.04zM125.58 213.79H137.78V217.88H125.58zM157.97 213.79H162.07V217.88H157.97zM170.12 213.79H174.22V217.88H170.12zM89.14 217.83H109.43V221.93H89.14zM125.58 217.83H133.73V221.93H125.58zM145.82 217.83H149.92V221.93H145.82zM157.97 217.83H162.07V221.93H157.97zM149.87 221.88H166.12V225.97H149.87zM170.12 221.88H178.27V225.97H170.12zM141.78 225.92H145.87V230.01H141.78zM190.36 225.92H194.46V230.01H190.36zM0.00 229.96H8.21V234.06H0.00zM0.00 234.01H8.21V238.10H0.00zM72.94 234.01H77.04V238.10H72.94zM85.09 234.01H89.19V238.10H85.09zM93.19 234.01H109.43V238.10H93.19zM133.68 234.01H137.78V238.10H133.68zM0.00 238.05H24.40V242.15H0.00zM40.55 238.05H56.80V242.15H40.55zM68.89 238.05H89.19V242.15H68.89zM93.19 238.05H109.43V242.15H93.19zM145.82 238.05H149.92V242.15H145.82zM0.00 242.10H24.40V246.19H0.00zM40.55 242.10H56.80V246.19H40.55zM76.99 242.10H81.09V246.19H76.99zM101.29 242.10H113.48V246.19H101.29zM149.87 242.10H153.97V246.19H149.87zM0.00 246.14H24.40V250.23H0.00zM32.45 246.14H64.89V250.23H32.45zM109.38 246.14H113.48V250.23H109.38zM129.63 246.14H133.73V250.23H129.63zM149.87 246.14H153.97V250.23H149.87zM170.12 246.14H178.27V250.23H170.12zM0.00 250.18H24.40V254.28H0.00zM32.45 250.18H64.89V254.28H32.45zM129.63 250.18H137.78V254.28H129.63zM40.55 254.23H85.14V258.32H40.55zM121.53 254.23H129.68V258.32H121.53zM157.97 254.23H170.17V258.32H157.97zM40.55 258.27H85.14V262.37H40.55zM121.53 258.27H125.63V262.37H121.53zM153.92 258.27H166.12V262.37H153.92zM64.84 262.32H68.94V266.41H64.84zM72.94 262.32H77.04V266.41H72.94zM97.24 262.32H113.48V266.41H97.24zM141.78 262.32H145.87V266.41H141.78zM194.41 262.32H202.56V266.41H194.41zM89.14 266.36H105.38V270.05H89.14zM129.63 266.36H133.73V270.05H129.63zM149.87 266.36H158.02V270.05H149.87zM194.41 266.36H202.56V270.05H194.41z"/>
<path fill="#ffe878" d="M72.94 76.29H81.09V80.39H72.94zM72.94 80.34H81.09V84.43H72.94zM24.35 96.51H28.45V100.61H24.35zM72.94 96.51H77.04V100.61H72.94zM28.40 100.56H32.50V104.65H28.40zM68.89 100.56H72.99V104.65H68.89zM68.89 104.60H72.99V108.69H68.89zM28.40 108.64H32.50V112.74H28.40zM137.73 108.64H141.83V112.74H137.73zM137.73 112.69H141.83V116.78H137.73zM133.68 116.73H137.78V120.83H133.68zM157.97 116.73H162.07V120.83H157.97zM16.26 120.78H20.36V124.87H16.26zM129.63 120.78H133.73V124.87H129.63zM162.02 120.78H166.12V124.87H162.02zM28.40 124.82H32.50V128.91H28.40zM60.80 124.82H64.89V128.91H60.80zM166.07 124.82H170.17V128.91H166.07zM64.84 128.86H68.94V132.96H64.84zM170.12 128.86H174.22V132.96H170.12zM64.84 132.91H72.99V137.00H64.84zM174.17 132.91H178.27V137.00H174.17zM178.22 136.95H182.32V141.05H178.22zM93.19 141.00H101.34V145.09H93.19zM174.17 141.00H178.27V145.09H174.17zM174.17 145.04H178.27V149.13H174.17zM174.17 149.08H178.27V153.18H174.17zM72.94 153.13H85.14V157.22H72.94zM153.92 153.13H162.07V157.22H153.92zM174.17 153.13H182.32V157.22H174.17zM153.92 157.17H158.02V161.27H153.92zM162.02 157.17H166.12V161.27H162.02zM170.12 157.17H178.27V161.27H170.12zM153.92 161.22H158.02V165.31H153.92zM186.31 165.26H194.46V169.35H186.31zM190.36 169.30H194.46V173.40H190.36zM36.50 173.35H48.70V177.44H36.50zM109.38 173.35H113.48V177.44H109.38zM32.45 177.39H56.80V181.49H32.45zM101.29 177.39H105.38V181.49H101.29zM64.84 181.44H68.94V185.53H64.84zM93.19 181.44H105.38V185.53H93.19zM64.84 185.48H81.09V189.57H64.84zM113.43 185.48H117.53V189.57H113.43zM101.29 189.52H109.43V193.62H101.29zM85.09 193.57H93.24V197.66H85.09zM105.33 193.57H121.58V197.66H105.33zM129.63 193.57H133.73V197.66H129.63zM85.09 197.61H101.34V201.71H85.09zM105.33 197.61H117.53V201.71H105.33zM129.63 197.61H133.73V201.71H129.63zM141.78 197.61H145.87V201.71H141.78zM89.14 201.66H113.48V205.75H89.14zM149.87 201.66H153.97V205.75H149.87zM85.09 205.70H101.34V209.79H85.09zM109.38 205.70H121.58V209.79H109.38zM145.82 205.70H153.97V209.79H145.82zM85.09 209.74H97.29V213.84H85.09zM121.53 209.74H125.63V213.84H121.53zM0.00 213.79H8.21V217.88H0.00zM89.14 213.79H109.43V217.88H89.14zM113.43 213.79H125.63V217.88H113.43zM137.73 213.79H141.83V217.88H137.73zM0.00 217.83H8.21V221.93H0.00zM117.48 217.83H125.63V221.93H117.48zM137.73 217.83H145.87V221.93H137.73zM162.02 217.83H166.12V221.93H162.02zM170.12 217.83H174.22V221.93H170.12zM113.43 221.88H117.53V225.97H113.43zM121.53 221.88H125.63V225.97H121.53zM113.43 225.92H117.53V230.01H113.43zM129.63 225.92H137.78V230.01H129.63zM174.17 225.92H178.27V230.01H174.17zM186.31 225.92H190.41V230.01H186.31zM113.43 229.96H117.53V234.06H113.43zM129.63 229.96H133.73V234.06H129.63zM121.53 234.01H129.68V238.10H121.53zM125.58 238.05H129.68V242.15H125.58zM145.82 242.10H149.92V246.19H145.82zM153.92 250.18H158.02V254.28H153.92zM170.12 250.18H182.32V254.28H170.12zM129.63 254.23H137.78V258.32H129.63zM182.27 254.23H186.36V258.32H182.27zM125.58 258.27H129.68V262.37H125.58zM133.68 258.27H137.78V262.37H133.68zM145.82 258.27H149.92V262.37H145.82zM166.07 258.27H170.17V262.37H166.07zM182.27 258.27H186.36V262.37H182.27zM153.92 262.32H158.02V266.41H153.92zM166.07 262.32H178.27V266.41H166.07zM186.31 262.32H194.46V266.41H186.31zM133.68 266.36H141.83V270.05H133.68zM170.12 266.36H186.36V270.05H170.12z"/>
<path fill="#ffa000" d="M20.30 96.51H24.40V100.61H20.30zM24.35 104.60H28.45V108.69H24.35zM141.78 112.69H145.87V116.78H141.78zM149.87 116.73H158.02V120.83H149.87zM133.68 120.78H137.78V124.87H133.68zM68.89 128.86H72.99V132.96H68.89zM141.78 132.91H145.87V137.00H141.78zM170.12 132.91H174.22V137.00H170.12zM170.12 136.95H178.27V141.05H170.12zM145.82 141.00H149.92V145.09H145.82zM170.12 141.00H174.22V145.09H170.12zM149.87 145.04H153.97V149.13H149.87zM170.12 145.04H174.22V149.13H170.12zM153.92 149.08H162.07V153.18H153.92zM170.12 149.08H174.22V153.18H170.12zM162.02 153.13H174.22V157.22H162.02zM166.07 157.17H170.17V161.27H166.07zM105.33 169.30H113.48V173.40H105.33zM105.33 173.35H109.43V177.44H105.33zM105.33 177.39H109.43V181.49H105.33zM105.33 181.44H109.43V185.53H105.33zM113.43 181.44H117.53V185.53H113.43zM251.10 181.44H260.05V185.53H251.10zM97.24 185.48H109.43V189.57H97.24zM251.10 185.48H260.05V189.57H251.10zM133.68 193.57H137.78V197.66H133.68zM137.73 201.66H141.83V205.75H137.73zM145.82 201.66H149.92V205.75H145.82zM141.78 205.70H145.87V209.79H141.78zM97.24 209.74H101.34V213.84H97.24zM109.38 209.74H113.48V213.84H109.38zM141.78 213.79H145.87V217.88H141.78zM166.07 213.79H170.17V217.88H166.07zM137.73 221.88H141.83V225.97H137.73zM117.48 225.92H121.58V230.01H117.48zM117.48 229.96H121.58V234.06H117.48zM129.63 234.01H133.73V238.10H129.63zM129.63 242.10H133.73V246.19H129.63zM137.73 242.10H145.87V246.19H137.73zM133.68 246.14H137.78V250.23H133.68zM141.78 254.23H145.87V258.32H141.78zM153.92 254.23H158.02V258.32H153.92zM170.12 258.27H174.22V262.37H170.12zM178.22 258.27H182.32V262.37H178.22zM129.63 262.32H133.73V266.41H129.63zM137.73 262.32H141.83V266.41H137.73zM162.02 262.32H166.12V266.41H162.02zM178.22 262.32H186.36V266.41H178.22z"/>
<path fill="#ff3200" d="M28.40 104.60H32.50V108.69H28.40zM137.73 116.73H141.83V120.83H137.73zM145.82 116.73H149.92V120.83H145.82zM56.75 120.78H64.89V124.87H56.75zM157.97 120.78H162.07V124.87H157.97zM56.75 124.82H60.85V128.91H56.75zM162.02 124.82H166.12V128.91H162.02zM141.78 128.86H145.87V132.96H141.78zM162.02 128.86H170.17V132.96H162.02zM162.02 132.91H170.17V137.00H162.02zM166.07 136.95H170.17V141.05H166.07zM162.02 149.08H170.17V153.18H162.02zM109.38 177.39H113.48V181.49H109.38zM141.78 201.66H145.87V205.75H141.78zM101.29 205.70H105.38V209.79H101.29zM101.29 209.74H105.38V213.84H101.29zM113.43 209.74H121.58V213.84H113.43zM133.68 221.88H137.78V225.97H133.68zM137.73 250.18H145.87V254.28H137.73zM170.12 254.23H174.22V258.32H170.12zM178.22 254.23H182.32V258.32H178.22zM129.63 258.27H133.73V262.37H129.63zM174.17 258.27H178.27V262.37H174.17zM157.97 262.32H162.07V266.41H157.97z"/>
<path fill="#1e6eeb" d="M133.68 104.60H137.78V108.69H133.68zM133.68 108.64H137.78V112.74H133.68zM36.50 112.69H44.65V116.78H36.50zM133.68 112.69H137.78V116.78H133.68zM36.50 116.73H44.65V120.83H36.50zM129.63 116.73H133.73V120.83H129.63zM162.02 116.73H166.12V120.83H162.02zM36.50 120.78H40.60V124.87H36.50zM52.70 120.78H56.80V124.87H52.70zM52.70 124.82H56.80V128.91H52.70zM170.12 124.82H174.22V128.91H170.12zM56.75 128.86H60.85V132.96H56.75zM174.17 128.86H178.27V132.96H174.17zM56.75 132.91H64.89V137.00H56.75zM178.22 141.00H182.32V145.09H178.22zM178.22 145.04H182.32V149.13H178.22zM178.22 149.08H182.32V153.18H178.22zM68.89 153.13H72.99V157.22H68.89zM149.87 153.13H153.97V157.22H149.87zM182.27 153.13H186.36V157.22H182.27zM64.84 157.17H72.99V161.27H64.84zM76.99 157.17H85.14V161.27H76.99zM149.87 157.17H153.97V161.27H149.87zM157.97 157.17H162.07V161.27H157.97zM178.22 157.17H186.36V161.27H178.22zM149.87 161.22H153.97V165.31H149.87zM157.97 161.22H170.17V165.31H157.97zM174.17 161.22H186.36V165.31H174.17zM101.29 165.26H109.43V169.35H101.29zM153.92 165.26H162.07V169.35H153.92zM182.27 165.26H186.36V169.35H182.27zM101.29 169.30H105.38V173.40H101.29zM157.97 169.30H162.07V173.40H157.97zM178.22 169.30H190.41V173.40H178.22zM32.45 173.35H36.55V177.44H32.45zM48.65 173.35H52.75V177.44H48.65zM101.29 173.35H105.38V177.44H101.29zM56.75 177.39H60.85V181.49H56.75zM68.89 181.44H72.99V185.53H68.89zM85.09 181.44H93.24V185.53H85.09zM81.04 185.48H85.14V189.57H81.04zM93.19 185.48H97.29V189.57H93.19zM109.38 185.48H113.48V189.57H109.38zM72.94 189.52H81.09V193.62H72.94zM93.19 189.52H101.34V193.62H93.19zM109.38 189.52H117.53V193.62H109.38zM76.99 193.57H85.14V197.66H76.99zM93.19 193.57H105.38V197.66H93.19zM101.29 197.61H105.38V201.71H101.29zM117.48 197.61H121.58V201.71H117.48zM85.09 201.66H89.19V205.75H85.09zM113.43 201.66H117.53V205.75H113.43zM133.68 201.66H137.78V205.75H133.68zM137.73 205.70H141.83V209.79H137.73zM153.92 205.70H158.02V209.79H153.92zM137.73 209.74H145.87V213.84H137.73zM85.09 213.79H89.19V217.88H85.09zM109.38 213.79H113.48V217.88H109.38zM162.02 213.79H166.12V217.88H162.02zM174.17 213.79H178.27V217.88H174.17zM109.38 217.83H117.53V221.93H109.38zM133.68 217.83H137.78V221.93H133.68zM166.07 217.83H170.17V221.93H166.07zM174.17 217.83H182.32V221.93H174.17zM109.38 221.88H113.48V225.97H109.38zM125.58 221.88H133.73V225.97H125.58zM141.78 221.88H149.92V225.97H141.78zM178.22 221.88H182.32V225.97H178.22zM109.38 225.92H113.48V230.01H109.38zM137.73 225.92H141.83V230.01H137.73zM109.38 229.96H113.48V234.06H109.38zM133.68 229.96H137.78V234.06H133.68zM109.38 234.01H121.58V238.10H109.38zM137.73 238.05H141.83V242.15H137.73zM137.73 254.23H141.83V258.32H137.73zM137.73 258.27H145.87V262.37H137.73zM149.87 258.27H153.97V262.37H149.87zM186.31 258.27H194.46V262.37H186.31zM125.58 262.32H129.68V266.41H125.58zM141.78 266.36H149.92V270.05H141.78zM157.97 266.36H170.17V270.05H157.97zM186.31 266.36H194.46V270.05H186.31z"/>
<path fill="#a51e1e" d="M141.78 116.73H145.87V120.83H141.78zM137.73 120.78H158.02V124.87H137.73zM141.78 124.82H162.07V128.91H141.78zM145.82 128.86H162.07V132.96H145.82zM145.82 132.91H162.07V137.00H145.82zM145.82 136.95H166.12V141.05H145.82zM149.87 141.00H170.17V145.09H149.87zM153.92 145.04H170.17V149.13H153.92zM109.38 181.44H113.48V185.53H109.38zM133.68 197.61H141.83V201.71H133.68zM105.33 205.70H109.43V209.79H105.33zM105.33 209.74H109.43V213.84H105.33zM121.53 225.92H129.68V230.01H121.53zM178.22 225.92H186.36V230.01H178.22zM121.53 229.96H129.68V234.06H121.53zM129.63 238.05H137.78V242.15H129.63zM133.68 242.10H137.78V246.19H133.68zM137.73 246.14H149.92V250.23H137.73zM145.82 250.18H153.97V254.28H145.82zM145.82 254.23H153.97V258.32H145.82zM174.17 254.23H178.27V258.32H174.17zM133.68 262.32H137.78V266.41H133.68z"/>
<use href="#bd"/></g>
<rect x="-0.2" y="0.68" width="259.6" height="268.95" fill="none" stroke="#000" stroke-width="1.25" shape-rendering="geometricPrecision"/></g>
</svg>
<div class="t pt" style="left:14.5px;top:12.0px;">Daily Precip. Forecast for May 30, 2025</div>
<div class="t pt" style="left:292.7px;top:12.0px;">Daily Precip. Forecast for May 31, 2025</div>
<div class="t pt" style="left:570.7px;top:12.0px;">Daily Precip. Forecast for Jun 1, 2025</div>
<div class="t pt" style="left:14.5px;top:306.0px;">Daily Precip. Forecast for Jun 2, 2025</div>
<div class="t pt" style="left:292.7px;top:306.0px;">Daily Precip. Forecast for Jun 3, 2025</div>
<div class="t pt" style="left:570.7px;top:306.0px;">Daily Precip. Forecast for Jun 4, 2025</div>
<div class="t hd" style="top:30.9px;letter-spacing:0.55px">Precip.</div>
<div class="t hd" style="top:59.7px;letter-spacing:0.55px">Forecast</div>
<div class="t sb" style="top:111.5px;letter-spacing:0.6px">as of</div>
<div class="t sb" style="top:132.8px;letter-spacing:0.68px">May 30, 2025</div>
<div class="t sb" style="top:178.8px;letter-spacing:0.7px">Daily Totals</div>
<div class="t sb" style="top:246.9px;letter-spacing:0.6px">Data:</div>
<div class="t sb" style="top:268.5px;letter-spacing:-0.1px">NOAA-GFS</div>
<div class="t " style="left:14px;top:603.8px;font-size:11px;letter-spacing:-0.2px;color:#222">Map Produced by USGS/EROS</div>
<div style="position:absolute;left:839px;top:353px;width:90px;height:234.6px;border:1.3px solid #777;border-radius:1px;background:#fff"></div>
<div class="t " style="left:847.4px;top:365.3px;font-weight:bold;font-size:15px;letter-spacing:0.75px">PPT (mm)</div>
<div class="sw" style="top:388.9px;background:#ffffff"></div>
<div class="t lg" style="top:388.9px;letter-spacing:0.4px">0 - 0.1</div>
<div class="sw" style="top:404.1px;background:#f0dcb4"></div>
<div class="t lg" style="top:404.1px;letter-spacing:0.4px">0.1 - 1</div>
<div class="sw" style="top:419.2px;background:#b4faaa"></div>
<div class="t lg" style="top:419.2px;letter-spacing:0.4px">1 - 5</div>
<div class="sw" style="top:434.4px;background:#78f573"></div>
<div class="t lg" style="top:434.4px;letter-spacing:0.4px">5 - 10</div>
<div class="sw" style="top:449.6px;background:#b4f0fa"></div>
<div class="t lg" style="top:449.6px;letter-spacing:0.4px">10 - 20</div>
<div class="sw" style="top:464.7px;background:#78b9fa"></div>
<div class="t lg" style="top:464.7px;letter-spacing:0.4px">20 - 30</div>
<div class="sw" style="top:479.9px;background:#3c96f5"></div>
<div class="t lg" style="top:479.9px;letter-spacing:0.4px">30 - 40</div>
<div class="sw" style="top:495.1px;background:#1e6eeb"></div>
<div class="t lg" style="top:495.1px;letter-spacing:0.4px">40 - 50</div>
<div class="sw" style="top:510.3px;background:#ffe878"></div>
<div class="t lg" style="top:510.3px;letter-spacing:0.4px">50 - 65</div>
<div class="sw" style="top:525.4px;background:#ffa000"></div>
<div class="t lg" style="top:525.4px;letter-spacing:0.4px">65 - 80</div>
<div class="sw" style="top:540.6px;background:#ff3200"></div>
<div class="t lg" style="top:540.6px;letter-spacing:0.4px">80 - 100</div>
<div class="sw" style="top:555.8px;background:#a51e1e"></div>
<div class="t lg" style="top:555.8px;letter-spacing:0.4px">&gt; 100</div>
<div class="sw" style="top:570.9px;background:#999999"></div>
<div class="t lg" style="top:570.9px;letter-spacing:0.4px">No Data</div>
<svg width="250" height="32" viewBox="595 592 250 32" style="position:absolute;left:595px;top:592px;font-family:'Liberation Sans',sans-serif;will-change:transform;transform:translateZ(0)">
<!-- USGS -->
<rect x="601.8" y="600.4" width="13" height="13.6" fill="#0a7a50"/>
<path d="M601.8 604.5 C606 604 610 608.5 614.8 607.6 M601.8 606.2 C606 605.6 610 610 614.8 609.2 M601.8 608 C606 607.3 610 611.6 614.8 610.8 M601.8 609.6 C605 604.5 611 603.6 614.8 604.6" stroke="#e8f5ee" stroke-width="0.7" fill="none"/>
<text x="617.4" y="614" font-size="19" font-weight="bold" fill="#0a7a50" textLength="35.8" lengthAdjust="spacingAndGlyphs">USGS</text>
<text x="601.8" y="618.6" font-size="4.3" font-weight="bold" font-style="italic" fill="#2a8c66" textLength="51.2" lengthAdjust="spacingAndGlyphs">science for a changing world</text>
<!-- NOAA -->
<circle cx="667.4" cy="608.7" r="9.4" fill="#fff" stroke="#b9b9c6" stroke-width="0.6"/>
<clipPath id="nc"><circle cx="667.4" cy="608.7" r="8.7"/></clipPath>
<g clip-path="url(#nc)"><rect x="657" y="598" width="22" height="22" fill="#2aa3ea"/>
<path d="M657 598 H679 V606 L668 611.5 L657 606 Z" fill="#1b2a6e"/>
<path d="M658.5 605.2 Q663 606 667.4 611.8 Q671 606.5 677.5 603.5 Q672 608 668 615 Q664 608 658.5 605.2Z" fill="#fff"/>
<rect x="664.2" y="603.2" width="6.4" height="1.7" fill="#dfe6f5"/></g>
<!-- USAID seal -->
<circle cx="691.5" cy="608.7" r="9.9" fill="#fff" stroke="#3b5ba5" stroke-width="0.9"/>
<circle cx="691.5" cy="608.7" r="7.4" fill="#fff" stroke="#3b5ba5" stroke-width="0.7"/>
<rect x="687.2" y="603.6" width="8.6" height="2.2" rx="0.6" fill="#2f4f9e"/>
<rect x="687.6" y="607" width="7.8" height="2.6" rx="0.8" fill="#eef1f8" stroke="#5a73b5" stroke-width="0.5"/>
<path d="M687.3 611.2 H695.7 L694.6 614.4 H688.4 Z" fill="#d23a44"/>
<!-- USAID text -->
<text x="704" y="613" font-size="13.4" font-weight="bold" fill="#0a2f6c" textLength="19.6" lengthAdjust="spacingAndGlyphs">US</text>
<text x="723.6" y="613" font-size="13.4" font-weight="bold" fill="#bf1232" textLength="28.6" lengthAdjust="spacingAndGlyphs">AID</text>
<text x="703.8" y="618" font-size="3.7" fill="#3a56a0" textLength="48.8" lengthAdjust="spacingAndGlyphs">FROM THE AMERICAN PEOPLE</text>
<!-- FEWS NET -->
<circle cx="766.8" cy="609.6" r="8.7" fill="none" stroke="#e8853a" stroke-width="1.5" stroke-dasharray="4.2 1.2"/>
<path d="M759.3 605 A8.7 8.7 0 0 1 773 603.5" fill="none" stroke="#3a3a3a" stroke-width="1.5" stroke-dasharray="2.4 1"/>
<path d="M775.4 608 A8.7 8.7 0 0 1 771 617.2" fill="none" stroke="#2c8f72" stroke-width="1.5"/>
<circle cx="766.8" cy="609.6" r="6.6" fill="#eaf3ee"/>
<path d="M762 605.2 Q764.5 603.6 766.3 604.6 Q766 607 764 608.4 Q763.8 611 765 613.8 Q762.2 613 761 610 Q760.6 607 762 605.2Z M768 606.2 Q770.6 604.6 772.4 606.8 Q773.6 610 771.8 613 Q770.6 614.8 769.4 613.2 Q769.6 610.6 768.2 609 Q767.2 607.4 768 606.2Z" fill="#1f7a57"/>
<text x="779" y="613.6" font-size="11" font-weight="bold" fill="#333" textLength="50.2" lengthAdjust="spacingAndGlyphs">FEWS NET</text>
</svg>
</body></html>
